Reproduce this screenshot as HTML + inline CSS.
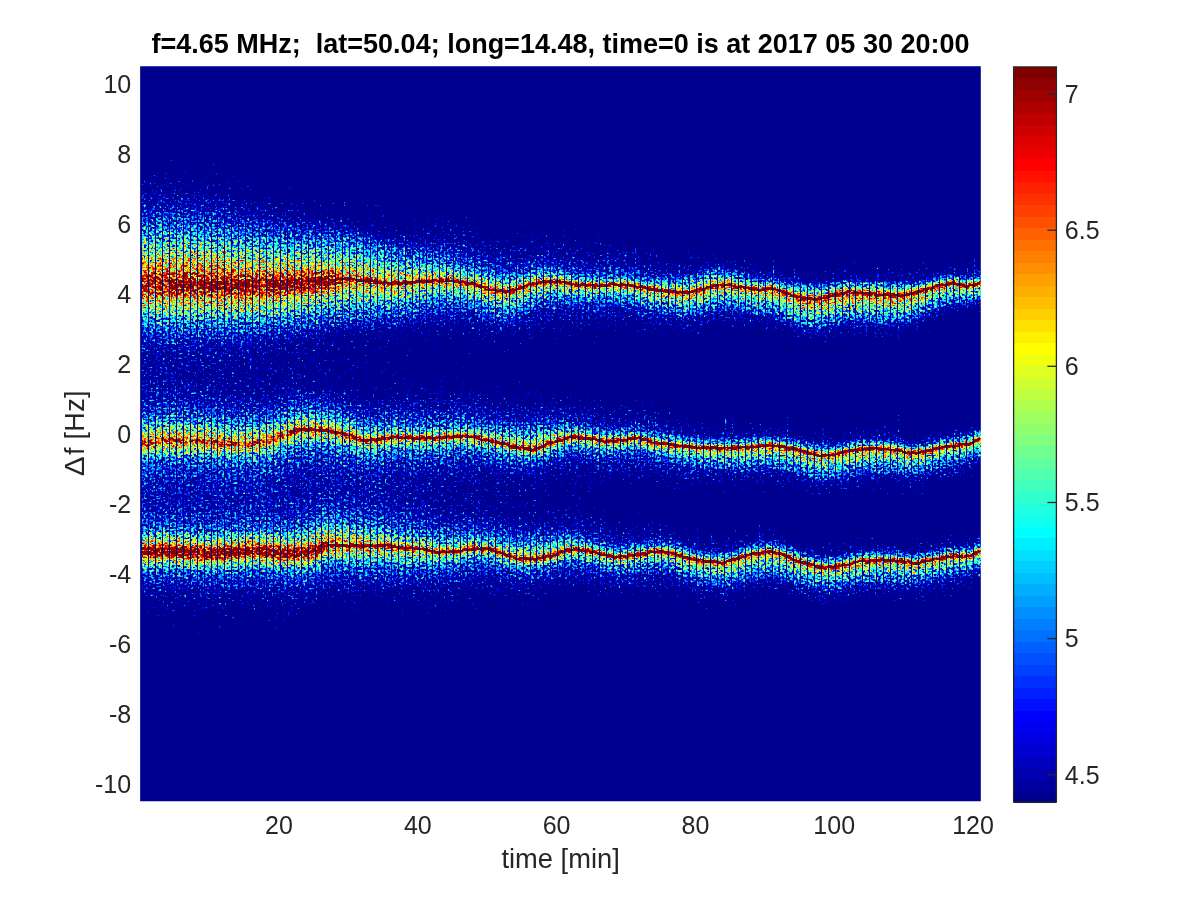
<!DOCTYPE html><html><head><meta charset="utf-8"><title>Doppler spectrogram</title><style>html,body{margin:0;padding:0;background:#fff}svg{display:block}text{font-family:"Liberation Sans",Arial,Helvetica,sans-serif;fill:#262626}</style></head><body>
<svg width="1200" height="900" viewBox="0 0 1200 900">
<defs>
<filter id="spec" filterUnits="userSpaceOnUse" x="139" y="65" width="843" height="738" color-interpolation-filters="sRGB">
<feTurbulence type="fractalNoise" baseFrequency="0.32 0.40" numOctaves="1" seed="7" result="n1"/>
<feTurbulence type="fractalNoise" baseFrequency="0.52 0.58" numOctaves="1" seed="23" result="n2"/>
<feComposite in="n1" in2="n2" operator="arithmetic" k1="0" k2="0.55" k3="0.45" k4="0" result="n"/>
<feColorMatrix in="n" type="matrix" values="1 0 0 0 0  1 0 0 0 0  1 0 0 0 0  0 0 0 0 1" result="ng0"/>
<feComponentTransfer in="ng0" result="ng"><feFuncR type="table" tableValues="0.084 0.084 0.084 0.084 0.084 0.084 0.084 0.084 0.084 0.084 0.084 0.084 0.084 0.084 0.084 0.084 0.084 0.084 0.084 0.084 0.084 0.084 0.084 0.084 0.119 0.153 0.185 0.216 0.246 0.274 0.301 0.327 0.353 0.378 0.403 0.428 0.452 0.476 0.500 0.524 0.547 0.572 0.596 0.619 0.636 0.652 0.668 0.684 0.700 0.717 0.734 0.750 0.768 0.785 0.802 0.820 0.839 0.857 0.877 0.897 0.919 0.942 0.964 0.970 0.970 0.970 0.970 0.970 0.970 0.970 0.970 0.970 0.970 0.970 0.970 0.970 0.970 0.970 0.970 0.970 0.970 0.970 0.970 0.970 0.970 0.970"/><feFuncG type="table" tableValues="0.084 0.084 0.084 0.084 0.084 0.084 0.084 0.084 0.084 0.084 0.084 0.084 0.084 0.084 0.084 0.084 0.084 0.084 0.084 0.084 0.084 0.084 0.084 0.084 0.119 0.153 0.185 0.216 0.246 0.274 0.301 0.327 0.353 0.378 0.403 0.428 0.452 0.476 0.500 0.524 0.547 0.572 0.596 0.619 0.636 0.652 0.668 0.684 0.700 0.717 0.734 0.750 0.768 0.785 0.802 0.820 0.839 0.857 0.877 0.897 0.919 0.942 0.964 0.970 0.970 0.970 0.970 0.970 0.970 0.970 0.970 0.970 0.970 0.970 0.970 0.970 0.970 0.970 0.970 0.970 0.970 0.970 0.970 0.970 0.970 0.970"/><feFuncB type="table" tableValues="0.084 0.084 0.084 0.084 0.084 0.084 0.084 0.084 0.084 0.084 0.084 0.084 0.084 0.084 0.084 0.084 0.084 0.084 0.084 0.084 0.084 0.084 0.084 0.084 0.119 0.153 0.185 0.216 0.246 0.274 0.301 0.327 0.353 0.378 0.403 0.428 0.452 0.476 0.500 0.524 0.547 0.572 0.596 0.619 0.636 0.652 0.668 0.684 0.700 0.717 0.734 0.750 0.768 0.785 0.802 0.820 0.839 0.857 0.877 0.897 0.919 0.942 0.964 0.970 0.970 0.970 0.970 0.970 0.970 0.970 0.970 0.970 0.970 0.970 0.970 0.970 0.970 0.970 0.970 0.970 0.970 0.970 0.970 0.970 0.970 0.970"/></feComponentTransfer>
<feComposite in="SourceGraphic" in2="ng" operator="arithmetic" k1="0" k2="2.4" k3="1.300" k4="-1.800" result="c"/>
<feComponentTransfer in="c"><feFuncR type="discrete" tableValues="0.0000 0.0000 0.0000 0.0000 0.0000 0.0000 0.0000 0.0000 0.0000 0.0000 0.0000 0.0000 0.0000 0.0000 0.0000 0.0000 0.0000 0.0000 0.0000 0.0000 0.0000 0.0000 0.0000 0.0000 0.0625 0.1250 0.1875 0.2500 0.3125 0.3750 0.4375 0.5000 0.5625 0.6250 0.6875 0.7500 0.8125 0.8750 0.9375 1.0000 1.0000 1.0000 1.0000 1.0000 1.0000 1.0000 1.0000 1.0000 1.0000 1.0000 1.0000 1.0000 1.0000 1.0000 1.0000 1.0000 0.9375 0.8750 0.8125 0.7500 0.6875 0.6250 0.5625 0.5000"/><feFuncG type="discrete" tableValues="0.0000 0.0000 0.0000 0.0000 0.0000 0.0000 0.0000 0.0000 0.0625 0.1250 0.1875 0.2500 0.3125 0.3750 0.4375 0.5000 0.5625 0.6250 0.6875 0.7500 0.8125 0.8750 0.9375 1.0000 1.0000 1.0000 1.0000 1.0000 1.0000 1.0000 1.0000 1.0000 1.0000 1.0000 1.0000 1.0000 1.0000 1.0000 1.0000 1.0000 0.9375 0.8750 0.8125 0.7500 0.6875 0.6250 0.5625 0.5000 0.4375 0.3750 0.3125 0.2500 0.1875 0.1250 0.0625 0.0000 0.0000 0.0000 0.0000 0.0000 0.0000 0.0000 0.0000 0.0000"/><feFuncB type="discrete" tableValues="0.5625 0.6250 0.6875 0.7500 0.8125 0.8750 0.9375 1.0000 1.0000 1.0000 1.0000 1.0000 1.0000 1.0000 1.0000 1.0000 1.0000 1.0000 1.0000 1.0000 1.0000 1.0000 1.0000 1.0000 0.9375 0.8750 0.8125 0.7500 0.6875 0.6250 0.5625 0.5000 0.4375 0.3750 0.3125 0.2500 0.1875 0.1250 0.0625 0.0000 0.0000 0.0000 0.0000 0.0000 0.0000 0.0000 0.0000 0.0000 0.0000 0.0000 0.0000 0.0000 0.0000 0.0000 0.0000 0.0000 0.0000 0.0000 0.0000 0.0000 0.0000 0.0000 0.0000 0.0000"/><feFuncA type="linear" slope="0" intercept="1"/></feComponentTransfer>
</filter>
<linearGradient id="c0" x1="0" y1="0" x2="0" y2="1"><stop offset="0.0000" stop-color="#181818"/><stop offset="0.0776" stop-color="#191919"/><stop offset="0.0939" stop-color="#262626"/><stop offset="0.1197" stop-color="#484848"/><stop offset="0.1946" stop-color="#707070"/><stop offset="0.2381" stop-color="#929292"/><stop offset="0.2952" stop-color="#cbcbcb"/><stop offset="0.3034" stop-color="#c2c2c2"/><stop offset="0.3442" stop-color="#8c8c8c"/><stop offset="0.3714" stop-color="#727272"/><stop offset="0.3918" stop-color="#676767"/><stop offset="0.4190" stop-color="#646464"/><stop offset="0.4476" stop-color="#6b6b6b"/><stop offset="0.4735" stop-color="#7c7c7c"/><stop offset="0.4844" stop-color="#888888"/><stop offset="0.5048" stop-color="#afafaf"/><stop offset="0.5129" stop-color="#bfbfbf"/><stop offset="0.5361" stop-color="#888888"/><stop offset="0.5429" stop-color="#7f7f7f"/><stop offset="0.5660" stop-color="#727272"/><stop offset="0.5864" stop-color="#6e6e6e"/><stop offset="0.6041" stop-color="#727272"/><stop offset="0.6259" stop-color="#7e7e7e"/><stop offset="0.6299" stop-color="#838383"/><stop offset="0.6422" stop-color="#9e9e9e"/><stop offset="0.6599" stop-color="#cbcbcb"/><stop offset="0.6694" stop-color="#b1b1b1"/><stop offset="0.6844" stop-color="#898989"/><stop offset="0.6898" stop-color="#7e7e7e"/><stop offset="0.7156" stop-color="#666666"/><stop offset="0.7442" stop-color="#555555"/><stop offset="0.7728" stop-color="#464646"/><stop offset="0.7946" stop-color="#282828"/><stop offset="0.8109" stop-color="#1a1a1a"/><stop offset="0.8231" stop-color="#181818"/><stop offset="1.0000" stop-color="#181818"/></linearGradient>
<linearGradient id="c1" x1="0" y1="0" x2="0" y2="1"><stop offset="0.0000" stop-color="#181818"/><stop offset="0.0762" stop-color="#191919"/><stop offset="0.0925" stop-color="#262626"/><stop offset="0.1184" stop-color="#484848"/><stop offset="0.1932" stop-color="#6f6f6f"/><stop offset="0.2367" stop-color="#919191"/><stop offset="0.2952" stop-color="#cccccc"/><stop offset="0.3170" stop-color="#afafaf"/><stop offset="0.3483" stop-color="#878787"/><stop offset="0.3728" stop-color="#717171"/><stop offset="0.3932" stop-color="#676767"/><stop offset="0.4218" stop-color="#646464"/><stop offset="0.4503" stop-color="#6e6e6e"/><stop offset="0.4762" stop-color="#808080"/><stop offset="0.4857" stop-color="#8d8d8d"/><stop offset="0.5116" stop-color="#bfbfbf"/><stop offset="0.5333" stop-color="#8a8a8a"/><stop offset="0.5415" stop-color="#7f7f7f"/><stop offset="0.5646" stop-color="#727272"/><stop offset="0.5850" stop-color="#6e6e6e"/><stop offset="0.6041" stop-color="#727272"/><stop offset="0.6272" stop-color="#808080"/><stop offset="0.6367" stop-color="#919191"/><stop offset="0.6585" stop-color="#c9c9c9"/><stop offset="0.6599" stop-color="#cbcbcb"/><stop offset="0.6830" stop-color="#8b8b8b"/><stop offset="0.6884" stop-color="#7f7f7f"/><stop offset="0.7143" stop-color="#676767"/><stop offset="0.7415" stop-color="#565656"/><stop offset="0.7714" stop-color="#474747"/><stop offset="0.7946" stop-color="#272727"/><stop offset="0.8109" stop-color="#191919"/><stop offset="0.8245" stop-color="#181818"/><stop offset="1.0000" stop-color="#181818"/></linearGradient>
<linearGradient id="c2" x1="0" y1="0" x2="0" y2="1"><stop offset="0.0000" stop-color="#181818"/><stop offset="0.0748" stop-color="#191919"/><stop offset="0.0912" stop-color="#252525"/><stop offset="0.1184" stop-color="#484848"/><stop offset="0.1932" stop-color="#707070"/><stop offset="0.2381" stop-color="#939393"/><stop offset="0.2966" stop-color="#cccccc"/><stop offset="0.3456" stop-color="#8b8b8b"/><stop offset="0.3728" stop-color="#727272"/><stop offset="0.3932" stop-color="#676767"/><stop offset="0.4204" stop-color="#656565"/><stop offset="0.4503" stop-color="#6f6f6f"/><stop offset="0.4748" stop-color="#808080"/><stop offset="0.4844" stop-color="#8d8d8d"/><stop offset="0.5102" stop-color="#bfbfbf"/><stop offset="0.5320" stop-color="#898989"/><stop offset="0.5401" stop-color="#7f7f7f"/><stop offset="0.5633" stop-color="#727272"/><stop offset="0.5837" stop-color="#6e6e6e"/><stop offset="0.6027" stop-color="#717171"/><stop offset="0.6245" stop-color="#7e7e7e"/><stop offset="0.6299" stop-color="#858585"/><stop offset="0.6408" stop-color="#9d9d9d"/><stop offset="0.6585" stop-color="#cbcbcb"/><stop offset="0.6599" stop-color="#cacaca"/><stop offset="0.6816" stop-color="#8d8d8d"/><stop offset="0.6884" stop-color="#7e7e7e"/><stop offset="0.7143" stop-color="#666666"/><stop offset="0.7429" stop-color="#555555"/><stop offset="0.7714" stop-color="#474747"/><stop offset="0.7946" stop-color="#272727"/><stop offset="0.8109" stop-color="#191919"/><stop offset="0.8367" stop-color="#181818"/><stop offset="1.0000" stop-color="#181818"/></linearGradient>
<linearGradient id="c3" x1="0" y1="0" x2="0" y2="1"><stop offset="0.0000" stop-color="#181818"/><stop offset="0.0748" stop-color="#191919"/><stop offset="0.0912" stop-color="#262626"/><stop offset="0.1170" stop-color="#484848"/><stop offset="0.1932" stop-color="#707070"/><stop offset="0.2395" stop-color="#949494"/><stop offset="0.2966" stop-color="#cccccc"/><stop offset="0.3483" stop-color="#898989"/><stop offset="0.3741" stop-color="#717171"/><stop offset="0.3946" stop-color="#676767"/><stop offset="0.4218" stop-color="#656565"/><stop offset="0.4503" stop-color="#6f6f6f"/><stop offset="0.4735" stop-color="#7f7f7f"/><stop offset="0.4844" stop-color="#8e8e8e"/><stop offset="0.5088" stop-color="#bfbfbf"/><stop offset="0.5320" stop-color="#888888"/><stop offset="0.5401" stop-color="#7e7e7e"/><stop offset="0.5633" stop-color="#717171"/><stop offset="0.5837" stop-color="#6e6e6e"/><stop offset="0.6027" stop-color="#717171"/><stop offset="0.6245" stop-color="#7e7e7e"/><stop offset="0.6299" stop-color="#858585"/><stop offset="0.6408" stop-color="#9d9d9d"/><stop offset="0.6585" stop-color="#cbcbcb"/><stop offset="0.6599" stop-color="#cacaca"/><stop offset="0.6816" stop-color="#8d8d8d"/><stop offset="0.6884" stop-color="#7e7e7e"/><stop offset="0.7143" stop-color="#666666"/><stop offset="0.7429" stop-color="#555555"/><stop offset="0.7714" stop-color="#474747"/><stop offset="0.7946" stop-color="#262626"/><stop offset="0.8109" stop-color="#191919"/><stop offset="0.8395" stop-color="#181818"/><stop offset="1.0000" stop-color="#181818"/></linearGradient>
<linearGradient id="c4" x1="0" y1="0" x2="0" y2="1"><stop offset="0.0000" stop-color="#181818"/><stop offset="0.0735" stop-color="#181818"/><stop offset="0.0898" stop-color="#252525"/><stop offset="0.1170" stop-color="#484848"/><stop offset="0.1918" stop-color="#6f6f6f"/><stop offset="0.2381" stop-color="#939393"/><stop offset="0.2966" stop-color="#cbcbcb"/><stop offset="0.3088" stop-color="#bdbdbd"/><stop offset="0.3456" stop-color="#8c8c8c"/><stop offset="0.3728" stop-color="#737373"/><stop offset="0.3918" stop-color="#686868"/><stop offset="0.4177" stop-color="#656565"/><stop offset="0.4449" stop-color="#6c6c6c"/><stop offset="0.4667" stop-color="#7a7a7a"/><stop offset="0.4789" stop-color="#858585"/><stop offset="0.4871" stop-color="#939393"/><stop offset="0.5088" stop-color="#bebebe"/><stop offset="0.5320" stop-color="#888888"/><stop offset="0.5401" stop-color="#7e7e7e"/><stop offset="0.5646" stop-color="#717171"/><stop offset="0.5864" stop-color="#6d6d6d"/><stop offset="0.6054" stop-color="#727272"/><stop offset="0.6272" stop-color="#808080"/><stop offset="0.6354" stop-color="#8e8e8e"/><stop offset="0.6599" stop-color="#cbcbcb"/><stop offset="0.6830" stop-color="#8b8b8b"/><stop offset="0.6884" stop-color="#7f7f7f"/><stop offset="0.7143" stop-color="#676767"/><stop offset="0.7415" stop-color="#565656"/><stop offset="0.7714" stop-color="#484848"/><stop offset="0.7946" stop-color="#272727"/><stop offset="0.8109" stop-color="#1a1a1a"/><stop offset="0.8231" stop-color="#181818"/><stop offset="1.0000" stop-color="#181818"/></linearGradient>
<linearGradient id="c5" x1="0" y1="0" x2="0" y2="1"><stop offset="0.0000" stop-color="#181818"/><stop offset="0.0748" stop-color="#191919"/><stop offset="0.0912" stop-color="#252525"/><stop offset="0.1170" stop-color="#484848"/><stop offset="0.1932" stop-color="#707070"/><stop offset="0.2408" stop-color="#959595"/><stop offset="0.2980" stop-color="#cbcbcb"/><stop offset="0.3469" stop-color="#8b8b8b"/><stop offset="0.3741" stop-color="#727272"/><stop offset="0.3946" stop-color="#686868"/><stop offset="0.4218" stop-color="#656565"/><stop offset="0.4503" stop-color="#6f6f6f"/><stop offset="0.4735" stop-color="#7f7f7f"/><stop offset="0.4844" stop-color="#8d8d8d"/><stop offset="0.5088" stop-color="#bebebe"/><stop offset="0.5320" stop-color="#888888"/><stop offset="0.5401" stop-color="#7e7e7e"/><stop offset="0.5646" stop-color="#717171"/><stop offset="0.5864" stop-color="#6d6d6d"/><stop offset="0.6054" stop-color="#727272"/><stop offset="0.6286" stop-color="#808080"/><stop offset="0.6395" stop-color="#969696"/><stop offset="0.6599" stop-color="#cbcbcb"/><stop offset="0.6626" stop-color="#c6c6c6"/><stop offset="0.6830" stop-color="#8c8c8c"/><stop offset="0.6898" stop-color="#7e7e7e"/><stop offset="0.7156" stop-color="#666666"/><stop offset="0.7442" stop-color="#555555"/><stop offset="0.7728" stop-color="#474747"/><stop offset="0.7959" stop-color="#262626"/><stop offset="0.8122" stop-color="#191919"/><stop offset="0.8449" stop-color="#181818"/><stop offset="1.0000" stop-color="#181818"/></linearGradient>
<linearGradient id="c6" x1="0" y1="0" x2="0" y2="1"><stop offset="0.0000" stop-color="#181818"/><stop offset="0.0762" stop-color="#191919"/><stop offset="0.0925" stop-color="#252525"/><stop offset="0.1184" stop-color="#484848"/><stop offset="0.1932" stop-color="#6f6f6f"/><stop offset="0.2408" stop-color="#959595"/><stop offset="0.2966" stop-color="#cccccc"/><stop offset="0.3184" stop-color="#afafaf"/><stop offset="0.3497" stop-color="#878787"/><stop offset="0.3741" stop-color="#727272"/><stop offset="0.3946" stop-color="#676767"/><stop offset="0.4218" stop-color="#646464"/><stop offset="0.4503" stop-color="#6e6e6e"/><stop offset="0.4735" stop-color="#7f7f7f"/><stop offset="0.4844" stop-color="#8d8d8d"/><stop offset="0.5088" stop-color="#bebebe"/><stop offset="0.5320" stop-color="#888888"/><stop offset="0.5401" stop-color="#7e7e7e"/><stop offset="0.5646" stop-color="#717171"/><stop offset="0.5864" stop-color="#6d6d6d"/><stop offset="0.6068" stop-color="#727272"/><stop offset="0.6286" stop-color="#808080"/><stop offset="0.6381" stop-color="#919191"/><stop offset="0.6599" stop-color="#c9c9c9"/><stop offset="0.6612" stop-color="#cbcbcb"/><stop offset="0.6830" stop-color="#8e8e8e"/><stop offset="0.6898" stop-color="#7f7f7f"/><stop offset="0.7156" stop-color="#676767"/><stop offset="0.7442" stop-color="#565656"/><stop offset="0.7728" stop-color="#484848"/><stop offset="0.7959" stop-color="#272727"/><stop offset="0.8122" stop-color="#191919"/><stop offset="0.8259" stop-color="#181818"/><stop offset="1.0000" stop-color="#181818"/></linearGradient>
<linearGradient id="c7" x1="0" y1="0" x2="0" y2="1"><stop offset="0.0000" stop-color="#181818"/><stop offset="0.0776" stop-color="#191919"/><stop offset="0.0939" stop-color="#252525"/><stop offset="0.1197" stop-color="#484848"/><stop offset="0.1932" stop-color="#6f6f6f"/><stop offset="0.2408" stop-color="#959595"/><stop offset="0.2966" stop-color="#cccccc"/><stop offset="0.3456" stop-color="#8b8b8b"/><stop offset="0.3728" stop-color="#727272"/><stop offset="0.3932" stop-color="#676767"/><stop offset="0.4204" stop-color="#646464"/><stop offset="0.4476" stop-color="#6c6c6c"/><stop offset="0.4707" stop-color="#7c7c7c"/><stop offset="0.4830" stop-color="#898989"/><stop offset="0.5088" stop-color="#bdbdbd"/><stop offset="0.5102" stop-color="#bdbdbd"/><stop offset="0.5320" stop-color="#898989"/><stop offset="0.5401" stop-color="#7f7f7f"/><stop offset="0.5646" stop-color="#717171"/><stop offset="0.5864" stop-color="#6d6d6d"/><stop offset="0.6068" stop-color="#727272"/><stop offset="0.6299" stop-color="#808080"/><stop offset="0.6408" stop-color="#979797"/><stop offset="0.6612" stop-color="#cbcbcb"/><stop offset="0.6667" stop-color="#bebebe"/><stop offset="0.6830" stop-color="#8f8f8f"/><stop offset="0.6898" stop-color="#7f7f7f"/><stop offset="0.7156" stop-color="#676767"/><stop offset="0.7442" stop-color="#565656"/><stop offset="0.7741" stop-color="#464646"/><stop offset="0.7973" stop-color="#262626"/><stop offset="0.8136" stop-color="#191919"/><stop offset="0.8694" stop-color="#181818"/><stop offset="1.0000" stop-color="#181818"/></linearGradient>
<linearGradient id="c8" x1="0" y1="0" x2="0" y2="1"><stop offset="0.0000" stop-color="#181818"/><stop offset="0.0789" stop-color="#191919"/><stop offset="0.0952" stop-color="#262626"/><stop offset="0.1211" stop-color="#484848"/><stop offset="0.1932" stop-color="#6e6e6e"/><stop offset="0.2408" stop-color="#959595"/><stop offset="0.2966" stop-color="#cccccc"/><stop offset="0.3456" stop-color="#8b8b8b"/><stop offset="0.3714" stop-color="#737373"/><stop offset="0.3918" stop-color="#686868"/><stop offset="0.4177" stop-color="#646464"/><stop offset="0.4395" stop-color="#686868"/><stop offset="0.4626" stop-color="#747474"/><stop offset="0.4789" stop-color="#838383"/><stop offset="0.4871" stop-color="#909090"/><stop offset="0.5102" stop-color="#bebebe"/><stop offset="0.5320" stop-color="#898989"/><stop offset="0.5401" stop-color="#7f7f7f"/><stop offset="0.5633" stop-color="#727272"/><stop offset="0.5837" stop-color="#6d6d6d"/><stop offset="0.6041" stop-color="#707070"/><stop offset="0.6272" stop-color="#7e7e7e"/><stop offset="0.6327" stop-color="#848484"/><stop offset="0.6435" stop-color="#9c9c9c"/><stop offset="0.6612" stop-color="#cacaca"/><stop offset="0.6626" stop-color="#cbcbcb"/><stop offset="0.6844" stop-color="#8d8d8d"/><stop offset="0.6912" stop-color="#7e7e7e"/><stop offset="0.7170" stop-color="#676767"/><stop offset="0.7456" stop-color="#565656"/><stop offset="0.7741" stop-color="#474747"/><stop offset="0.7973" stop-color="#272727"/><stop offset="0.8136" stop-color="#191919"/><stop offset="0.8299" stop-color="#181818"/><stop offset="1.0000" stop-color="#181818"/></linearGradient>
<linearGradient id="c9" x1="0" y1="0" x2="0" y2="1"><stop offset="0.0000" stop-color="#181818"/><stop offset="0.0803" stop-color="#181818"/><stop offset="0.0966" stop-color="#252525"/><stop offset="0.1238" stop-color="#484848"/><stop offset="0.1946" stop-color="#6e6e6e"/><stop offset="0.2422" stop-color="#959595"/><stop offset="0.2966" stop-color="#cccccc"/><stop offset="0.3456" stop-color="#8b8b8b"/><stop offset="0.3728" stop-color="#727272"/><stop offset="0.3932" stop-color="#676767"/><stop offset="0.4204" stop-color="#636363"/><stop offset="0.4463" stop-color="#6a6a6a"/><stop offset="0.4694" stop-color="#797979"/><stop offset="0.4830" stop-color="#878787"/><stop offset="0.5102" stop-color="#bdbdbd"/><stop offset="0.5156" stop-color="#b2b2b2"/><stop offset="0.5333" stop-color="#888888"/><stop offset="0.5415" stop-color="#7e7e7e"/><stop offset="0.5660" stop-color="#717171"/><stop offset="0.5878" stop-color="#6d6d6d"/><stop offset="0.6082" stop-color="#727272"/><stop offset="0.6313" stop-color="#808080"/><stop offset="0.6422" stop-color="#979797"/><stop offset="0.6626" stop-color="#cccccc"/><stop offset="0.6857" stop-color="#8b8b8b"/><stop offset="0.6912" stop-color="#7f7f7f"/><stop offset="0.7170" stop-color="#676767"/><stop offset="0.7456" stop-color="#565656"/><stop offset="0.7741" stop-color="#484848"/><stop offset="0.7973" stop-color="#282828"/><stop offset="0.8136" stop-color="#1a1a1a"/><stop offset="0.8245" stop-color="#181818"/><stop offset="1.0000" stop-color="#181818"/></linearGradient>
<linearGradient id="c10" x1="0" y1="0" x2="0" y2="1"><stop offset="0.0000" stop-color="#181818"/><stop offset="0.0830" stop-color="#191919"/><stop offset="0.0993" stop-color="#262626"/><stop offset="0.1252" stop-color="#484848"/><stop offset="0.1946" stop-color="#6d6d6d"/><stop offset="0.2408" stop-color="#939393"/><stop offset="0.2966" stop-color="#cccccc"/><stop offset="0.3483" stop-color="#898989"/><stop offset="0.3741" stop-color="#717171"/><stop offset="0.3946" stop-color="#676767"/><stop offset="0.4218" stop-color="#636363"/><stop offset="0.4476" stop-color="#6a6a6a"/><stop offset="0.4707" stop-color="#7a7a7a"/><stop offset="0.4830" stop-color="#868686"/><stop offset="0.4925" stop-color="#979797"/><stop offset="0.5116" stop-color="#bdbdbd"/><stop offset="0.5333" stop-color="#898989"/><stop offset="0.5429" stop-color="#7e7e7e"/><stop offset="0.5660" stop-color="#717171"/><stop offset="0.5878" stop-color="#6d6d6d"/><stop offset="0.6082" stop-color="#727272"/><stop offset="0.6313" stop-color="#818181"/><stop offset="0.6422" stop-color="#989898"/><stop offset="0.6626" stop-color="#cccccc"/><stop offset="0.6844" stop-color="#8e8e8e"/><stop offset="0.6912" stop-color="#7f7f7f"/><stop offset="0.7170" stop-color="#676767"/><stop offset="0.7456" stop-color="#565656"/><stop offset="0.7741" stop-color="#484848"/><stop offset="0.7973" stop-color="#272727"/><stop offset="0.8136" stop-color="#1a1a1a"/><stop offset="0.8259" stop-color="#181818"/><stop offset="1.0000" stop-color="#181818"/></linearGradient>
<linearGradient id="c11" x1="0" y1="0" x2="0" y2="1"><stop offset="0.0000" stop-color="#181818"/><stop offset="0.0871" stop-color="#191919"/><stop offset="0.1020" stop-color="#252525"/><stop offset="0.1293" stop-color="#484848"/><stop offset="0.1959" stop-color="#6d6d6d"/><stop offset="0.2422" stop-color="#939393"/><stop offset="0.2966" stop-color="#cbcbcb"/><stop offset="0.3007" stop-color="#c7c7c7"/><stop offset="0.3456" stop-color="#8c8c8c"/><stop offset="0.3701" stop-color="#747474"/><stop offset="0.3905" stop-color="#686868"/><stop offset="0.4150" stop-color="#636363"/><stop offset="0.4354" stop-color="#656565"/><stop offset="0.4558" stop-color="#6e6e6e"/><stop offset="0.4789" stop-color="#808080"/><stop offset="0.4884" stop-color="#8d8d8d"/><stop offset="0.5116" stop-color="#bcbcbc"/><stop offset="0.5129" stop-color="#bcbcbc"/><stop offset="0.5347" stop-color="#888888"/><stop offset="0.5442" stop-color="#7e7e7e"/><stop offset="0.5673" stop-color="#717171"/><stop offset="0.5891" stop-color="#6e6e6e"/><stop offset="0.6082" stop-color="#727272"/><stop offset="0.6299" stop-color="#808080"/><stop offset="0.6408" stop-color="#969696"/><stop offset="0.6612" stop-color="#cacaca"/><stop offset="0.6626" stop-color="#cacaca"/><stop offset="0.6844" stop-color="#8c8c8c"/><stop offset="0.6898" stop-color="#808080"/><stop offset="0.7156" stop-color="#676767"/><stop offset="0.7456" stop-color="#555555"/><stop offset="0.7741" stop-color="#474747"/><stop offset="0.7973" stop-color="#272727"/><stop offset="0.8136" stop-color="#191919"/><stop offset="0.8340" stop-color="#181818"/><stop offset="1.0000" stop-color="#181818"/></linearGradient>
<linearGradient id="c12" x1="0" y1="0" x2="0" y2="1"><stop offset="0.0000" stop-color="#181818"/><stop offset="0.0898" stop-color="#181818"/><stop offset="0.1048" stop-color="#242424"/><stop offset="0.1293" stop-color="#444444"/><stop offset="0.1374" stop-color="#4b4b4b"/><stop offset="0.1959" stop-color="#6b6b6b"/><stop offset="0.2422" stop-color="#929292"/><stop offset="0.2980" stop-color="#cbcbcb"/><stop offset="0.3456" stop-color="#8c8c8c"/><stop offset="0.3701" stop-color="#747474"/><stop offset="0.3905" stop-color="#676767"/><stop offset="0.4150" stop-color="#626262"/><stop offset="0.4367" stop-color="#646464"/><stop offset="0.4585" stop-color="#6e6e6e"/><stop offset="0.4816" stop-color="#828282"/><stop offset="0.4898" stop-color="#8d8d8d"/><stop offset="0.5129" stop-color="#bdbdbd"/><stop offset="0.5211" stop-color="#aaaaaa"/><stop offset="0.5361" stop-color="#888888"/><stop offset="0.5442" stop-color="#7e7e7e"/><stop offset="0.5673" stop-color="#727272"/><stop offset="0.5878" stop-color="#6e6e6e"/><stop offset="0.6068" stop-color="#727272"/><stop offset="0.6286" stop-color="#7f7f7f"/><stop offset="0.6354" stop-color="#8b8b8b"/><stop offset="0.6517" stop-color="#b3b3b3"/><stop offset="0.6612" stop-color="#cccccc"/><stop offset="0.6844" stop-color="#8b8b8b"/><stop offset="0.6898" stop-color="#7f7f7f"/><stop offset="0.7156" stop-color="#676767"/><stop offset="0.7442" stop-color="#565656"/><stop offset="0.7741" stop-color="#464646"/><stop offset="0.7959" stop-color="#282828"/><stop offset="0.8122" stop-color="#1a1a1a"/><stop offset="0.8231" stop-color="#181818"/><stop offset="1.0000" stop-color="#181818"/></linearGradient>
<linearGradient id="c13" x1="0" y1="0" x2="0" y2="1"><stop offset="0.0000" stop-color="#181818"/><stop offset="0.0939" stop-color="#191919"/><stop offset="0.1088" stop-color="#242424"/><stop offset="0.1361" stop-color="#484848"/><stop offset="0.1973" stop-color="#6a6a6a"/><stop offset="0.2435" stop-color="#929292"/><stop offset="0.2980" stop-color="#cbcbcb"/><stop offset="0.3456" stop-color="#8b8b8b"/><stop offset="0.3701" stop-color="#737373"/><stop offset="0.3905" stop-color="#676767"/><stop offset="0.4150" stop-color="#616161"/><stop offset="0.4381" stop-color="#646464"/><stop offset="0.4585" stop-color="#6d6d6d"/><stop offset="0.4830" stop-color="#828282"/><stop offset="0.4898" stop-color="#8c8c8c"/><stop offset="0.5129" stop-color="#bbbbbb"/><stop offset="0.5143" stop-color="#bcbcbc"/><stop offset="0.5361" stop-color="#888888"/><stop offset="0.5456" stop-color="#7e7e7e"/><stop offset="0.5687" stop-color="#717171"/><stop offset="0.5891" stop-color="#6e6e6e"/><stop offset="0.6068" stop-color="#737373"/><stop offset="0.6286" stop-color="#808080"/><stop offset="0.6395" stop-color="#959595"/><stop offset="0.6599" stop-color="#cacaca"/><stop offset="0.6612" stop-color="#cbcbcb"/><stop offset="0.6830" stop-color="#8c8c8c"/><stop offset="0.6898" stop-color="#7e7e7e"/><stop offset="0.7156" stop-color="#676767"/><stop offset="0.7456" stop-color="#555555"/><stop offset="0.7728" stop-color="#474747"/><stop offset="0.7959" stop-color="#272727"/><stop offset="0.8122" stop-color="#191919"/><stop offset="0.8286" stop-color="#181818"/><stop offset="1.0000" stop-color="#181818"/></linearGradient>
<linearGradient id="c14" x1="0" y1="0" x2="0" y2="1"><stop offset="0.0000" stop-color="#181818"/><stop offset="0.0980" stop-color="#191919"/><stop offset="0.1129" stop-color="#252525"/><stop offset="0.1388" stop-color="#484848"/><stop offset="0.1973" stop-color="#696969"/><stop offset="0.2463" stop-color="#939393"/><stop offset="0.2980" stop-color="#cbcbcb"/><stop offset="0.3456" stop-color="#8b8b8b"/><stop offset="0.3701" stop-color="#737373"/><stop offset="0.3905" stop-color="#666666"/><stop offset="0.4150" stop-color="#616161"/><stop offset="0.4408" stop-color="#646464"/><stop offset="0.4612" stop-color="#6f6f6f"/><stop offset="0.4844" stop-color="#848484"/><stop offset="0.4912" stop-color="#8f8f8f"/><stop offset="0.5129" stop-color="#bcbcbc"/><stop offset="0.5211" stop-color="#aaaaaa"/><stop offset="0.5347" stop-color="#898989"/><stop offset="0.5442" stop-color="#7e7e7e"/><stop offset="0.5673" stop-color="#727272"/><stop offset="0.5878" stop-color="#6e6e6e"/><stop offset="0.6068" stop-color="#737373"/><stop offset="0.6286" stop-color="#818181"/><stop offset="0.6395" stop-color="#979797"/><stop offset="0.6599" stop-color="#cbcbcb"/><stop offset="0.6680" stop-color="#b5b5b5"/><stop offset="0.6844" stop-color="#888888"/><stop offset="0.6898" stop-color="#7d7d7d"/><stop offset="0.7156" stop-color="#666666"/><stop offset="0.7469" stop-color="#545454"/><stop offset="0.7728" stop-color="#464646"/><stop offset="0.7946" stop-color="#282828"/><stop offset="0.8095" stop-color="#1a1a1a"/><stop offset="0.8190" stop-color="#181818"/><stop offset="1.0000" stop-color="#181818"/></linearGradient>
<linearGradient id="c15" x1="0" y1="0" x2="0" y2="1"><stop offset="0.0000" stop-color="#181818"/><stop offset="0.1020" stop-color="#191919"/><stop offset="0.1170" stop-color="#252525"/><stop offset="0.1415" stop-color="#484848"/><stop offset="0.1986" stop-color="#686868"/><stop offset="0.2463" stop-color="#929292"/><stop offset="0.2980" stop-color="#cacaca"/><stop offset="0.3469" stop-color="#898989"/><stop offset="0.3701" stop-color="#727272"/><stop offset="0.3918" stop-color="#656565"/><stop offset="0.4177" stop-color="#606060"/><stop offset="0.4435" stop-color="#646464"/><stop offset="0.4626" stop-color="#707070"/><stop offset="0.4844" stop-color="#848484"/><stop offset="0.4912" stop-color="#8f8f8f"/><stop offset="0.5129" stop-color="#bcbcbc"/><stop offset="0.5347" stop-color="#888888"/><stop offset="0.5442" stop-color="#7e7e7e"/><stop offset="0.5673" stop-color="#717171"/><stop offset="0.5878" stop-color="#6e6e6e"/><stop offset="0.6054" stop-color="#737373"/><stop offset="0.6272" stop-color="#808080"/><stop offset="0.6381" stop-color="#969696"/><stop offset="0.6585" stop-color="#c9c9c9"/><stop offset="0.6599" stop-color="#cbcbcb"/><stop offset="0.6816" stop-color="#8c8c8c"/><stop offset="0.6884" stop-color="#7e7e7e"/><stop offset="0.7143" stop-color="#676767"/><stop offset="0.7469" stop-color="#545454"/><stop offset="0.7714" stop-color="#474747"/><stop offset="0.7946" stop-color="#272727"/><stop offset="0.8095" stop-color="#1a1a1a"/><stop offset="0.8204" stop-color="#181818"/><stop offset="1.0000" stop-color="#181818"/></linearGradient>
<linearGradient id="c16" x1="0" y1="0" x2="0" y2="1"><stop offset="0.0000" stop-color="#181818"/><stop offset="0.1048" stop-color="#191919"/><stop offset="0.1197" stop-color="#252525"/><stop offset="0.1456" stop-color="#484848"/><stop offset="0.1986" stop-color="#676767"/><stop offset="0.2259" stop-color="#7f7f7f"/><stop offset="0.2531" stop-color="#999999"/><stop offset="0.2980" stop-color="#cacaca"/><stop offset="0.3442" stop-color="#8b8b8b"/><stop offset="0.3701" stop-color="#717171"/><stop offset="0.3905" stop-color="#646464"/><stop offset="0.4163" stop-color="#5f5f5f"/><stop offset="0.4422" stop-color="#636363"/><stop offset="0.4599" stop-color="#6d6d6d"/><stop offset="0.4830" stop-color="#838383"/><stop offset="0.4898" stop-color="#8d8d8d"/><stop offset="0.5116" stop-color="#bbbbbb"/><stop offset="0.5129" stop-color="#bbbbbb"/><stop offset="0.5333" stop-color="#8a8a8a"/><stop offset="0.5429" stop-color="#7e7e7e"/><stop offset="0.5660" stop-color="#727272"/><stop offset="0.5864" stop-color="#6f6f6f"/><stop offset="0.6041" stop-color="#737373"/><stop offset="0.6259" stop-color="#808080"/><stop offset="0.6354" stop-color="#929292"/><stop offset="0.6585" stop-color="#cbcbcb"/><stop offset="0.6626" stop-color="#c1c1c1"/><stop offset="0.6803" stop-color="#8e8e8e"/><stop offset="0.6871" stop-color="#7f7f7f"/><stop offset="0.7143" stop-color="#676767"/><stop offset="0.7483" stop-color="#535353"/><stop offset="0.7714" stop-color="#464646"/><stop offset="0.7932" stop-color="#272727"/><stop offset="0.8082" stop-color="#1a1a1a"/><stop offset="0.8190" stop-color="#181818"/><stop offset="1.0000" stop-color="#181818"/></linearGradient>
<linearGradient id="c17" x1="0" y1="0" x2="0" y2="1"><stop offset="0.0000" stop-color="#181818"/><stop offset="0.1075" stop-color="#191919"/><stop offset="0.1224" stop-color="#252525"/><stop offset="0.1483" stop-color="#484848"/><stop offset="0.1986" stop-color="#656565"/><stop offset="0.2245" stop-color="#7c7c7c"/><stop offset="0.2531" stop-color="#989898"/><stop offset="0.2980" stop-color="#c9c9c9"/><stop offset="0.3442" stop-color="#8b8b8b"/><stop offset="0.3701" stop-color="#707070"/><stop offset="0.3891" stop-color="#646464"/><stop offset="0.4150" stop-color="#5f5f5f"/><stop offset="0.4408" stop-color="#626262"/><stop offset="0.4585" stop-color="#6d6d6d"/><stop offset="0.4816" stop-color="#838383"/><stop offset="0.4871" stop-color="#8b8b8b"/><stop offset="0.5102" stop-color="#bcbcbc"/><stop offset="0.5320" stop-color="#888888"/><stop offset="0.5415" stop-color="#7e7e7e"/><stop offset="0.5646" stop-color="#717171"/><stop offset="0.5864" stop-color="#6e6e6e"/><stop offset="0.6054" stop-color="#737373"/><stop offset="0.6272" stop-color="#818181"/><stop offset="0.6367" stop-color="#939393"/><stop offset="0.6599" stop-color="#cbcbcb"/><stop offset="0.6830" stop-color="#8a8a8a"/><stop offset="0.6884" stop-color="#7f7f7f"/><stop offset="0.7143" stop-color="#676767"/><stop offset="0.7497" stop-color="#535353"/><stop offset="0.7714" stop-color="#484848"/><stop offset="0.7932" stop-color="#282828"/><stop offset="0.8082" stop-color="#1b1b1b"/><stop offset="0.8177" stop-color="#181818"/><stop offset="1.0000" stop-color="#181818"/></linearGradient>
<linearGradient id="c18" x1="0" y1="0" x2="0" y2="1"><stop offset="0.0000" stop-color="#181818"/><stop offset="0.1102" stop-color="#191919"/><stop offset="0.1252" stop-color="#252525"/><stop offset="0.1497" stop-color="#484848"/><stop offset="0.1986" stop-color="#646464"/><stop offset="0.2245" stop-color="#7b7b7b"/><stop offset="0.2544" stop-color="#989898"/><stop offset="0.2966" stop-color="#c8c8c8"/><stop offset="0.3007" stop-color="#c4c4c4"/><stop offset="0.3429" stop-color="#8b8b8b"/><stop offset="0.3701" stop-color="#6f6f6f"/><stop offset="0.3878" stop-color="#646464"/><stop offset="0.4122" stop-color="#5e5e5e"/><stop offset="0.4395" stop-color="#626262"/><stop offset="0.4571" stop-color="#6d6d6d"/><stop offset="0.4789" stop-color="#828282"/><stop offset="0.4857" stop-color="#8c8c8c"/><stop offset="0.5075" stop-color="#bbbbbb"/><stop offset="0.5306" stop-color="#868686"/><stop offset="0.5401" stop-color="#7d7d7d"/><stop offset="0.5633" stop-color="#707070"/><stop offset="0.5864" stop-color="#6d6d6d"/><stop offset="0.6068" stop-color="#737373"/><stop offset="0.6272" stop-color="#808080"/><stop offset="0.6367" stop-color="#919191"/><stop offset="0.6612" stop-color="#cacaca"/><stop offset="0.6830" stop-color="#8d8d8d"/><stop offset="0.6898" stop-color="#7f7f7f"/><stop offset="0.7170" stop-color="#676767"/><stop offset="0.7551" stop-color="#515151"/><stop offset="0.7728" stop-color="#484848"/><stop offset="0.7946" stop-color="#282828"/><stop offset="0.8095" stop-color="#1a1a1a"/><stop offset="0.8190" stop-color="#181818"/><stop offset="1.0000" stop-color="#181818"/></linearGradient>
<linearGradient id="c19" x1="0" y1="0" x2="0" y2="1"><stop offset="0.0000" stop-color="#181818"/><stop offset="0.1129" stop-color="#191919"/><stop offset="0.1279" stop-color="#252525"/><stop offset="0.1524" stop-color="#484848"/><stop offset="0.1986" stop-color="#626262"/><stop offset="0.2218" stop-color="#777777"/><stop offset="0.2408" stop-color="#8a8a8a"/><stop offset="0.2816" stop-color="#b7b7b7"/><stop offset="0.2966" stop-color="#c8c8c8"/><stop offset="0.3442" stop-color="#898989"/><stop offset="0.3714" stop-color="#6c6c6c"/><stop offset="0.3905" stop-color="#616161"/><stop offset="0.4163" stop-color="#5e5e5e"/><stop offset="0.4395" stop-color="#626262"/><stop offset="0.4558" stop-color="#6d6d6d"/><stop offset="0.4776" stop-color="#838383"/><stop offset="0.4830" stop-color="#8b8b8b"/><stop offset="0.5048" stop-color="#bababa"/><stop offset="0.5061" stop-color="#bababa"/><stop offset="0.5279" stop-color="#878787"/><stop offset="0.5361" stop-color="#7e7e7e"/><stop offset="0.5592" stop-color="#717171"/><stop offset="0.5810" stop-color="#6c6c6c"/><stop offset="0.6027" stop-color="#707070"/><stop offset="0.6259" stop-color="#7e7e7e"/><stop offset="0.6299" stop-color="#838383"/><stop offset="0.6395" stop-color="#959595"/><stop offset="0.6612" stop-color="#c8c8c8"/><stop offset="0.6626" stop-color="#cacaca"/><stop offset="0.6844" stop-color="#8c8c8c"/><stop offset="0.6912" stop-color="#7e7e7e"/><stop offset="0.7184" stop-color="#676767"/><stop offset="0.7633" stop-color="#4d4d4d"/><stop offset="0.7741" stop-color="#484848"/><stop offset="0.7959" stop-color="#272727"/><stop offset="0.8109" stop-color="#1a1a1a"/><stop offset="0.8218" stop-color="#181818"/><stop offset="1.0000" stop-color="#181818"/></linearGradient>
<linearGradient id="c20" x1="0" y1="0" x2="0" y2="1"><stop offset="0.0000" stop-color="#181818"/><stop offset="0.1156" stop-color="#191919"/><stop offset="0.1306" stop-color="#262626"/><stop offset="0.1551" stop-color="#484848"/><stop offset="0.2000" stop-color="#626262"/><stop offset="0.2218" stop-color="#767676"/><stop offset="0.2367" stop-color="#858585"/><stop offset="0.2571" stop-color="#9a9a9a"/><stop offset="0.2966" stop-color="#c7c7c7"/><stop offset="0.3415" stop-color="#8a8a8a"/><stop offset="0.3728" stop-color="#696969"/><stop offset="0.3905" stop-color="#606060"/><stop offset="0.4163" stop-color="#5e5e5e"/><stop offset="0.4381" stop-color="#626262"/><stop offset="0.4544" stop-color="#6e6e6e"/><stop offset="0.4762" stop-color="#858585"/><stop offset="0.4816" stop-color="#8e8e8e"/><stop offset="0.5020" stop-color="#bbbbbb"/><stop offset="0.5238" stop-color="#888888"/><stop offset="0.5320" stop-color="#7e7e7e"/><stop offset="0.5565" stop-color="#707070"/><stop offset="0.5782" stop-color="#6b6b6b"/><stop offset="0.6014" stop-color="#6f6f6f"/><stop offset="0.6245" stop-color="#7d7d7d"/><stop offset="0.6299" stop-color="#828282"/><stop offset="0.6395" stop-color="#949494"/><stop offset="0.6626" stop-color="#cacaca"/><stop offset="0.6707" stop-color="#b4b4b4"/><stop offset="0.6857" stop-color="#8a8a8a"/><stop offset="0.6912" stop-color="#7f7f7f"/><stop offset="0.7184" stop-color="#676767"/><stop offset="0.7660" stop-color="#4c4c4c"/><stop offset="0.7755" stop-color="#464646"/><stop offset="0.7973" stop-color="#262626"/><stop offset="0.8122" stop-color="#191919"/><stop offset="0.8299" stop-color="#181818"/><stop offset="1.0000" stop-color="#181818"/></linearGradient>
<linearGradient id="c21" x1="0" y1="0" x2="0" y2="1"><stop offset="0.0000" stop-color="#181818"/><stop offset="0.1170" stop-color="#191919"/><stop offset="0.1320" stop-color="#252525"/><stop offset="0.1578" stop-color="#484848"/><stop offset="0.2014" stop-color="#616161"/><stop offset="0.2231" stop-color="#767676"/><stop offset="0.2354" stop-color="#848484"/><stop offset="0.2544" stop-color="#979797"/><stop offset="0.2952" stop-color="#c6c6c6"/><stop offset="0.3116" stop-color="#b1b1b1"/><stop offset="0.3415" stop-color="#898989"/><stop offset="0.3714" stop-color="#696969"/><stop offset="0.3864" stop-color="#616161"/><stop offset="0.4122" stop-color="#5d5d5d"/><stop offset="0.4354" stop-color="#626262"/><stop offset="0.4517" stop-color="#6e6e6e"/><stop offset="0.4748" stop-color="#878787"/><stop offset="0.4980" stop-color="#bababa"/><stop offset="0.5007" stop-color="#b6b6b6"/><stop offset="0.5197" stop-color="#888888"/><stop offset="0.5279" stop-color="#7e7e7e"/><stop offset="0.5565" stop-color="#6e6e6e"/><stop offset="0.5810" stop-color="#6b6b6b"/><stop offset="0.6027" stop-color="#707070"/><stop offset="0.6272" stop-color="#7f7f7f"/><stop offset="0.6381" stop-color="#929292"/><stop offset="0.6626" stop-color="#c9c9c9"/><stop offset="0.6707" stop-color="#b3b3b3"/><stop offset="0.6857" stop-color="#8a8a8a"/><stop offset="0.6912" stop-color="#7f7f7f"/><stop offset="0.7184" stop-color="#676767"/><stop offset="0.7755" stop-color="#464646"/><stop offset="0.7959" stop-color="#282828"/><stop offset="0.8109" stop-color="#1a1a1a"/><stop offset="0.8204" stop-color="#181818"/><stop offset="1.0000" stop-color="#181818"/></linearGradient>
<linearGradient id="c22" x1="0" y1="0" x2="0" y2="1"><stop offset="0.0000" stop-color="#181818"/><stop offset="0.1197" stop-color="#191919"/><stop offset="0.1347" stop-color="#252525"/><stop offset="0.1592" stop-color="#484848"/><stop offset="0.2027" stop-color="#616161"/><stop offset="0.2231" stop-color="#757575"/><stop offset="0.2354" stop-color="#838383"/><stop offset="0.2544" stop-color="#969696"/><stop offset="0.2952" stop-color="#c6c6c6"/><stop offset="0.3388" stop-color="#8a8a8a"/><stop offset="0.3565" stop-color="#777777"/><stop offset="0.3728" stop-color="#666666"/><stop offset="0.3850" stop-color="#606060"/><stop offset="0.4122" stop-color="#5d5d5d"/><stop offset="0.4327" stop-color="#626262"/><stop offset="0.4490" stop-color="#6e6e6e"/><stop offset="0.4721" stop-color="#888888"/><stop offset="0.4939" stop-color="#b9b9b9"/><stop offset="0.4952" stop-color="#bababa"/><stop offset="0.5170" stop-color="#878787"/><stop offset="0.5252" stop-color="#7d7d7d"/><stop offset="0.5551" stop-color="#6d6d6d"/><stop offset="0.5810" stop-color="#6a6a6a"/><stop offset="0.6014" stop-color="#707070"/><stop offset="0.6259" stop-color="#7f7f7f"/><stop offset="0.6381" stop-color="#949494"/><stop offset="0.6626" stop-color="#c8c8c8"/><stop offset="0.6721" stop-color="#afafaf"/><stop offset="0.6857" stop-color="#8a8a8a"/><stop offset="0.6925" stop-color="#7e7e7e"/><stop offset="0.7197" stop-color="#666666"/><stop offset="0.7755" stop-color="#464646"/><stop offset="0.7959" stop-color="#282828"/><stop offset="0.8109" stop-color="#1a1a1a"/><stop offset="0.8204" stop-color="#181818"/><stop offset="1.0000" stop-color="#181818"/></linearGradient>
<linearGradient id="c23" x1="0" y1="0" x2="0" y2="1"><stop offset="0.0000" stop-color="#181818"/><stop offset="0.1197" stop-color="#191919"/><stop offset="0.1347" stop-color="#252525"/><stop offset="0.1605" stop-color="#484848"/><stop offset="0.2041" stop-color="#616161"/><stop offset="0.2231" stop-color="#757575"/><stop offset="0.2340" stop-color="#828282"/><stop offset="0.2517" stop-color="#939393"/><stop offset="0.2939" stop-color="#c4c4c4"/><stop offset="0.3143" stop-color="#a9a9a9"/><stop offset="0.3401" stop-color="#888888"/><stop offset="0.3551" stop-color="#777777"/><stop offset="0.3714" stop-color="#666666"/><stop offset="0.3837" stop-color="#5f5f5f"/><stop offset="0.4122" stop-color="#5d5d5d"/><stop offset="0.4327" stop-color="#616161"/><stop offset="0.4490" stop-color="#6e6e6e"/><stop offset="0.4721" stop-color="#888888"/><stop offset="0.4939" stop-color="#bababa"/><stop offset="0.4980" stop-color="#b2b2b2"/><stop offset="0.5156" stop-color="#888888"/><stop offset="0.5252" stop-color="#7d7d7d"/><stop offset="0.5537" stop-color="#6d6d6d"/><stop offset="0.5796" stop-color="#6a6a6a"/><stop offset="0.6000" stop-color="#707070"/><stop offset="0.6245" stop-color="#7f7f7f"/><stop offset="0.6367" stop-color="#949494"/><stop offset="0.6626" stop-color="#c7c7c7"/><stop offset="0.6844" stop-color="#8c8c8c"/><stop offset="0.6912" stop-color="#7f7f7f"/><stop offset="0.7184" stop-color="#676767"/><stop offset="0.7714" stop-color="#494949"/><stop offset="0.7755" stop-color="#464646"/><stop offset="0.7959" stop-color="#272727"/><stop offset="0.8109" stop-color="#1a1a1a"/><stop offset="0.8218" stop-color="#181818"/><stop offset="1.0000" stop-color="#181818"/></linearGradient>
<linearGradient id="c24" x1="0" y1="0" x2="0" y2="1"><stop offset="0.0000" stop-color="#181818"/><stop offset="0.1184" stop-color="#181818"/><stop offset="0.1333" stop-color="#242424"/><stop offset="0.1578" stop-color="#444444"/><stop offset="0.1660" stop-color="#4b4b4b"/><stop offset="0.2054" stop-color="#616161"/><stop offset="0.2245" stop-color="#767676"/><stop offset="0.2340" stop-color="#828282"/><stop offset="0.2517" stop-color="#929292"/><stop offset="0.2939" stop-color="#c3c3c3"/><stop offset="0.3374" stop-color="#898989"/><stop offset="0.3510" stop-color="#7b7b7b"/><stop offset="0.3687" stop-color="#666666"/><stop offset="0.3810" stop-color="#5e5e5e"/><stop offset="0.4122" stop-color="#5c5c5c"/><stop offset="0.4327" stop-color="#616161"/><stop offset="0.4490" stop-color="#6d6d6d"/><stop offset="0.4721" stop-color="#878787"/><stop offset="0.4939" stop-color="#b9b9b9"/><stop offset="0.4952" stop-color="#b8b8b8"/><stop offset="0.5156" stop-color="#878787"/><stop offset="0.5238" stop-color="#7e7e7e"/><stop offset="0.5483" stop-color="#6f6f6f"/><stop offset="0.5714" stop-color="#6a6a6a"/><stop offset="0.5946" stop-color="#6f6f6f"/><stop offset="0.6190" stop-color="#7e7e7e"/><stop offset="0.6299" stop-color="#8c8c8c"/><stop offset="0.6599" stop-color="#c6c6c6"/><stop offset="0.6612" stop-color="#c5c5c5"/><stop offset="0.6830" stop-color="#8b8b8b"/><stop offset="0.6898" stop-color="#7e7e7e"/><stop offset="0.7170" stop-color="#676767"/><stop offset="0.7728" stop-color="#474747"/><stop offset="0.7946" stop-color="#262626"/><stop offset="0.8095" stop-color="#191919"/><stop offset="0.8272" stop-color="#181818"/><stop offset="1.0000" stop-color="#181818"/></linearGradient>
<linearGradient id="c25" x1="0" y1="0" x2="0" y2="1"><stop offset="0.0000" stop-color="#181818"/><stop offset="0.1184" stop-color="#191919"/><stop offset="0.1347" stop-color="#252525"/><stop offset="0.1605" stop-color="#484848"/><stop offset="0.2054" stop-color="#5f5f5f"/><stop offset="0.2231" stop-color="#737373"/><stop offset="0.2327" stop-color="#808080"/><stop offset="0.2503" stop-color="#909090"/><stop offset="0.2925" stop-color="#c1c1c1"/><stop offset="0.3374" stop-color="#888888"/><stop offset="0.3497" stop-color="#7b7b7b"/><stop offset="0.3673" stop-color="#666666"/><stop offset="0.3782" stop-color="#5e5e5e"/><stop offset="0.4109" stop-color="#5c5c5c"/><stop offset="0.4327" stop-color="#606060"/><stop offset="0.4503" stop-color="#6e6e6e"/><stop offset="0.4735" stop-color="#898989"/><stop offset="0.4939" stop-color="#b8b8b8"/><stop offset="0.4952" stop-color="#b8b8b8"/><stop offset="0.5156" stop-color="#878787"/><stop offset="0.5279" stop-color="#7b7b7b"/><stop offset="0.5524" stop-color="#6d6d6d"/><stop offset="0.5769" stop-color="#6c6c6c"/><stop offset="0.5973" stop-color="#737373"/><stop offset="0.6177" stop-color="#818181"/><stop offset="0.6286" stop-color="#909090"/><stop offset="0.6571" stop-color="#c5c5c5"/><stop offset="0.6585" stop-color="#c4c4c4"/><stop offset="0.6803" stop-color="#8b8b8b"/><stop offset="0.6871" stop-color="#7f7f7f"/><stop offset="0.7143" stop-color="#676767"/><stop offset="0.7660" stop-color="#4a4a4a"/><stop offset="0.7714" stop-color="#444444"/><stop offset="0.7918" stop-color="#262626"/><stop offset="0.8068" stop-color="#191919"/><stop offset="0.8245" stop-color="#181818"/><stop offset="1.0000" stop-color="#181818"/></linearGradient>
<linearGradient id="c26" x1="0" y1="0" x2="0" y2="1"><stop offset="0.0000" stop-color="#181818"/><stop offset="0.1170" stop-color="#181818"/><stop offset="0.1333" stop-color="#242424"/><stop offset="0.1619" stop-color="#484848"/><stop offset="0.2068" stop-color="#5f5f5f"/><stop offset="0.2245" stop-color="#747474"/><stop offset="0.2327" stop-color="#808080"/><stop offset="0.2503" stop-color="#909090"/><stop offset="0.2925" stop-color="#c0c0c0"/><stop offset="0.3347" stop-color="#888888"/><stop offset="0.3469" stop-color="#7d7d7d"/><stop offset="0.3646" stop-color="#666666"/><stop offset="0.3769" stop-color="#5e5e5e"/><stop offset="0.4109" stop-color="#5b5b5b"/><stop offset="0.4340" stop-color="#606060"/><stop offset="0.4517" stop-color="#6e6e6e"/><stop offset="0.4735" stop-color="#888888"/><stop offset="0.4939" stop-color="#b7b7b7"/><stop offset="0.4952" stop-color="#b8b8b8"/><stop offset="0.5156" stop-color="#878787"/><stop offset="0.5306" stop-color="#797979"/><stop offset="0.5537" stop-color="#6e6e6e"/><stop offset="0.5769" stop-color="#6d6d6d"/><stop offset="0.6000" stop-color="#777777"/><stop offset="0.6150" stop-color="#848484"/><stop offset="0.6245" stop-color="#929292"/><stop offset="0.6517" stop-color="#c4c4c4"/><stop offset="0.6748" stop-color="#8a8a8a"/><stop offset="0.6830" stop-color="#7d7d7d"/><stop offset="0.7102" stop-color="#666666"/><stop offset="0.7510" stop-color="#4f4f4f"/><stop offset="0.7646" stop-color="#474747"/><stop offset="0.7864" stop-color="#282828"/><stop offset="0.8014" stop-color="#1a1a1a"/><stop offset="0.8122" stop-color="#181818"/><stop offset="1.0000" stop-color="#181818"/></linearGradient>
<linearGradient id="c27" x1="0" y1="0" x2="0" y2="1"><stop offset="0.0000" stop-color="#181818"/><stop offset="0.1170" stop-color="#191919"/><stop offset="0.1333" stop-color="#252525"/><stop offset="0.1619" stop-color="#484848"/><stop offset="0.2082" stop-color="#5f5f5f"/><stop offset="0.2245" stop-color="#747474"/><stop offset="0.2327" stop-color="#808080"/><stop offset="0.2490" stop-color="#8e8e8e"/><stop offset="0.2912" stop-color="#bfbfbf"/><stop offset="0.3333" stop-color="#888888"/><stop offset="0.3456" stop-color="#7d7d7d"/><stop offset="0.3633" stop-color="#656565"/><stop offset="0.3741" stop-color="#5d5d5d"/><stop offset="0.4068" stop-color="#5a5a5a"/><stop offset="0.4340" stop-color="#5e5e5e"/><stop offset="0.4531" stop-color="#6d6d6d"/><stop offset="0.4762" stop-color="#888888"/><stop offset="0.4966" stop-color="#b8b8b8"/><stop offset="0.5170" stop-color="#888888"/><stop offset="0.5306" stop-color="#7a7a7a"/><stop offset="0.5537" stop-color="#6e6e6e"/><stop offset="0.5755" stop-color="#6d6d6d"/><stop offset="0.5973" stop-color="#757575"/><stop offset="0.6150" stop-color="#838383"/><stop offset="0.6245" stop-color="#909090"/><stop offset="0.6503" stop-color="#c1c1c1"/><stop offset="0.6517" stop-color="#c1c1c1"/><stop offset="0.6748" stop-color="#898989"/><stop offset="0.6830" stop-color="#7d7d7d"/><stop offset="0.7102" stop-color="#656565"/><stop offset="0.7415" stop-color="#535353"/><stop offset="0.7646" stop-color="#484848"/><stop offset="0.7878" stop-color="#272727"/><stop offset="0.8027" stop-color="#1a1a1a"/><stop offset="0.8136" stop-color="#181818"/><stop offset="1.0000" stop-color="#181818"/></linearGradient>
<linearGradient id="c28" x1="0" y1="0" x2="0" y2="1"><stop offset="0.0000" stop-color="#181818"/><stop offset="0.1156" stop-color="#181818"/><stop offset="0.1333" stop-color="#252525"/><stop offset="0.1619" stop-color="#484848"/><stop offset="0.2095" stop-color="#5f5f5f"/><stop offset="0.2245" stop-color="#737373"/><stop offset="0.2327" stop-color="#808080"/><stop offset="0.2490" stop-color="#8d8d8d"/><stop offset="0.2898" stop-color="#bcbcbc"/><stop offset="0.2939" stop-color="#b9b9b9"/><stop offset="0.3320" stop-color="#888888"/><stop offset="0.3442" stop-color="#7d7d7d"/><stop offset="0.3605" stop-color="#666666"/><stop offset="0.3714" stop-color="#5d5d5d"/><stop offset="0.3905" stop-color="#5a5a5a"/><stop offset="0.4272" stop-color="#5b5b5b"/><stop offset="0.4435" stop-color="#626262"/><stop offset="0.4653" stop-color="#777777"/><stop offset="0.4789" stop-color="#888888"/><stop offset="0.4993" stop-color="#b7b7b7"/><stop offset="0.5197" stop-color="#878787"/><stop offset="0.5374" stop-color="#777777"/><stop offset="0.5592" stop-color="#6d6d6d"/><stop offset="0.5796" stop-color="#6d6d6d"/><stop offset="0.6027" stop-color="#777777"/><stop offset="0.6177" stop-color="#848484"/><stop offset="0.6259" stop-color="#8f8f8f"/><stop offset="0.6517" stop-color="#c0c0c0"/><stop offset="0.6748" stop-color="#8a8a8a"/><stop offset="0.6857" stop-color="#7b7b7b"/><stop offset="0.7116" stop-color="#646464"/><stop offset="0.7415" stop-color="#535353"/><stop offset="0.7660" stop-color="#484848"/><stop offset="0.7891" stop-color="#282828"/><stop offset="0.8054" stop-color="#1a1a1a"/><stop offset="0.8163" stop-color="#181818"/><stop offset="1.0000" stop-color="#181818"/></linearGradient>
<linearGradient id="c29" x1="0" y1="0" x2="0" y2="1"><stop offset="0.0000" stop-color="#181818"/><stop offset="0.1156" stop-color="#191919"/><stop offset="0.1333" stop-color="#252525"/><stop offset="0.1633" stop-color="#484848"/><stop offset="0.2109" stop-color="#5e5e5e"/><stop offset="0.2259" stop-color="#737373"/><stop offset="0.2327" stop-color="#808080"/><stop offset="0.2490" stop-color="#8c8c8c"/><stop offset="0.2898" stop-color="#bbbbbb"/><stop offset="0.3320" stop-color="#878787"/><stop offset="0.3429" stop-color="#7e7e7e"/><stop offset="0.3592" stop-color="#666666"/><stop offset="0.3687" stop-color="#5d5d5d"/><stop offset="0.3891" stop-color="#595959"/><stop offset="0.4299" stop-color="#5a5a5a"/><stop offset="0.4463" stop-color="#626262"/><stop offset="0.4680" stop-color="#777777"/><stop offset="0.4816" stop-color="#888888"/><stop offset="0.5007" stop-color="#b5b5b5"/><stop offset="0.5020" stop-color="#b6b6b6"/><stop offset="0.5211" stop-color="#888888"/><stop offset="0.5361" stop-color="#797979"/><stop offset="0.5578" stop-color="#6d6d6d"/><stop offset="0.5782" stop-color="#6c6c6c"/><stop offset="0.5986" stop-color="#737373"/><stop offset="0.6190" stop-color="#838383"/><stop offset="0.6272" stop-color="#8e8e8e"/><stop offset="0.6517" stop-color="#bebebe"/><stop offset="0.6558" stop-color="#b6b6b6"/><stop offset="0.6762" stop-color="#888888"/><stop offset="0.6912" stop-color="#767676"/><stop offset="0.7170" stop-color="#606060"/><stop offset="0.7673" stop-color="#484848"/><stop offset="0.7918" stop-color="#272727"/><stop offset="0.8082" stop-color="#1a1a1a"/><stop offset="0.8190" stop-color="#181818"/><stop offset="1.0000" stop-color="#181818"/></linearGradient>
<linearGradient id="c30" x1="0" y1="0" x2="0" y2="1"><stop offset="0.0000" stop-color="#181818"/><stop offset="0.1170" stop-color="#191919"/><stop offset="0.1347" stop-color="#242424"/><stop offset="0.1619" stop-color="#454545"/><stop offset="0.1728" stop-color="#4b4b4b"/><stop offset="0.2136" stop-color="#5f5f5f"/><stop offset="0.2286" stop-color="#757575"/><stop offset="0.2354" stop-color="#808080"/><stop offset="0.2503" stop-color="#8c8c8c"/><stop offset="0.2898" stop-color="#bababa"/><stop offset="0.2993" stop-color="#afafaf"/><stop offset="0.3306" stop-color="#878787"/><stop offset="0.3429" stop-color="#7d7d7d"/><stop offset="0.3592" stop-color="#656565"/><stop offset="0.3673" stop-color="#5d5d5d"/><stop offset="0.3905" stop-color="#575757"/><stop offset="0.4299" stop-color="#595959"/><stop offset="0.4476" stop-color="#606060"/><stop offset="0.4694" stop-color="#747474"/><stop offset="0.4844" stop-color="#878787"/><stop offset="0.5034" stop-color="#b5b5b5"/><stop offset="0.5048" stop-color="#b5b5b5"/><stop offset="0.5238" stop-color="#888888"/><stop offset="0.5401" stop-color="#787878"/><stop offset="0.5605" stop-color="#6d6d6d"/><stop offset="0.5796" stop-color="#6c6c6c"/><stop offset="0.6000" stop-color="#737373"/><stop offset="0.6204" stop-color="#828282"/><stop offset="0.6286" stop-color="#8d8d8d"/><stop offset="0.6517" stop-color="#bbbbbb"/><stop offset="0.6531" stop-color="#bbbbbb"/><stop offset="0.6762" stop-color="#888888"/><stop offset="0.6966" stop-color="#717171"/><stop offset="0.7211" stop-color="#5d5d5d"/><stop offset="0.7687" stop-color="#484848"/><stop offset="0.7932" stop-color="#282828"/><stop offset="0.8109" stop-color="#1a1a1a"/><stop offset="0.8231" stop-color="#181818"/><stop offset="1.0000" stop-color="#181818"/></linearGradient>
<linearGradient id="c31" x1="0" y1="0" x2="0" y2="1"><stop offset="0.0000" stop-color="#181818"/><stop offset="0.1211" stop-color="#191919"/><stop offset="0.1388" stop-color="#252525"/><stop offset="0.1673" stop-color="#484848"/><stop offset="0.2150" stop-color="#5e5e5e"/><stop offset="0.2299" stop-color="#737373"/><stop offset="0.2367" stop-color="#7f7f7f"/><stop offset="0.2517" stop-color="#8a8a8a"/><stop offset="0.2912" stop-color="#bababa"/><stop offset="0.3306" stop-color="#878787"/><stop offset="0.3415" stop-color="#7e7e7e"/><stop offset="0.3578" stop-color="#666666"/><stop offset="0.3687" stop-color="#5c5c5c"/><stop offset="0.3932" stop-color="#555555"/><stop offset="0.4299" stop-color="#575757"/><stop offset="0.4503" stop-color="#606060"/><stop offset="0.4735" stop-color="#757575"/><stop offset="0.4884" stop-color="#878787"/><stop offset="0.5075" stop-color="#b6b6b6"/><stop offset="0.5265" stop-color="#888888"/><stop offset="0.5429" stop-color="#787878"/><stop offset="0.5633" stop-color="#6d6d6d"/><stop offset="0.5823" stop-color="#6c6c6c"/><stop offset="0.6027" stop-color="#747474"/><stop offset="0.6231" stop-color="#838383"/><stop offset="0.6286" stop-color="#8a8a8a"/><stop offset="0.6517" stop-color="#bababa"/><stop offset="0.6531" stop-color="#bababa"/><stop offset="0.6762" stop-color="#888888"/><stop offset="0.7007" stop-color="#6d6d6d"/><stop offset="0.7238" stop-color="#5c5c5c"/><stop offset="0.7701" stop-color="#474747"/><stop offset="0.7959" stop-color="#272727"/><stop offset="0.8136" stop-color="#1a1a1a"/><stop offset="0.8286" stop-color="#181818"/><stop offset="1.0000" stop-color="#181818"/></linearGradient>
<linearGradient id="c32" x1="0" y1="0" x2="0" y2="1"><stop offset="0.0000" stop-color="#181818"/><stop offset="0.1252" stop-color="#191919"/><stop offset="0.1429" stop-color="#262626"/><stop offset="0.1714" stop-color="#484848"/><stop offset="0.2177" stop-color="#5f5f5f"/><stop offset="0.2327" stop-color="#737373"/><stop offset="0.2395" stop-color="#808080"/><stop offset="0.2544" stop-color="#8b8b8b"/><stop offset="0.2912" stop-color="#b8b8b8"/><stop offset="0.2952" stop-color="#b4b4b4"/><stop offset="0.3306" stop-color="#868686"/><stop offset="0.3415" stop-color="#7d7d7d"/><stop offset="0.3578" stop-color="#666666"/><stop offset="0.3673" stop-color="#5d5d5d"/><stop offset="0.3932" stop-color="#545454"/><stop offset="0.4177" stop-color="#545454"/><stop offset="0.4381" stop-color="#595959"/><stop offset="0.4531" stop-color="#616161"/><stop offset="0.4762" stop-color="#757575"/><stop offset="0.4912" stop-color="#888888"/><stop offset="0.5088" stop-color="#b5b5b5"/><stop offset="0.5279" stop-color="#878787"/><stop offset="0.5456" stop-color="#767676"/><stop offset="0.5660" stop-color="#6c6c6c"/><stop offset="0.5850" stop-color="#6c6c6c"/><stop offset="0.6068" stop-color="#757575"/><stop offset="0.6272" stop-color="#868686"/><stop offset="0.6449" stop-color="#aaaaaa"/><stop offset="0.6517" stop-color="#b8b8b8"/><stop offset="0.6531" stop-color="#b8b8b8"/><stop offset="0.6776" stop-color="#868686"/><stop offset="0.7034" stop-color="#6a6a6a"/><stop offset="0.7252" stop-color="#5b5b5b"/><stop offset="0.7687" stop-color="#464646"/><stop offset="0.7932" stop-color="#272727"/><stop offset="0.8109" stop-color="#1a1a1a"/><stop offset="0.8259" stop-color="#181818"/><stop offset="1.0000" stop-color="#181818"/></linearGradient>
<linearGradient id="c33" x1="0" y1="0" x2="0" y2="1"><stop offset="0.0000" stop-color="#181818"/><stop offset="0.1293" stop-color="#191919"/><stop offset="0.1456" stop-color="#252525"/><stop offset="0.1741" stop-color="#484848"/><stop offset="0.2204" stop-color="#5f5f5f"/><stop offset="0.2354" stop-color="#737373"/><stop offset="0.2422" stop-color="#808080"/><stop offset="0.2558" stop-color="#8a8a8a"/><stop offset="0.2925" stop-color="#b8b8b8"/><stop offset="0.3293" stop-color="#868686"/><stop offset="0.3401" stop-color="#7e7e7e"/><stop offset="0.3565" stop-color="#676767"/><stop offset="0.3673" stop-color="#5c5c5c"/><stop offset="0.3932" stop-color="#545454"/><stop offset="0.4150" stop-color="#545454"/><stop offset="0.4327" stop-color="#575757"/><stop offset="0.4531" stop-color="#616161"/><stop offset="0.4762" stop-color="#757575"/><stop offset="0.4912" stop-color="#888888"/><stop offset="0.5075" stop-color="#b3b3b3"/><stop offset="0.5088" stop-color="#b3b3b3"/><stop offset="0.5279" stop-color="#868686"/><stop offset="0.5497" stop-color="#737373"/><stop offset="0.5673" stop-color="#6b6b6b"/><stop offset="0.5864" stop-color="#6c6c6c"/><stop offset="0.6082" stop-color="#757575"/><stop offset="0.6286" stop-color="#868686"/><stop offset="0.6517" stop-color="#b7b7b7"/><stop offset="0.6531" stop-color="#b7b7b7"/><stop offset="0.6776" stop-color="#868686"/><stop offset="0.7061" stop-color="#686868"/><stop offset="0.7265" stop-color="#5a5a5a"/><stop offset="0.7660" stop-color="#484848"/><stop offset="0.7905" stop-color="#272727"/><stop offset="0.8068" stop-color="#1a1a1a"/><stop offset="0.8177" stop-color="#181818"/><stop offset="1.0000" stop-color="#181818"/></linearGradient>
<linearGradient id="c34" x1="0" y1="0" x2="0" y2="1"><stop offset="0.0000" stop-color="#181818"/><stop offset="0.1333" stop-color="#191919"/><stop offset="0.1497" stop-color="#252525"/><stop offset="0.1769" stop-color="#484848"/><stop offset="0.2231" stop-color="#5f5f5f"/><stop offset="0.2381" stop-color="#737373"/><stop offset="0.2463" stop-color="#808080"/><stop offset="0.2585" stop-color="#8a8a8a"/><stop offset="0.2939" stop-color="#b7b7b7"/><stop offset="0.3293" stop-color="#868686"/><stop offset="0.3401" stop-color="#7d7d7d"/><stop offset="0.3565" stop-color="#666666"/><stop offset="0.3673" stop-color="#5c5c5c"/><stop offset="0.3946" stop-color="#535353"/><stop offset="0.4122" stop-color="#545454"/><stop offset="0.4286" stop-color="#555555"/><stop offset="0.4517" stop-color="#606060"/><stop offset="0.4762" stop-color="#757575"/><stop offset="0.4912" stop-color="#878787"/><stop offset="0.5075" stop-color="#b4b4b4"/><stop offset="0.5265" stop-color="#858585"/><stop offset="0.5497" stop-color="#727272"/><stop offset="0.5673" stop-color="#6b6b6b"/><stop offset="0.5864" stop-color="#6b6b6b"/><stop offset="0.6068" stop-color="#747474"/><stop offset="0.6272" stop-color="#848484"/><stop offset="0.6313" stop-color="#8a8a8a"/><stop offset="0.6517" stop-color="#b8b8b8"/><stop offset="0.6762" stop-color="#878787"/><stop offset="0.7061" stop-color="#676767"/><stop offset="0.7252" stop-color="#5a5a5a"/><stop offset="0.7646" stop-color="#464646"/><stop offset="0.7878" stop-color="#272727"/><stop offset="0.8041" stop-color="#1a1a1a"/><stop offset="0.8163" stop-color="#181818"/><stop offset="1.0000" stop-color="#181818"/></linearGradient>
<linearGradient id="c35" x1="0" y1="0" x2="0" y2="1"><stop offset="0.0000" stop-color="#181818"/><stop offset="0.1361" stop-color="#181818"/><stop offset="0.1524" stop-color="#242424"/><stop offset="0.1810" stop-color="#484848"/><stop offset="0.2259" stop-color="#606060"/><stop offset="0.2422" stop-color="#757575"/><stop offset="0.2490" stop-color="#808080"/><stop offset="0.2599" stop-color="#888888"/><stop offset="0.2939" stop-color="#b5b5b5"/><stop offset="0.2966" stop-color="#b4b4b4"/><stop offset="0.3293" stop-color="#868686"/><stop offset="0.3388" stop-color="#7f7f7f"/><stop offset="0.3551" stop-color="#686868"/><stop offset="0.3673" stop-color="#5c5c5c"/><stop offset="0.3932" stop-color="#535353"/><stop offset="0.4122" stop-color="#545454"/><stop offset="0.4286" stop-color="#565656"/><stop offset="0.4517" stop-color="#616161"/><stop offset="0.4762" stop-color="#767676"/><stop offset="0.4898" stop-color="#858585"/><stop offset="0.5061" stop-color="#b3b3b3"/><stop offset="0.5252" stop-color="#858585"/><stop offset="0.5483" stop-color="#717171"/><stop offset="0.5660" stop-color="#6a6a6a"/><stop offset="0.5864" stop-color="#6a6a6a"/><stop offset="0.6068" stop-color="#727272"/><stop offset="0.6272" stop-color="#828282"/><stop offset="0.6327" stop-color="#8a8a8a"/><stop offset="0.6517" stop-color="#b5b5b5"/><stop offset="0.6544" stop-color="#b2b2b2"/><stop offset="0.6776" stop-color="#868686"/><stop offset="0.7088" stop-color="#656565"/><stop offset="0.7279" stop-color="#595959"/><stop offset="0.7633" stop-color="#464646"/><stop offset="0.7850" stop-color="#282828"/><stop offset="0.8000" stop-color="#1a1a1a"/><stop offset="0.8095" stop-color="#181818"/><stop offset="1.0000" stop-color="#181818"/></linearGradient>
<linearGradient id="c36" x1="0" y1="0" x2="0" y2="1"><stop offset="0.0000" stop-color="#181818"/><stop offset="0.1401" stop-color="#181818"/><stop offset="0.1565" stop-color="#252525"/><stop offset="0.1837" stop-color="#484848"/><stop offset="0.2286" stop-color="#606060"/><stop offset="0.2449" stop-color="#757575"/><stop offset="0.2517" stop-color="#808080"/><stop offset="0.2626" stop-color="#888888"/><stop offset="0.2952" stop-color="#b5b5b5"/><stop offset="0.3075" stop-color="#a4a4a4"/><stop offset="0.3293" stop-color="#858585"/><stop offset="0.3388" stop-color="#7e7e7e"/><stop offset="0.3565" stop-color="#666666"/><stop offset="0.3673" stop-color="#5c5c5c"/><stop offset="0.3932" stop-color="#535353"/><stop offset="0.4109" stop-color="#545454"/><stop offset="0.4259" stop-color="#555555"/><stop offset="0.4503" stop-color="#616161"/><stop offset="0.4762" stop-color="#777777"/><stop offset="0.4898" stop-color="#878787"/><stop offset="0.5048" stop-color="#b3b3b3"/><stop offset="0.5224" stop-color="#868686"/><stop offset="0.5401" stop-color="#757575"/><stop offset="0.5592" stop-color="#6a6a6a"/><stop offset="0.5796" stop-color="#676767"/><stop offset="0.6027" stop-color="#6e6e6e"/><stop offset="0.6272" stop-color="#7f7f7f"/><stop offset="0.6354" stop-color="#898989"/><stop offset="0.6544" stop-color="#b5b5b5"/><stop offset="0.6789" stop-color="#868686"/><stop offset="0.7116" stop-color="#656565"/><stop offset="0.7306" stop-color="#585858"/><stop offset="0.7633" stop-color="#464646"/><stop offset="0.7850" stop-color="#272727"/><stop offset="0.8000" stop-color="#1a1a1a"/><stop offset="0.8109" stop-color="#181818"/><stop offset="1.0000" stop-color="#181818"/></linearGradient>
<linearGradient id="c37" x1="0" y1="0" x2="0" y2="1"><stop offset="0.0000" stop-color="#181818"/><stop offset="0.1429" stop-color="#191919"/><stop offset="0.1578" stop-color="#242424"/><stop offset="0.1823" stop-color="#454545"/><stop offset="0.1905" stop-color="#4b4b4b"/><stop offset="0.2286" stop-color="#5f5f5f"/><stop offset="0.2449" stop-color="#737373"/><stop offset="0.2531" stop-color="#808080"/><stop offset="0.2639" stop-color="#888888"/><stop offset="0.2952" stop-color="#b4b4b4"/><stop offset="0.3279" stop-color="#858585"/><stop offset="0.3374" stop-color="#7d7d7d"/><stop offset="0.3551" stop-color="#666666"/><stop offset="0.3660" stop-color="#5c5c5c"/><stop offset="0.3932" stop-color="#525252"/><stop offset="0.4082" stop-color="#535353"/><stop offset="0.4218" stop-color="#535353"/><stop offset="0.4490" stop-color="#606060"/><stop offset="0.4748" stop-color="#757575"/><stop offset="0.4898" stop-color="#858585"/><stop offset="0.5048" stop-color="#b2b2b2"/><stop offset="0.5224" stop-color="#858585"/><stop offset="0.5415" stop-color="#747474"/><stop offset="0.5605" stop-color="#696969"/><stop offset="0.5810" stop-color="#666666"/><stop offset="0.6041" stop-color="#6d6d6d"/><stop offset="0.6259" stop-color="#7c7c7c"/><stop offset="0.6367" stop-color="#888888"/><stop offset="0.6544" stop-color="#b3b3b3"/><stop offset="0.6558" stop-color="#b3b3b3"/><stop offset="0.6803" stop-color="#858585"/><stop offset="0.6925" stop-color="#787878"/><stop offset="0.7143" stop-color="#636363"/><stop offset="0.7401" stop-color="#535353"/><stop offset="0.7619" stop-color="#474747"/><stop offset="0.7837" stop-color="#272727"/><stop offset="0.7986" stop-color="#191919"/><stop offset="0.8150" stop-color="#181818"/><stop offset="1.0000" stop-color="#181818"/></linearGradient>
<linearGradient id="c38" x1="0" y1="0" x2="0" y2="1"><stop offset="0.0000" stop-color="#181818"/><stop offset="0.1429" stop-color="#191919"/><stop offset="0.1578" stop-color="#242424"/><stop offset="0.1850" stop-color="#484848"/><stop offset="0.2286" stop-color="#606060"/><stop offset="0.2463" stop-color="#747474"/><stop offset="0.2544" stop-color="#808080"/><stop offset="0.2639" stop-color="#878787"/><stop offset="0.2939" stop-color="#b4b4b4"/><stop offset="0.3252" stop-color="#858585"/><stop offset="0.3347" stop-color="#7e7e7e"/><stop offset="0.3524" stop-color="#676767"/><stop offset="0.3660" stop-color="#5b5b5b"/><stop offset="0.3932" stop-color="#515151"/><stop offset="0.4068" stop-color="#525252"/><stop offset="0.4204" stop-color="#525252"/><stop offset="0.4490" stop-color="#606060"/><stop offset="0.4748" stop-color="#747474"/><stop offset="0.4898" stop-color="#848484"/><stop offset="0.5048" stop-color="#b1b1b1"/><stop offset="0.5075" stop-color="#acacac"/><stop offset="0.5238" stop-color="#848484"/><stop offset="0.5429" stop-color="#737373"/><stop offset="0.5619" stop-color="#686868"/><stop offset="0.5823" stop-color="#666666"/><stop offset="0.6054" stop-color="#6d6d6d"/><stop offset="0.6259" stop-color="#7b7b7b"/><stop offset="0.6367" stop-color="#878787"/><stop offset="0.6558" stop-color="#b3b3b3"/><stop offset="0.6789" stop-color="#858585"/><stop offset="0.6912" stop-color="#797979"/><stop offset="0.7129" stop-color="#636363"/><stop offset="0.7388" stop-color="#535353"/><stop offset="0.7605" stop-color="#474747"/><stop offset="0.7810" stop-color="#282828"/><stop offset="0.7959" stop-color="#1a1a1a"/><stop offset="0.8068" stop-color="#181818"/><stop offset="1.0000" stop-color="#181818"/></linearGradient>
<linearGradient id="c39" x1="0" y1="0" x2="0" y2="1"><stop offset="0.0000" stop-color="#181818"/><stop offset="0.1429" stop-color="#191919"/><stop offset="0.1578" stop-color="#252525"/><stop offset="0.1837" stop-color="#474747"/><stop offset="0.2272" stop-color="#606060"/><stop offset="0.2463" stop-color="#737373"/><stop offset="0.2558" stop-color="#818181"/><stop offset="0.2653" stop-color="#898989"/><stop offset="0.2925" stop-color="#b3b3b3"/><stop offset="0.2952" stop-color="#b1b1b1"/><stop offset="0.3238" stop-color="#858585"/><stop offset="0.3333" stop-color="#7d7d7d"/><stop offset="0.3497" stop-color="#686868"/><stop offset="0.3660" stop-color="#5b5b5b"/><stop offset="0.3918" stop-color="#505050"/><stop offset="0.4095" stop-color="#505050"/><stop offset="0.4259" stop-color="#545454"/><stop offset="0.4599" stop-color="#676767"/><stop offset="0.4816" stop-color="#7b7b7b"/><stop offset="0.4912" stop-color="#868686"/><stop offset="0.5048" stop-color="#afafaf"/><stop offset="0.5061" stop-color="#b1b1b1"/><stop offset="0.5238" stop-color="#858585"/><stop offset="0.5442" stop-color="#727272"/><stop offset="0.5646" stop-color="#676767"/><stop offset="0.5850" stop-color="#656565"/><stop offset="0.6068" stop-color="#6c6c6c"/><stop offset="0.6259" stop-color="#7a7a7a"/><stop offset="0.6367" stop-color="#858585"/><stop offset="0.6558" stop-color="#b2b2b2"/><stop offset="0.6626" stop-color="#a6a6a6"/><stop offset="0.6789" stop-color="#858585"/><stop offset="0.6925" stop-color="#767676"/><stop offset="0.7143" stop-color="#626262"/><stop offset="0.7592" stop-color="#474747"/><stop offset="0.7796" stop-color="#272727"/><stop offset="0.7932" stop-color="#1a1a1a"/><stop offset="0.8027" stop-color="#181818"/><stop offset="1.0000" stop-color="#181818"/></linearGradient>
<linearGradient id="c40" x1="0" y1="0" x2="0" y2="1"><stop offset="0.0000" stop-color="#181818"/><stop offset="0.1429" stop-color="#191919"/><stop offset="0.1578" stop-color="#252525"/><stop offset="0.1837" stop-color="#474747"/><stop offset="0.2272" stop-color="#606060"/><stop offset="0.2476" stop-color="#747474"/><stop offset="0.2571" stop-color="#818181"/><stop offset="0.2653" stop-color="#878787"/><stop offset="0.2925" stop-color="#b4b4b4"/><stop offset="0.3211" stop-color="#858585"/><stop offset="0.3306" stop-color="#7e7e7e"/><stop offset="0.3469" stop-color="#696969"/><stop offset="0.3646" stop-color="#5b5b5b"/><stop offset="0.3918" stop-color="#4f4f4f"/><stop offset="0.4190" stop-color="#505050"/><stop offset="0.4503" stop-color="#616161"/><stop offset="0.4762" stop-color="#747474"/><stop offset="0.4912" stop-color="#868686"/><stop offset="0.5061" stop-color="#b1b1b1"/><stop offset="0.5238" stop-color="#858585"/><stop offset="0.5442" stop-color="#717171"/><stop offset="0.5646" stop-color="#666666"/><stop offset="0.5850" stop-color="#646464"/><stop offset="0.6082" stop-color="#6c6c6c"/><stop offset="0.6245" stop-color="#777777"/><stop offset="0.6381" stop-color="#868686"/><stop offset="0.6571" stop-color="#b2b2b2"/><stop offset="0.6789" stop-color="#848484"/><stop offset="0.6912" stop-color="#777777"/><stop offset="0.7129" stop-color="#636363"/><stop offset="0.7578" stop-color="#484848"/><stop offset="0.7782" stop-color="#272727"/><stop offset="0.7918" stop-color="#1a1a1a"/><stop offset="0.8014" stop-color="#181818"/><stop offset="1.0000" stop-color="#181818"/></linearGradient>
<linearGradient id="c41" x1="0" y1="0" x2="0" y2="1"><stop offset="0.0000" stop-color="#181818"/><stop offset="0.1429" stop-color="#181818"/><stop offset="0.1578" stop-color="#242424"/><stop offset="0.1837" stop-color="#474747"/><stop offset="0.2286" stop-color="#616161"/><stop offset="0.2490" stop-color="#747474"/><stop offset="0.2599" stop-color="#818181"/><stop offset="0.2667" stop-color="#888888"/><stop offset="0.2912" stop-color="#b2b2b2"/><stop offset="0.2925" stop-color="#b3b3b3"/><stop offset="0.3197" stop-color="#858585"/><stop offset="0.3293" stop-color="#7d7d7d"/><stop offset="0.3429" stop-color="#6d6d6d"/><stop offset="0.3646" stop-color="#5b5b5b"/><stop offset="0.3905" stop-color="#4f4f4f"/><stop offset="0.4177" stop-color="#505050"/><stop offset="0.4490" stop-color="#606060"/><stop offset="0.4762" stop-color="#747474"/><stop offset="0.4912" stop-color="#878787"/><stop offset="0.5048" stop-color="#afafaf"/><stop offset="0.5061" stop-color="#b0b0b0"/><stop offset="0.5238" stop-color="#848484"/><stop offset="0.5456" stop-color="#707070"/><stop offset="0.5660" stop-color="#656565"/><stop offset="0.5864" stop-color="#636363"/><stop offset="0.6082" stop-color="#6a6a6a"/><stop offset="0.6259" stop-color="#777777"/><stop offset="0.6395" stop-color="#858585"/><stop offset="0.6585" stop-color="#b1b1b1"/><stop offset="0.6789" stop-color="#848484"/><stop offset="0.6925" stop-color="#757575"/><stop offset="0.7156" stop-color="#616161"/><stop offset="0.7578" stop-color="#474747"/><stop offset="0.7769" stop-color="#282828"/><stop offset="0.7905" stop-color="#1a1a1a"/><stop offset="0.7986" stop-color="#181818"/><stop offset="1.0000" stop-color="#181818"/></linearGradient>
<linearGradient id="c42" x1="0" y1="0" x2="0" y2="1"><stop offset="0.0000" stop-color="#181818"/><stop offset="0.1442" stop-color="#191919"/><stop offset="0.1592" stop-color="#252525"/><stop offset="0.1837" stop-color="#474747"/><stop offset="0.2327" stop-color="#646464"/><stop offset="0.2517" stop-color="#767676"/><stop offset="0.2626" stop-color="#828282"/><stop offset="0.2680" stop-color="#888888"/><stop offset="0.2912" stop-color="#b2b2b2"/><stop offset="0.2939" stop-color="#b0b0b0"/><stop offset="0.3184" stop-color="#858585"/><stop offset="0.3279" stop-color="#7d7d7d"/><stop offset="0.3415" stop-color="#6d6d6d"/><stop offset="0.3646" stop-color="#5a5a5a"/><stop offset="0.3905" stop-color="#4e4e4e"/><stop offset="0.4163" stop-color="#4f4f4f"/><stop offset="0.4476" stop-color="#5f5f5f"/><stop offset="0.4748" stop-color="#737373"/><stop offset="0.4898" stop-color="#848484"/><stop offset="0.5048" stop-color="#afafaf"/><stop offset="0.5061" stop-color="#afafaf"/><stop offset="0.5238" stop-color="#848484"/><stop offset="0.5469" stop-color="#6e6e6e"/><stop offset="0.5687" stop-color="#636363"/><stop offset="0.5905" stop-color="#626262"/><stop offset="0.6136" stop-color="#6a6a6a"/><stop offset="0.6272" stop-color="#767676"/><stop offset="0.6395" stop-color="#838383"/><stop offset="0.6435" stop-color="#8a8a8a"/><stop offset="0.6599" stop-color="#b0b0b0"/><stop offset="0.6626" stop-color="#acacac"/><stop offset="0.6789" stop-color="#858585"/><stop offset="0.7048" stop-color="#6a6a6a"/><stop offset="0.7374" stop-color="#535353"/><stop offset="0.7578" stop-color="#474747"/><stop offset="0.7769" stop-color="#272727"/><stop offset="0.7905" stop-color="#191919"/><stop offset="0.8054" stop-color="#181818"/><stop offset="1.0000" stop-color="#181818"/></linearGradient>
<linearGradient id="c43" x1="0" y1="0" x2="0" y2="1"><stop offset="0.0000" stop-color="#181818"/><stop offset="0.1442" stop-color="#181818"/><stop offset="0.1592" stop-color="#252525"/><stop offset="0.1837" stop-color="#474747"/><stop offset="0.2381" stop-color="#686868"/><stop offset="0.2544" stop-color="#777777"/><stop offset="0.2653" stop-color="#838383"/><stop offset="0.2694" stop-color="#888888"/><stop offset="0.2912" stop-color="#b2b2b2"/><stop offset="0.3184" stop-color="#848484"/><stop offset="0.3279" stop-color="#7b7b7b"/><stop offset="0.3415" stop-color="#6c6c6c"/><stop offset="0.3660" stop-color="#595959"/><stop offset="0.3918" stop-color="#4e4e4e"/><stop offset="0.4163" stop-color="#4f4f4f"/><stop offset="0.4517" stop-color="#626262"/><stop offset="0.4776" stop-color="#767676"/><stop offset="0.4898" stop-color="#848484"/><stop offset="0.5048" stop-color="#b0b0b0"/><stop offset="0.5116" stop-color="#a0a0a0"/><stop offset="0.5238" stop-color="#848484"/><stop offset="0.5483" stop-color="#6c6c6c"/><stop offset="0.5701" stop-color="#626262"/><stop offset="0.5918" stop-color="#616161"/><stop offset="0.6163" stop-color="#6b6b6b"/><stop offset="0.6286" stop-color="#767676"/><stop offset="0.6381" stop-color="#828282"/><stop offset="0.6422" stop-color="#868686"/><stop offset="0.6599" stop-color="#aeaeae"/><stop offset="0.6612" stop-color="#afafaf"/><stop offset="0.6789" stop-color="#848484"/><stop offset="0.7020" stop-color="#6b6b6b"/><stop offset="0.7361" stop-color="#535353"/><stop offset="0.7565" stop-color="#464646"/><stop offset="0.7741" stop-color="#282828"/><stop offset="0.7864" stop-color="#1b1b1b"/><stop offset="0.7946" stop-color="#181818"/><stop offset="1.0000" stop-color="#181818"/></linearGradient>
<linearGradient id="c44" x1="0" y1="0" x2="0" y2="1"><stop offset="0.0000" stop-color="#181818"/><stop offset="0.1456" stop-color="#181818"/><stop offset="0.1592" stop-color="#232323"/><stop offset="0.1769" stop-color="#3d3d3d"/><stop offset="0.1837" stop-color="#464646"/><stop offset="0.2449" stop-color="#6c6c6c"/><stop offset="0.2571" stop-color="#787878"/><stop offset="0.2707" stop-color="#878787"/><stop offset="0.2912" stop-color="#b2b2b2"/><stop offset="0.2939" stop-color="#afafaf"/><stop offset="0.3170" stop-color="#858585"/><stop offset="0.3265" stop-color="#7c7c7c"/><stop offset="0.3401" stop-color="#6d6d6d"/><stop offset="0.3673" stop-color="#585858"/><stop offset="0.3918" stop-color="#4d4d4d"/><stop offset="0.4136" stop-color="#4e4e4e"/><stop offset="0.4449" stop-color="#5e5e5e"/><stop offset="0.4735" stop-color="#727272"/><stop offset="0.4884" stop-color="#848484"/><stop offset="0.5034" stop-color="#aeaeae"/><stop offset="0.5048" stop-color="#afafaf"/><stop offset="0.5224" stop-color="#848484"/><stop offset="0.5456" stop-color="#6d6d6d"/><stop offset="0.5619" stop-color="#646464"/><stop offset="0.5837" stop-color="#5f5f5f"/><stop offset="0.6041" stop-color="#646464"/><stop offset="0.6190" stop-color="#6c6c6c"/><stop offset="0.6286" stop-color="#757575"/><stop offset="0.6381" stop-color="#818181"/><stop offset="0.6422" stop-color="#868686"/><stop offset="0.6599" stop-color="#aeaeae"/><stop offset="0.6612" stop-color="#afafaf"/><stop offset="0.6776" stop-color="#858585"/><stop offset="0.6993" stop-color="#6d6d6d"/><stop offset="0.7347" stop-color="#535353"/><stop offset="0.7551" stop-color="#464646"/><stop offset="0.7728" stop-color="#282828"/><stop offset="0.7850" stop-color="#1a1a1a"/><stop offset="0.7932" stop-color="#181818"/><stop offset="1.0000" stop-color="#181818"/></linearGradient>
<linearGradient id="c45" x1="0" y1="0" x2="0" y2="1"><stop offset="0.0000" stop-color="#181818"/><stop offset="0.1483" stop-color="#191919"/><stop offset="0.1619" stop-color="#242424"/><stop offset="0.1864" stop-color="#474747"/><stop offset="0.2490" stop-color="#6d6d6d"/><stop offset="0.2599" stop-color="#787878"/><stop offset="0.2735" stop-color="#888888"/><stop offset="0.2925" stop-color="#b1b1b1"/><stop offset="0.2952" stop-color="#afafaf"/><stop offset="0.3184" stop-color="#848484"/><stop offset="0.3279" stop-color="#7b7b7b"/><stop offset="0.3401" stop-color="#6d6d6d"/><stop offset="0.3701" stop-color="#575757"/><stop offset="0.3932" stop-color="#4d4d4d"/><stop offset="0.4163" stop-color="#4f4f4f"/><stop offset="0.4531" stop-color="#636363"/><stop offset="0.4748" stop-color="#757575"/><stop offset="0.4884" stop-color="#868686"/><stop offset="0.5034" stop-color="#b0b0b0"/><stop offset="0.5116" stop-color="#9c9c9c"/><stop offset="0.5211" stop-color="#848484"/><stop offset="0.5429" stop-color="#6e6e6e"/><stop offset="0.5605" stop-color="#636363"/><stop offset="0.5837" stop-color="#5e5e5e"/><stop offset="0.6068" stop-color="#646464"/><stop offset="0.6231" stop-color="#6f6f6f"/><stop offset="0.6340" stop-color="#7d7d7d"/><stop offset="0.6422" stop-color="#858585"/><stop offset="0.6599" stop-color="#aeaeae"/><stop offset="0.6612" stop-color="#aeaeae"/><stop offset="0.6776" stop-color="#848484"/><stop offset="0.6884" stop-color="#777777"/><stop offset="0.7088" stop-color="#646464"/><stop offset="0.7537" stop-color="#464646"/><stop offset="0.7714" stop-color="#272727"/><stop offset="0.7837" stop-color="#1a1a1a"/><stop offset="0.7918" stop-color="#181818"/><stop offset="1.0000" stop-color="#181818"/></linearGradient>
<linearGradient id="c46" x1="0" y1="0" x2="0" y2="1"><stop offset="0.0000" stop-color="#181818"/><stop offset="0.1510" stop-color="#191919"/><stop offset="0.1646" stop-color="#242424"/><stop offset="0.1878" stop-color="#464646"/><stop offset="0.2517" stop-color="#6e6e6e"/><stop offset="0.2612" stop-color="#777777"/><stop offset="0.2748" stop-color="#878787"/><stop offset="0.2939" stop-color="#b2b2b2"/><stop offset="0.2966" stop-color="#afafaf"/><stop offset="0.3197" stop-color="#858585"/><stop offset="0.3293" stop-color="#7b7b7b"/><stop offset="0.3401" stop-color="#6e6e6e"/><stop offset="0.3673" stop-color="#595959"/><stop offset="0.3932" stop-color="#4d4d4d"/><stop offset="0.4163" stop-color="#4e4e4e"/><stop offset="0.4503" stop-color="#626262"/><stop offset="0.4735" stop-color="#747474"/><stop offset="0.4871" stop-color="#848484"/><stop offset="0.5020" stop-color="#aeaeae"/><stop offset="0.5034" stop-color="#afafaf"/><stop offset="0.5197" stop-color="#858585"/><stop offset="0.5401" stop-color="#6f6f6f"/><stop offset="0.5565" stop-color="#646464"/><stop offset="0.5810" stop-color="#5e5e5e"/><stop offset="0.6041" stop-color="#646464"/><stop offset="0.6204" stop-color="#6e6e6e"/><stop offset="0.6286" stop-color="#777777"/><stop offset="0.6367" stop-color="#818181"/><stop offset="0.6408" stop-color="#868686"/><stop offset="0.6571" stop-color="#adadad"/><stop offset="0.6585" stop-color="#aeaeae"/><stop offset="0.6748" stop-color="#848484"/><stop offset="0.6844" stop-color="#797979"/><stop offset="0.6980" stop-color="#6a6a6a"/><stop offset="0.7333" stop-color="#515151"/><stop offset="0.7497" stop-color="#474747"/><stop offset="0.7673" stop-color="#282828"/><stop offset="0.7796" stop-color="#1a1a1a"/><stop offset="0.7878" stop-color="#181818"/><stop offset="1.0000" stop-color="#181818"/></linearGradient>
<linearGradient id="c47" x1="0" y1="0" x2="0" y2="1"><stop offset="0.0000" stop-color="#181818"/><stop offset="0.1537" stop-color="#191919"/><stop offset="0.1673" stop-color="#242424"/><stop offset="0.1905" stop-color="#464646"/><stop offset="0.2544" stop-color="#6e6e6e"/><stop offset="0.2639" stop-color="#787878"/><stop offset="0.2762" stop-color="#868686"/><stop offset="0.2952" stop-color="#b3b3b3"/><stop offset="0.2980" stop-color="#b0b0b0"/><stop offset="0.3211" stop-color="#858585"/><stop offset="0.3306" stop-color="#7c7c7c"/><stop offset="0.3415" stop-color="#6e6e6e"/><stop offset="0.3673" stop-color="#5a5a5a"/><stop offset="0.3932" stop-color="#4d4d4d"/><stop offset="0.4136" stop-color="#4d4d4d"/><stop offset="0.4422" stop-color="#5b5b5b"/><stop offset="0.4721" stop-color="#717171"/><stop offset="0.4884" stop-color="#868686"/><stop offset="0.5034" stop-color="#afafaf"/><stop offset="0.5048" stop-color="#aeaeae"/><stop offset="0.5211" stop-color="#848484"/><stop offset="0.5415" stop-color="#6e6e6e"/><stop offset="0.5578" stop-color="#636363"/><stop offset="0.5810" stop-color="#5e5e5e"/><stop offset="0.6054" stop-color="#656565"/><stop offset="0.6231" stop-color="#727272"/><stop offset="0.6340" stop-color="#818181"/><stop offset="0.6381" stop-color="#848484"/><stop offset="0.6558" stop-color="#afafaf"/><stop offset="0.6721" stop-color="#848484"/><stop offset="0.6816" stop-color="#797979"/><stop offset="0.6925" stop-color="#6d6d6d"/><stop offset="0.7265" stop-color="#535353"/><stop offset="0.7469" stop-color="#454545"/><stop offset="0.7646" stop-color="#262626"/><stop offset="0.7769" stop-color="#191919"/><stop offset="0.7891" stop-color="#181818"/><stop offset="1.0000" stop-color="#181818"/></linearGradient>
<linearGradient id="c48" x1="0" y1="0" x2="0" y2="1"><stop offset="0.0000" stop-color="#181818"/><stop offset="0.1578" stop-color="#191919"/><stop offset="0.1714" stop-color="#242424"/><stop offset="0.1946" stop-color="#464646"/><stop offset="0.2585" stop-color="#6e6e6e"/><stop offset="0.2680" stop-color="#797979"/><stop offset="0.2789" stop-color="#868686"/><stop offset="0.2980" stop-color="#b4b4b4"/><stop offset="0.3075" stop-color="#a3a3a3"/><stop offset="0.3238" stop-color="#858585"/><stop offset="0.3333" stop-color="#7c7c7c"/><stop offset="0.3429" stop-color="#6f6f6f"/><stop offset="0.3673" stop-color="#5b5b5b"/><stop offset="0.3946" stop-color="#4d4d4d"/><stop offset="0.4082" stop-color="#4b4b4b"/><stop offset="0.4245" stop-color="#505050"/><stop offset="0.4680" stop-color="#6c6c6c"/><stop offset="0.4776" stop-color="#757575"/><stop offset="0.4898" stop-color="#858585"/><stop offset="0.5048" stop-color="#aeaeae"/><stop offset="0.5061" stop-color="#b0b0b0"/><stop offset="0.5224" stop-color="#848484"/><stop offset="0.5415" stop-color="#6e6e6e"/><stop offset="0.5565" stop-color="#646464"/><stop offset="0.5796" stop-color="#5e5e5e"/><stop offset="0.6000" stop-color="#636363"/><stop offset="0.6150" stop-color="#6a6a6a"/><stop offset="0.6259" stop-color="#747474"/><stop offset="0.6354" stop-color="#818181"/><stop offset="0.6395" stop-color="#858585"/><stop offset="0.6558" stop-color="#aeaeae"/><stop offset="0.6585" stop-color="#a9a9a9"/><stop offset="0.6721" stop-color="#848484"/><stop offset="0.6816" stop-color="#797979"/><stop offset="0.6912" stop-color="#6e6e6e"/><stop offset="0.7238" stop-color="#545454"/><stop offset="0.7456" stop-color="#464646"/><stop offset="0.7633" stop-color="#272727"/><stop offset="0.7755" stop-color="#1a1a1a"/><stop offset="0.7864" stop-color="#181818"/><stop offset="1.0000" stop-color="#181818"/></linearGradient>
<linearGradient id="c49" x1="0" y1="0" x2="0" y2="1"><stop offset="0.0000" stop-color="#181818"/><stop offset="0.1619" stop-color="#191919"/><stop offset="0.1755" stop-color="#242424"/><stop offset="0.1973" stop-color="#454545"/><stop offset="0.2626" stop-color="#6f6f6f"/><stop offset="0.2721" stop-color="#7a7a7a"/><stop offset="0.2830" stop-color="#898989"/><stop offset="0.3007" stop-color="#b4b4b4"/><stop offset="0.3048" stop-color="#aeaeae"/><stop offset="0.3265" stop-color="#868686"/><stop offset="0.3361" stop-color="#7c7c7c"/><stop offset="0.3456" stop-color="#6f6f6f"/><stop offset="0.3701" stop-color="#5b5b5b"/><stop offset="0.3973" stop-color="#4c4c4c"/><stop offset="0.4109" stop-color="#4b4b4b"/><stop offset="0.4286" stop-color="#505050"/><stop offset="0.4707" stop-color="#6c6c6c"/><stop offset="0.4789" stop-color="#747474"/><stop offset="0.4884" stop-color="#828282"/><stop offset="0.4912" stop-color="#848484"/><stop offset="0.5075" stop-color="#b0b0b0"/><stop offset="0.5211" stop-color="#8b8b8b"/><stop offset="0.5238" stop-color="#848484"/><stop offset="0.5415" stop-color="#6f6f6f"/><stop offset="0.5565" stop-color="#646464"/><stop offset="0.5796" stop-color="#5e5e5e"/><stop offset="0.6000" stop-color="#626262"/><stop offset="0.6177" stop-color="#6b6b6b"/><stop offset="0.6272" stop-color="#747474"/><stop offset="0.6367" stop-color="#818181"/><stop offset="0.6395" stop-color="#838383"/><stop offset="0.6558" stop-color="#acacac"/><stop offset="0.6571" stop-color="#adadad"/><stop offset="0.6721" stop-color="#858585"/><stop offset="0.6816" stop-color="#797979"/><stop offset="0.6912" stop-color="#6d6d6d"/><stop offset="0.7238" stop-color="#545454"/><stop offset="0.7456" stop-color="#454545"/><stop offset="0.7619" stop-color="#272727"/><stop offset="0.7741" stop-color="#1a1a1a"/><stop offset="0.7837" stop-color="#181818"/><stop offset="1.0000" stop-color="#181818"/></linearGradient>
<linearGradient id="c50" x1="0" y1="0" x2="0" y2="1"><stop offset="0.0000" stop-color="#181818"/><stop offset="0.1660" stop-color="#191919"/><stop offset="0.1796" stop-color="#252525"/><stop offset="0.2014" stop-color="#454545"/><stop offset="0.2667" stop-color="#6f6f6f"/><stop offset="0.2857" stop-color="#898989"/><stop offset="0.3034" stop-color="#b5b5b5"/><stop offset="0.3293" stop-color="#868686"/><stop offset="0.3388" stop-color="#7c7c7c"/><stop offset="0.3483" stop-color="#6f6f6f"/><stop offset="0.3714" stop-color="#5b5b5b"/><stop offset="0.3986" stop-color="#4c4c4c"/><stop offset="0.4122" stop-color="#494949"/><stop offset="0.4327" stop-color="#515151"/><stop offset="0.4721" stop-color="#6c6c6c"/><stop offset="0.4803" stop-color="#747474"/><stop offset="0.4898" stop-color="#828282"/><stop offset="0.4925" stop-color="#848484"/><stop offset="0.5088" stop-color="#aeaeae"/><stop offset="0.5102" stop-color="#afafaf"/><stop offset="0.5252" stop-color="#858585"/><stop offset="0.5429" stop-color="#6f6f6f"/><stop offset="0.5578" stop-color="#646464"/><stop offset="0.5810" stop-color="#5d5d5d"/><stop offset="0.6027" stop-color="#626262"/><stop offset="0.6190" stop-color="#6a6a6a"/><stop offset="0.6286" stop-color="#747474"/><stop offset="0.6381" stop-color="#818181"/><stop offset="0.6408" stop-color="#838383"/><stop offset="0.6571" stop-color="#acacac"/><stop offset="0.6585" stop-color="#adadad"/><stop offset="0.6735" stop-color="#848484"/><stop offset="0.6816" stop-color="#7a7a7a"/><stop offset="0.6898" stop-color="#6f6f6f"/><stop offset="0.7170" stop-color="#595959"/><stop offset="0.7456" stop-color="#454545"/><stop offset="0.7619" stop-color="#272727"/><stop offset="0.7741" stop-color="#1a1a1a"/><stop offset="0.7850" stop-color="#181818"/><stop offset="1.0000" stop-color="#181818"/></linearGradient>
<linearGradient id="c51" x1="0" y1="0" x2="0" y2="1"><stop offset="0.0000" stop-color="#181818"/><stop offset="0.1687" stop-color="#191919"/><stop offset="0.1823" stop-color="#252525"/><stop offset="0.2041" stop-color="#454545"/><stop offset="0.2694" stop-color="#6f6f6f"/><stop offset="0.2871" stop-color="#888888"/><stop offset="0.3048" stop-color="#b5b5b5"/><stop offset="0.3320" stop-color="#858585"/><stop offset="0.3401" stop-color="#7d7d7d"/><stop offset="0.3497" stop-color="#6f6f6f"/><stop offset="0.3728" stop-color="#5b5b5b"/><stop offset="0.4014" stop-color="#4b4b4b"/><stop offset="0.4136" stop-color="#484848"/><stop offset="0.4381" stop-color="#535353"/><stop offset="0.4762" stop-color="#6e6e6e"/><stop offset="0.4816" stop-color="#757575"/><stop offset="0.4898" stop-color="#818181"/><stop offset="0.4939" stop-color="#858585"/><stop offset="0.5116" stop-color="#b0b0b0"/><stop offset="0.5129" stop-color="#afafaf"/><stop offset="0.5279" stop-color="#848484"/><stop offset="0.5442" stop-color="#6f6f6f"/><stop offset="0.5592" stop-color="#636363"/><stop offset="0.5823" stop-color="#5c5c5c"/><stop offset="0.6041" stop-color="#616161"/><stop offset="0.6218" stop-color="#6a6a6a"/><stop offset="0.6299" stop-color="#727272"/><stop offset="0.6395" stop-color="#818181"/><stop offset="0.6435" stop-color="#858585"/><stop offset="0.6612" stop-color="#afafaf"/><stop offset="0.6762" stop-color="#848484"/><stop offset="0.6844" stop-color="#7a7a7a"/><stop offset="0.6925" stop-color="#6f6f6f"/><stop offset="0.7184" stop-color="#595959"/><stop offset="0.7469" stop-color="#454545"/><stop offset="0.7633" stop-color="#272727"/><stop offset="0.7755" stop-color="#191919"/><stop offset="0.7864" stop-color="#181818"/><stop offset="1.0000" stop-color="#181818"/></linearGradient>
<linearGradient id="c52" x1="0" y1="0" x2="0" y2="1"><stop offset="0.0000" stop-color="#181818"/><stop offset="0.1714" stop-color="#191919"/><stop offset="0.1850" stop-color="#252525"/><stop offset="0.2068" stop-color="#454545"/><stop offset="0.2721" stop-color="#707070"/><stop offset="0.2884" stop-color="#878787"/><stop offset="0.3061" stop-color="#b6b6b6"/><stop offset="0.3156" stop-color="#a5a5a5"/><stop offset="0.3333" stop-color="#868686"/><stop offset="0.3415" stop-color="#7d7d7d"/><stop offset="0.3497" stop-color="#707070"/><stop offset="0.3728" stop-color="#5c5c5c"/><stop offset="0.4027" stop-color="#4a4a4a"/><stop offset="0.4150" stop-color="#474747"/><stop offset="0.4435" stop-color="#555555"/><stop offset="0.4776" stop-color="#6e6e6e"/><stop offset="0.4857" stop-color="#7a7a7a"/><stop offset="0.4925" stop-color="#838383"/><stop offset="0.4966" stop-color="#8a8a8a"/><stop offset="0.5143" stop-color="#b2b2b2"/><stop offset="0.5293" stop-color="#858585"/><stop offset="0.5456" stop-color="#6f6f6f"/><stop offset="0.5619" stop-color="#626262"/><stop offset="0.5823" stop-color="#5c5c5c"/><stop offset="0.6000" stop-color="#5e5e5e"/><stop offset="0.6204" stop-color="#676767"/><stop offset="0.6313" stop-color="#717171"/><stop offset="0.6408" stop-color="#808080"/><stop offset="0.6463" stop-color="#868686"/><stop offset="0.6639" stop-color="#afafaf"/><stop offset="0.6667" stop-color="#aaaaaa"/><stop offset="0.6789" stop-color="#858585"/><stop offset="0.6884" stop-color="#777777"/><stop offset="0.6980" stop-color="#6b6b6b"/><stop offset="0.7293" stop-color="#535353"/><stop offset="0.7483" stop-color="#454545"/><stop offset="0.7646" stop-color="#272727"/><stop offset="0.7769" stop-color="#191919"/><stop offset="0.7891" stop-color="#181818"/><stop offset="1.0000" stop-color="#181818"/></linearGradient>
<linearGradient id="c53" x1="0" y1="0" x2="0" y2="1"><stop offset="0.0000" stop-color="#181818"/><stop offset="0.1714" stop-color="#181818"/><stop offset="0.1850" stop-color="#252525"/><stop offset="0.2054" stop-color="#444444"/><stop offset="0.2707" stop-color="#6f6f6f"/><stop offset="0.2884" stop-color="#898989"/><stop offset="0.3048" stop-color="#b6b6b6"/><stop offset="0.3320" stop-color="#858585"/><stop offset="0.3401" stop-color="#7d7d7d"/><stop offset="0.3483" stop-color="#707070"/><stop offset="0.3714" stop-color="#5b5b5b"/><stop offset="0.4027" stop-color="#484848"/><stop offset="0.4122" stop-color="#424242"/><stop offset="0.4190" stop-color="#464646"/><stop offset="0.4544" stop-color="#5b5b5b"/><stop offset="0.4803" stop-color="#6f6f6f"/><stop offset="0.4898" stop-color="#808080"/><stop offset="0.4966" stop-color="#888888"/><stop offset="0.5170" stop-color="#b3b3b3"/><stop offset="0.5320" stop-color="#858585"/><stop offset="0.5456" stop-color="#707070"/><stop offset="0.5633" stop-color="#616161"/><stop offset="0.5796" stop-color="#5b5b5b"/><stop offset="0.5973" stop-color="#5c5c5c"/><stop offset="0.6177" stop-color="#636363"/><stop offset="0.6340" stop-color="#717171"/><stop offset="0.6435" stop-color="#818181"/><stop offset="0.6490" stop-color="#878787"/><stop offset="0.6680" stop-color="#b1b1b1"/><stop offset="0.6816" stop-color="#868686"/><stop offset="0.6966" stop-color="#6f6f6f"/><stop offset="0.7224" stop-color="#595959"/><stop offset="0.7497" stop-color="#464646"/><stop offset="0.7660" stop-color="#272727"/><stop offset="0.7769" stop-color="#1a1a1a"/><stop offset="0.7837" stop-color="#181818"/><stop offset="1.0000" stop-color="#181818"/></linearGradient>
<linearGradient id="c54" x1="0" y1="0" x2="0" y2="1"><stop offset="0.0000" stop-color="#181818"/><stop offset="0.1714" stop-color="#181818"/><stop offset="0.1837" stop-color="#232323"/><stop offset="0.2000" stop-color="#3d3d3d"/><stop offset="0.2054" stop-color="#454545"/><stop offset="0.2707" stop-color="#707070"/><stop offset="0.2857" stop-color="#878787"/><stop offset="0.3020" stop-color="#b6b6b6"/><stop offset="0.3279" stop-color="#868686"/><stop offset="0.3361" stop-color="#7d7d7d"/><stop offset="0.3442" stop-color="#707070"/><stop offset="0.3673" stop-color="#5b5b5b"/><stop offset="0.4014" stop-color="#444444"/><stop offset="0.4095" stop-color="#3c3c3c"/><stop offset="0.4163" stop-color="#3f3f3f"/><stop offset="0.4231" stop-color="#464646"/><stop offset="0.4721" stop-color="#686868"/><stop offset="0.4816" stop-color="#717171"/><stop offset="0.4898" stop-color="#808080"/><stop offset="0.4966" stop-color="#878787"/><stop offset="0.5184" stop-color="#b4b4b4"/><stop offset="0.5252" stop-color="#9f9f9f"/><stop offset="0.5333" stop-color="#858585"/><stop offset="0.5469" stop-color="#707070"/><stop offset="0.5660" stop-color="#606060"/><stop offset="0.5823" stop-color="#5a5a5a"/><stop offset="0.6000" stop-color="#5b5b5b"/><stop offset="0.6190" stop-color="#636363"/><stop offset="0.6354" stop-color="#707070"/><stop offset="0.6449" stop-color="#818181"/><stop offset="0.6503" stop-color="#868686"/><stop offset="0.6694" stop-color="#b0b0b0"/><stop offset="0.6707" stop-color="#b1b1b1"/><stop offset="0.6844" stop-color="#858585"/><stop offset="0.6980" stop-color="#6f6f6f"/><stop offset="0.7224" stop-color="#5a5a5a"/><stop offset="0.7510" stop-color="#454545"/><stop offset="0.7673" stop-color="#262626"/><stop offset="0.7782" stop-color="#1a1a1a"/><stop offset="0.7878" stop-color="#181818"/><stop offset="1.0000" stop-color="#181818"/></linearGradient>
<linearGradient id="c55" x1="0" y1="0" x2="0" y2="1"><stop offset="0.0000" stop-color="#181818"/><stop offset="0.1714" stop-color="#191919"/><stop offset="0.1837" stop-color="#252525"/><stop offset="0.2027" stop-color="#444444"/><stop offset="0.2463" stop-color="#616161"/><stop offset="0.2680" stop-color="#707070"/><stop offset="0.2830" stop-color="#878787"/><stop offset="0.2980" stop-color="#b5b5b5"/><stop offset="0.3020" stop-color="#afafaf"/><stop offset="0.3224" stop-color="#868686"/><stop offset="0.3306" stop-color="#7e7e7e"/><stop offset="0.3388" stop-color="#707070"/><stop offset="0.3633" stop-color="#5b5b5b"/><stop offset="0.3946" stop-color="#454545"/><stop offset="0.4041" stop-color="#373737"/><stop offset="0.4109" stop-color="#353535"/><stop offset="0.4190" stop-color="#3e3e3e"/><stop offset="0.4245" stop-color="#454545"/><stop offset="0.4748" stop-color="#696969"/><stop offset="0.4816" stop-color="#707070"/><stop offset="0.4898" stop-color="#808080"/><stop offset="0.4980" stop-color="#898989"/><stop offset="0.5197" stop-color="#b5b5b5"/><stop offset="0.5211" stop-color="#b4b4b4"/><stop offset="0.5347" stop-color="#868686"/><stop offset="0.5483" stop-color="#6f6f6f"/><stop offset="0.5660" stop-color="#606060"/><stop offset="0.5823" stop-color="#5a5a5a"/><stop offset="0.6000" stop-color="#5b5b5b"/><stop offset="0.6190" stop-color="#636363"/><stop offset="0.6340" stop-color="#707070"/><stop offset="0.6435" stop-color="#818181"/><stop offset="0.6490" stop-color="#868686"/><stop offset="0.6694" stop-color="#b2b2b2"/><stop offset="0.6707" stop-color="#b2b2b2"/><stop offset="0.6830" stop-color="#878787"/><stop offset="0.6966" stop-color="#707070"/><stop offset="0.7197" stop-color="#5b5b5b"/><stop offset="0.7483" stop-color="#464646"/><stop offset="0.7660" stop-color="#252525"/><stop offset="0.7769" stop-color="#191919"/><stop offset="0.8000" stop-color="#181818"/><stop offset="1.0000" stop-color="#181818"/></linearGradient>
<linearGradient id="c56" x1="0" y1="0" x2="0" y2="1"><stop offset="0.0000" stop-color="#181818"/><stop offset="0.1714" stop-color="#181818"/><stop offset="0.1837" stop-color="#242424"/><stop offset="0.2027" stop-color="#444444"/><stop offset="0.2422" stop-color="#5f5f5f"/><stop offset="0.2667" stop-color="#707070"/><stop offset="0.2816" stop-color="#888888"/><stop offset="0.2952" stop-color="#b4b4b4"/><stop offset="0.2966" stop-color="#b4b4b4"/><stop offset="0.3197" stop-color="#868686"/><stop offset="0.3279" stop-color="#7c7c7c"/><stop offset="0.3361" stop-color="#6f6f6f"/><stop offset="0.3619" stop-color="#595959"/><stop offset="0.3905" stop-color="#444444"/><stop offset="0.4027" stop-color="#313131"/><stop offset="0.4095" stop-color="#2f2f2f"/><stop offset="0.4177" stop-color="#393939"/><stop offset="0.4245" stop-color="#444444"/><stop offset="0.4762" stop-color="#6a6a6a"/><stop offset="0.4816" stop-color="#707070"/><stop offset="0.4898" stop-color="#808080"/><stop offset="0.4980" stop-color="#8a8a8a"/><stop offset="0.5211" stop-color="#b6b6b6"/><stop offset="0.5347" stop-color="#868686"/><stop offset="0.5483" stop-color="#6f6f6f"/><stop offset="0.5660" stop-color="#606060"/><stop offset="0.5823" stop-color="#5a5a5a"/><stop offset="0.5986" stop-color="#5b5b5b"/><stop offset="0.6163" stop-color="#626262"/><stop offset="0.6327" stop-color="#6f6f6f"/><stop offset="0.6408" stop-color="#808080"/><stop offset="0.6490" stop-color="#898989"/><stop offset="0.6694" stop-color="#b3b3b3"/><stop offset="0.6707" stop-color="#b2b2b2"/><stop offset="0.6830" stop-color="#858585"/><stop offset="0.6952" stop-color="#707070"/><stop offset="0.7184" stop-color="#5a5a5a"/><stop offset="0.7469" stop-color="#454545"/><stop offset="0.7633" stop-color="#262626"/><stop offset="0.7741" stop-color="#191919"/><stop offset="0.7837" stop-color="#181818"/><stop offset="1.0000" stop-color="#181818"/></linearGradient>
<linearGradient id="c57" x1="0" y1="0" x2="0" y2="1"><stop offset="0.0000" stop-color="#181818"/><stop offset="0.1728" stop-color="#191919"/><stop offset="0.1837" stop-color="#242424"/><stop offset="0.2027" stop-color="#444444"/><stop offset="0.2395" stop-color="#5e5e5e"/><stop offset="0.2653" stop-color="#6f6f6f"/><stop offset="0.2803" stop-color="#878787"/><stop offset="0.2939" stop-color="#b5b5b5"/><stop offset="0.3170" stop-color="#858585"/><stop offset="0.3252" stop-color="#7c7c7c"/><stop offset="0.3333" stop-color="#6f6f6f"/><stop offset="0.3619" stop-color="#575757"/><stop offset="0.3864" stop-color="#454545"/><stop offset="0.3986" stop-color="#2f2f2f"/><stop offset="0.4054" stop-color="#2a2a2a"/><stop offset="0.4122" stop-color="#303030"/><stop offset="0.4245" stop-color="#454545"/><stop offset="0.4776" stop-color="#6c6c6c"/><stop offset="0.4830" stop-color="#757575"/><stop offset="0.4898" stop-color="#818181"/><stop offset="0.4966" stop-color="#8a8a8a"/><stop offset="0.5170" stop-color="#b5b5b5"/><stop offset="0.5184" stop-color="#b3b3b3"/><stop offset="0.5320" stop-color="#858585"/><stop offset="0.5456" stop-color="#6f6f6f"/><stop offset="0.5646" stop-color="#5f5f5f"/><stop offset="0.5782" stop-color="#595959"/><stop offset="0.5946" stop-color="#595959"/><stop offset="0.6109" stop-color="#5e5e5e"/><stop offset="0.6286" stop-color="#6b6b6b"/><stop offset="0.6340" stop-color="#727272"/><stop offset="0.6408" stop-color="#808080"/><stop offset="0.6476" stop-color="#878787"/><stop offset="0.6680" stop-color="#b2b2b2"/><stop offset="0.6694" stop-color="#b3b3b3"/><stop offset="0.6816" stop-color="#868686"/><stop offset="0.6939" stop-color="#707070"/><stop offset="0.7184" stop-color="#5a5a5a"/><stop offset="0.7456" stop-color="#454545"/><stop offset="0.7605" stop-color="#282828"/><stop offset="0.7714" stop-color="#1a1a1a"/><stop offset="0.7796" stop-color="#181818"/><stop offset="1.0000" stop-color="#181818"/></linearGradient>
<linearGradient id="c58" x1="0" y1="0" x2="0" y2="1"><stop offset="0.0000" stop-color="#181818"/><stop offset="0.1755" stop-color="#191919"/><stop offset="0.1864" stop-color="#252525"/><stop offset="0.2041" stop-color="#444444"/><stop offset="0.2381" stop-color="#5d5d5d"/><stop offset="0.2653" stop-color="#6e6e6e"/><stop offset="0.2803" stop-color="#868686"/><stop offset="0.2925" stop-color="#b2b2b2"/><stop offset="0.2939" stop-color="#b4b4b4"/><stop offset="0.3156" stop-color="#858585"/><stop offset="0.3224" stop-color="#7d7d7d"/><stop offset="0.3306" stop-color="#707070"/><stop offset="0.3633" stop-color="#555555"/><stop offset="0.3837" stop-color="#454545"/><stop offset="0.3973" stop-color="#2b2b2b"/><stop offset="0.4041" stop-color="#272727"/><stop offset="0.4109" stop-color="#2d2d2d"/><stop offset="0.4231" stop-color="#444444"/><stop offset="0.4776" stop-color="#6d6d6d"/><stop offset="0.4884" stop-color="#818181"/><stop offset="0.4939" stop-color="#888888"/><stop offset="0.5129" stop-color="#b3b3b3"/><stop offset="0.5143" stop-color="#b4b4b4"/><stop offset="0.5279" stop-color="#868686"/><stop offset="0.5415" stop-color="#707070"/><stop offset="0.5633" stop-color="#5e5e5e"/><stop offset="0.5769" stop-color="#575757"/><stop offset="0.6000" stop-color="#585858"/><stop offset="0.6218" stop-color="#646464"/><stop offset="0.6327" stop-color="#6e6e6e"/><stop offset="0.6408" stop-color="#808080"/><stop offset="0.6476" stop-color="#878787"/><stop offset="0.6667" stop-color="#b2b2b2"/><stop offset="0.6680" stop-color="#b2b2b2"/><stop offset="0.6803" stop-color="#868686"/><stop offset="0.6939" stop-color="#6f6f6f"/><stop offset="0.7224" stop-color="#565656"/><stop offset="0.7442" stop-color="#464646"/><stop offset="0.7592" stop-color="#272727"/><stop offset="0.7701" stop-color="#1a1a1a"/><stop offset="0.7782" stop-color="#181818"/><stop offset="1.0000" stop-color="#181818"/></linearGradient>
<linearGradient id="c59" x1="0" y1="0" x2="0" y2="1"><stop offset="0.0000" stop-color="#181818"/><stop offset="0.1782" stop-color="#191919"/><stop offset="0.1891" stop-color="#252525"/><stop offset="0.2054" stop-color="#434343"/><stop offset="0.2367" stop-color="#5c5c5c"/><stop offset="0.2667" stop-color="#6e6e6e"/><stop offset="0.2816" stop-color="#888888"/><stop offset="0.2925" stop-color="#b2b2b2"/><stop offset="0.2939" stop-color="#b4b4b4"/><stop offset="0.3143" stop-color="#858585"/><stop offset="0.3224" stop-color="#7b7b7b"/><stop offset="0.3306" stop-color="#6e6e6e"/><stop offset="0.3823" stop-color="#444444"/><stop offset="0.3959" stop-color="#292929"/><stop offset="0.4027" stop-color="#242424"/><stop offset="0.4095" stop-color="#292929"/><stop offset="0.4231" stop-color="#434343"/><stop offset="0.4776" stop-color="#6d6d6d"/><stop offset="0.4871" stop-color="#808080"/><stop offset="0.4925" stop-color="#878787"/><stop offset="0.5102" stop-color="#b3b3b3"/><stop offset="0.5116" stop-color="#b3b3b3"/><stop offset="0.5252" stop-color="#868686"/><stop offset="0.5388" stop-color="#707070"/><stop offset="0.5619" stop-color="#5d5d5d"/><stop offset="0.5769" stop-color="#565656"/><stop offset="0.6000" stop-color="#575757"/><stop offset="0.6245" stop-color="#676767"/><stop offset="0.6327" stop-color="#707070"/><stop offset="0.6408" stop-color="#818181"/><stop offset="0.6463" stop-color="#878787"/><stop offset="0.6639" stop-color="#b2b2b2"/><stop offset="0.6653" stop-color="#b2b2b2"/><stop offset="0.6776" stop-color="#878787"/><stop offset="0.6912" stop-color="#6f6f6f"/><stop offset="0.7238" stop-color="#535353"/><stop offset="0.7415" stop-color="#464646"/><stop offset="0.7565" stop-color="#272727"/><stop offset="0.7673" stop-color="#191919"/><stop offset="0.7769" stop-color="#181818"/><stop offset="1.0000" stop-color="#181818"/></linearGradient>
<linearGradient id="c60" x1="0" y1="0" x2="0" y2="1"><stop offset="0.0000" stop-color="#181818"/><stop offset="0.1810" stop-color="#191919"/><stop offset="0.1918" stop-color="#262626"/><stop offset="0.2068" stop-color="#434343"/><stop offset="0.2381" stop-color="#5c5c5c"/><stop offset="0.2680" stop-color="#6e6e6e"/><stop offset="0.2816" stop-color="#858585"/><stop offset="0.2925" stop-color="#b1b1b1"/><stop offset="0.2939" stop-color="#b4b4b4"/><stop offset="0.3129" stop-color="#878787"/><stop offset="0.3224" stop-color="#7a7a7a"/><stop offset="0.3293" stop-color="#6f6f6f"/><stop offset="0.3810" stop-color="#434343"/><stop offset="0.3959" stop-color="#252525"/><stop offset="0.4014" stop-color="#202020"/><stop offset="0.4068" stop-color="#232323"/><stop offset="0.4190" stop-color="#393939"/><stop offset="0.4245" stop-color="#444444"/><stop offset="0.4626" stop-color="#616161"/><stop offset="0.4776" stop-color="#6d6d6d"/><stop offset="0.4871" stop-color="#808080"/><stop offset="0.4925" stop-color="#898989"/><stop offset="0.5075" stop-color="#b2b2b2"/><stop offset="0.5088" stop-color="#b2b2b2"/><stop offset="0.5224" stop-color="#868686"/><stop offset="0.5374" stop-color="#6f6f6f"/><stop offset="0.5633" stop-color="#5b5b5b"/><stop offset="0.5755" stop-color="#565656"/><stop offset="0.5973" stop-color="#565656"/><stop offset="0.6245" stop-color="#696969"/><stop offset="0.6299" stop-color="#6e6e6e"/><stop offset="0.6381" stop-color="#808080"/><stop offset="0.6435" stop-color="#878787"/><stop offset="0.6599" stop-color="#b1b1b1"/><stop offset="0.6612" stop-color="#b2b2b2"/><stop offset="0.6748" stop-color="#858585"/><stop offset="0.6884" stop-color="#6e6e6e"/><stop offset="0.7388" stop-color="#444444"/><stop offset="0.7524" stop-color="#272727"/><stop offset="0.7619" stop-color="#1a1a1a"/><stop offset="0.7687" stop-color="#181818"/><stop offset="1.0000" stop-color="#181818"/></linearGradient>
<linearGradient id="c61" x1="0" y1="0" x2="0" y2="1"><stop offset="0.0000" stop-color="#181818"/><stop offset="0.1837" stop-color="#191919"/><stop offset="0.1932" stop-color="#242424"/><stop offset="0.2082" stop-color="#414141"/><stop offset="0.2381" stop-color="#5b5b5b"/><stop offset="0.2694" stop-color="#6d6d6d"/><stop offset="0.2844" stop-color="#878787"/><stop offset="0.2952" stop-color="#b4b4b4"/><stop offset="0.3143" stop-color="#868686"/><stop offset="0.3224" stop-color="#7b7b7b"/><stop offset="0.3306" stop-color="#6e6e6e"/><stop offset="0.3810" stop-color="#454545"/><stop offset="0.3973" stop-color="#242424"/><stop offset="0.4027" stop-color="#202020"/><stop offset="0.4082" stop-color="#232323"/><stop offset="0.4204" stop-color="#3b3b3b"/><stop offset="0.4259" stop-color="#444444"/><stop offset="0.4585" stop-color="#5f5f5f"/><stop offset="0.4776" stop-color="#6d6d6d"/><stop offset="0.4884" stop-color="#828282"/><stop offset="0.4912" stop-color="#868686"/><stop offset="0.5048" stop-color="#b1b1b1"/><stop offset="0.5061" stop-color="#b2b2b2"/><stop offset="0.5197" stop-color="#878787"/><stop offset="0.5347" stop-color="#6f6f6f"/><stop offset="0.5673" stop-color="#575757"/><stop offset="0.5782" stop-color="#545454"/><stop offset="0.5959" stop-color="#555555"/><stop offset="0.6272" stop-color="#6b6b6b"/><stop offset="0.6313" stop-color="#727272"/><stop offset="0.6381" stop-color="#808080"/><stop offset="0.6422" stop-color="#858585"/><stop offset="0.6585" stop-color="#b3b3b3"/><stop offset="0.6721" stop-color="#868686"/><stop offset="0.6857" stop-color="#6f6f6f"/><stop offset="0.7361" stop-color="#454545"/><stop offset="0.7510" stop-color="#252525"/><stop offset="0.7605" stop-color="#191919"/><stop offset="0.7714" stop-color="#181818"/><stop offset="1.0000" stop-color="#181818"/></linearGradient>
<linearGradient id="c62" x1="0" y1="0" x2="0" y2="1"><stop offset="0.0000" stop-color="#181818"/><stop offset="0.1850" stop-color="#181818"/><stop offset="0.1946" stop-color="#222222"/><stop offset="0.2068" stop-color="#3a3a3a"/><stop offset="0.2122" stop-color="#444444"/><stop offset="0.2395" stop-color="#5b5b5b"/><stop offset="0.2707" stop-color="#6c6c6c"/><stop offset="0.2857" stop-color="#858585"/><stop offset="0.2966" stop-color="#b4b4b4"/><stop offset="0.3156" stop-color="#868686"/><stop offset="0.3238" stop-color="#7b7b7b"/><stop offset="0.3320" stop-color="#6e6e6e"/><stop offset="0.3782" stop-color="#484848"/><stop offset="0.3837" stop-color="#424242"/><stop offset="0.3986" stop-color="#232323"/><stop offset="0.4041" stop-color="#1e1e1e"/><stop offset="0.4095" stop-color="#212121"/><stop offset="0.4204" stop-color="#353535"/><stop offset="0.4272" stop-color="#444444"/><stop offset="0.4571" stop-color="#5d5d5d"/><stop offset="0.4789" stop-color="#6d6d6d"/><stop offset="0.4898" stop-color="#828282"/><stop offset="0.4925" stop-color="#888888"/><stop offset="0.5048" stop-color="#b3b3b3"/><stop offset="0.5197" stop-color="#858585"/><stop offset="0.5347" stop-color="#6e6e6e"/><stop offset="0.5728" stop-color="#535353"/><stop offset="0.5946" stop-color="#535353"/><stop offset="0.6299" stop-color="#6c6c6c"/><stop offset="0.6395" stop-color="#818181"/><stop offset="0.6435" stop-color="#878787"/><stop offset="0.6571" stop-color="#b2b2b2"/><stop offset="0.6585" stop-color="#b0b0b0"/><stop offset="0.6721" stop-color="#858585"/><stop offset="0.6857" stop-color="#6f6f6f"/><stop offset="0.7361" stop-color="#444444"/><stop offset="0.7497" stop-color="#262626"/><stop offset="0.7592" stop-color="#1a1a1a"/><stop offset="0.7660" stop-color="#181818"/><stop offset="1.0000" stop-color="#181818"/></linearGradient>
<linearGradient id="c63" x1="0" y1="0" x2="0" y2="1"><stop offset="0.0000" stop-color="#181818"/><stop offset="0.1878" stop-color="#191919"/><stop offset="0.1973" stop-color="#242424"/><stop offset="0.2122" stop-color="#424242"/><stop offset="0.2408" stop-color="#5b5b5b"/><stop offset="0.2721" stop-color="#6c6c6c"/><stop offset="0.2871" stop-color="#868686"/><stop offset="0.2966" stop-color="#b0b0b0"/><stop offset="0.2980" stop-color="#b4b4b4"/><stop offset="0.3156" stop-color="#868686"/><stop offset="0.3238" stop-color="#7b7b7b"/><stop offset="0.3320" stop-color="#6e6e6e"/><stop offset="0.3714" stop-color="#4f4f4f"/><stop offset="0.3837" stop-color="#434343"/><stop offset="0.3986" stop-color="#232323"/><stop offset="0.4054" stop-color="#1b1b1b"/><stop offset="0.4095" stop-color="#1c1c1c"/><stop offset="0.4190" stop-color="#2b2b2b"/><stop offset="0.4299" stop-color="#434343"/><stop offset="0.4585" stop-color="#5c5c5c"/><stop offset="0.4816" stop-color="#6d6d6d"/><stop offset="0.4939" stop-color="#858585"/><stop offset="0.5048" stop-color="#b0b0b0"/><stop offset="0.5061" stop-color="#b0b0b0"/><stop offset="0.5197" stop-color="#868686"/><stop offset="0.5347" stop-color="#6f6f6f"/><stop offset="0.5769" stop-color="#515151"/><stop offset="0.5946" stop-color="#515151"/><stop offset="0.6313" stop-color="#6b6b6b"/><stop offset="0.6367" stop-color="#767676"/><stop offset="0.6422" stop-color="#818181"/><stop offset="0.6449" stop-color="#868686"/><stop offset="0.6571" stop-color="#b0b0b0"/><stop offset="0.6585" stop-color="#b1b1b1"/><stop offset="0.6721" stop-color="#868686"/><stop offset="0.6871" stop-color="#6e6e6e"/><stop offset="0.7361" stop-color="#454545"/><stop offset="0.7510" stop-color="#242424"/><stop offset="0.7605" stop-color="#191919"/><stop offset="1.0000" stop-color="#181818"/></linearGradient>
<linearGradient id="c64" x1="0" y1="0" x2="0" y2="1"><stop offset="0.0000" stop-color="#181818"/><stop offset="0.1891" stop-color="#191919"/><stop offset="0.1986" stop-color="#242424"/><stop offset="0.2136" stop-color="#424242"/><stop offset="0.2408" stop-color="#5b5b5b"/><stop offset="0.2735" stop-color="#6c6c6c"/><stop offset="0.2871" stop-color="#848484"/><stop offset="0.2898" stop-color="#8e8e8e"/><stop offset="0.2980" stop-color="#b4b4b4"/><stop offset="0.3156" stop-color="#868686"/><stop offset="0.3252" stop-color="#787878"/><stop offset="0.3320" stop-color="#6e6e6e"/><stop offset="0.3673" stop-color="#525252"/><stop offset="0.3837" stop-color="#424242"/><stop offset="0.3973" stop-color="#252525"/><stop offset="0.4068" stop-color="#191919"/><stop offset="0.4136" stop-color="#1e1e1e"/><stop offset="0.4231" stop-color="#303030"/><stop offset="0.4313" stop-color="#434343"/><stop offset="0.4599" stop-color="#5c5c5c"/><stop offset="0.4830" stop-color="#6d6d6d"/><stop offset="0.4952" stop-color="#868686"/><stop offset="0.5061" stop-color="#b2b2b2"/><stop offset="0.5211" stop-color="#858585"/><stop offset="0.5361" stop-color="#6e6e6e"/><stop offset="0.5796" stop-color="#4f4f4f"/><stop offset="0.5891" stop-color="#4e4e4e"/><stop offset="0.5973" stop-color="#4f4f4f"/><stop offset="0.6354" stop-color="#6b6b6b"/><stop offset="0.6463" stop-color="#828282"/><stop offset="0.6490" stop-color="#898989"/><stop offset="0.6599" stop-color="#b2b2b2"/><stop offset="0.6748" stop-color="#848484"/><stop offset="0.6830" stop-color="#787878"/><stop offset="0.6884" stop-color="#6f6f6f"/><stop offset="0.7293" stop-color="#4d4d4d"/><stop offset="0.7388" stop-color="#444444"/><stop offset="0.7510" stop-color="#282828"/><stop offset="0.7605" stop-color="#1a1a1a"/><stop offset="0.7660" stop-color="#181818"/><stop offset="1.0000" stop-color="#181818"/></linearGradient>
<linearGradient id="c65" x1="0" y1="0" x2="0" y2="1"><stop offset="0.0000" stop-color="#181818"/><stop offset="0.1905" stop-color="#191919"/><stop offset="0.2000" stop-color="#252525"/><stop offset="0.2136" stop-color="#414141"/><stop offset="0.2408" stop-color="#5a5a5a"/><stop offset="0.2735" stop-color="#6b6b6b"/><stop offset="0.2884" stop-color="#858585"/><stop offset="0.2980" stop-color="#b3b3b3"/><stop offset="0.3007" stop-color="#aeaeae"/><stop offset="0.3156" stop-color="#858585"/><stop offset="0.3265" stop-color="#757575"/><stop offset="0.3320" stop-color="#6e6e6e"/><stop offset="0.3646" stop-color="#555555"/><stop offset="0.3837" stop-color="#424242"/><stop offset="0.3973" stop-color="#242424"/><stop offset="0.4068" stop-color="#181818"/><stop offset="0.4109" stop-color="#191919"/><stop offset="0.4204" stop-color="#252525"/><stop offset="0.4340" stop-color="#434343"/><stop offset="0.4612" stop-color="#5b5b5b"/><stop offset="0.4844" stop-color="#6b6b6b"/><stop offset="0.4966" stop-color="#848484"/><stop offset="0.5075" stop-color="#b0b0b0"/><stop offset="0.5088" stop-color="#b0b0b0"/><stop offset="0.5224" stop-color="#868686"/><stop offset="0.5374" stop-color="#6f6f6f"/><stop offset="0.5755" stop-color="#525252"/><stop offset="0.5850" stop-color="#4e4e4e"/><stop offset="0.5905" stop-color="#4e4e4e"/><stop offset="0.5973" stop-color="#4d4d4d"/><stop offset="0.6381" stop-color="#6b6b6b"/><stop offset="0.6490" stop-color="#838383"/><stop offset="0.6503" stop-color="#858585"/><stop offset="0.6612" stop-color="#b1b1b1"/><stop offset="0.6639" stop-color="#ababab"/><stop offset="0.6762" stop-color="#858585"/><stop offset="0.6857" stop-color="#767676"/><stop offset="0.6912" stop-color="#6e6e6e"/><stop offset="0.7293" stop-color="#4f4f4f"/><stop offset="0.7401" stop-color="#454545"/><stop offset="0.7524" stop-color="#282828"/><stop offset="0.7619" stop-color="#1a1a1a"/><stop offset="0.7687" stop-color="#181818"/><stop offset="1.0000" stop-color="#181818"/></linearGradient>
<linearGradient id="c66" x1="0" y1="0" x2="0" y2="1"><stop offset="0.0000" stop-color="#181818"/><stop offset="0.1905" stop-color="#181818"/><stop offset="0.2000" stop-color="#242424"/><stop offset="0.2136" stop-color="#414141"/><stop offset="0.2408" stop-color="#5a5a5a"/><stop offset="0.2735" stop-color="#6b6b6b"/><stop offset="0.2871" stop-color="#838383"/><stop offset="0.2884" stop-color="#878787"/><stop offset="0.2966" stop-color="#b0b0b0"/><stop offset="0.2980" stop-color="#b4b4b4"/><stop offset="0.3143" stop-color="#878787"/><stop offset="0.3252" stop-color="#767676"/><stop offset="0.3306" stop-color="#6e6e6e"/><stop offset="0.3646" stop-color="#545454"/><stop offset="0.3823" stop-color="#424242"/><stop offset="0.3959" stop-color="#242424"/><stop offset="0.4054" stop-color="#181818"/><stop offset="0.4136" stop-color="#191919"/><stop offset="0.4231" stop-color="#252525"/><stop offset="0.4367" stop-color="#434343"/><stop offset="0.4639" stop-color="#5b5b5b"/><stop offset="0.4871" stop-color="#6c6c6c"/><stop offset="0.4993" stop-color="#878787"/><stop offset="0.5088" stop-color="#afafaf"/><stop offset="0.5102" stop-color="#b1b1b1"/><stop offset="0.5238" stop-color="#878787"/><stop offset="0.5401" stop-color="#6e6e6e"/><stop offset="0.5728" stop-color="#555555"/><stop offset="0.5850" stop-color="#4d4d4d"/><stop offset="0.6000" stop-color="#4c4c4c"/><stop offset="0.6408" stop-color="#6b6b6b"/><stop offset="0.6503" stop-color="#818181"/><stop offset="0.6531" stop-color="#868686"/><stop offset="0.6639" stop-color="#b2b2b2"/><stop offset="0.6789" stop-color="#858585"/><stop offset="0.6857" stop-color="#7b7b7b"/><stop offset="0.6925" stop-color="#6e6e6e"/><stop offset="0.7293" stop-color="#515151"/><stop offset="0.7429" stop-color="#434343"/><stop offset="0.7551" stop-color="#262626"/><stop offset="0.7646" stop-color="#191919"/><stop offset="1.0000" stop-color="#181818"/></linearGradient>
<linearGradient id="c67" x1="0" y1="0" x2="0" y2="1"><stop offset="0.0000" stop-color="#181818"/><stop offset="0.1918" stop-color="#181818"/><stop offset="0.2014" stop-color="#242424"/><stop offset="0.2150" stop-color="#414141"/><stop offset="0.2408" stop-color="#5a5a5a"/><stop offset="0.2735" stop-color="#6c6c6c"/><stop offset="0.2871" stop-color="#858585"/><stop offset="0.2966" stop-color="#b3b3b3"/><stop offset="0.2980" stop-color="#b2b2b2"/><stop offset="0.3143" stop-color="#868686"/><stop offset="0.3224" stop-color="#7a7a7a"/><stop offset="0.3306" stop-color="#6d6d6d"/><stop offset="0.3619" stop-color="#555555"/><stop offset="0.3810" stop-color="#424242"/><stop offset="0.3946" stop-color="#232323"/><stop offset="0.4041" stop-color="#181818"/><stop offset="0.4150" stop-color="#181818"/><stop offset="0.4245" stop-color="#252525"/><stop offset="0.4381" stop-color="#434343"/><stop offset="0.4639" stop-color="#5b5b5b"/><stop offset="0.4871" stop-color="#6a6a6a"/><stop offset="0.4993" stop-color="#858585"/><stop offset="0.5102" stop-color="#b2b2b2"/><stop offset="0.5252" stop-color="#858585"/><stop offset="0.5347" stop-color="#767676"/><stop offset="0.5401" stop-color="#6e6e6e"/><stop offset="0.5714" stop-color="#575757"/><stop offset="0.5864" stop-color="#4b4b4b"/><stop offset="0.5973" stop-color="#494949"/><stop offset="0.6082" stop-color="#4f4f4f"/><stop offset="0.6272" stop-color="#5e5e5e"/><stop offset="0.6435" stop-color="#6b6b6b"/><stop offset="0.6531" stop-color="#818181"/><stop offset="0.6558" stop-color="#878787"/><stop offset="0.6653" stop-color="#afafaf"/><stop offset="0.6667" stop-color="#b1b1b1"/><stop offset="0.6816" stop-color="#848484"/><stop offset="0.6884" stop-color="#7a7a7a"/><stop offset="0.6952" stop-color="#6e6e6e"/><stop offset="0.7320" stop-color="#505050"/><stop offset="0.7442" stop-color="#454545"/><stop offset="0.7565" stop-color="#272727"/><stop offset="0.7646" stop-color="#1b1b1b"/><stop offset="0.7701" stop-color="#181818"/><stop offset="1.0000" stop-color="#181818"/></linearGradient>
<linearGradient id="c68" x1="0" y1="0" x2="0" y2="1"><stop offset="0.0000" stop-color="#181818"/><stop offset="0.1932" stop-color="#181818"/><stop offset="0.2027" stop-color="#242424"/><stop offset="0.2163" stop-color="#414141"/><stop offset="0.2422" stop-color="#5a5a5a"/><stop offset="0.2735" stop-color="#6b6b6b"/><stop offset="0.2871" stop-color="#868686"/><stop offset="0.2966" stop-color="#b3b3b3"/><stop offset="0.2980" stop-color="#b2b2b2"/><stop offset="0.3156" stop-color="#858585"/><stop offset="0.3224" stop-color="#7b7b7b"/><stop offset="0.3306" stop-color="#6d6d6d"/><stop offset="0.3619" stop-color="#555555"/><stop offset="0.3796" stop-color="#434343"/><stop offset="0.3932" stop-color="#242424"/><stop offset="0.4014" stop-color="#191919"/><stop offset="0.4150" stop-color="#191919"/><stop offset="0.4245" stop-color="#252525"/><stop offset="0.4367" stop-color="#414141"/><stop offset="0.4626" stop-color="#5a5a5a"/><stop offset="0.4871" stop-color="#6c6c6c"/><stop offset="0.4993" stop-color="#888888"/><stop offset="0.5088" stop-color="#b2b2b2"/><stop offset="0.5238" stop-color="#858585"/><stop offset="0.5333" stop-color="#767676"/><stop offset="0.5388" stop-color="#6e6e6e"/><stop offset="0.5701" stop-color="#575757"/><stop offset="0.5850" stop-color="#494949"/><stop offset="0.5905" stop-color="#454545"/><stop offset="0.5946" stop-color="#424242"/><stop offset="0.6163" stop-color="#535353"/><stop offset="0.6327" stop-color="#606060"/><stop offset="0.6463" stop-color="#6b6b6b"/><stop offset="0.6558" stop-color="#828282"/><stop offset="0.6585" stop-color="#898989"/><stop offset="0.6680" stop-color="#b2b2b2"/><stop offset="0.6830" stop-color="#868686"/><stop offset="0.6912" stop-color="#797979"/><stop offset="0.6980" stop-color="#6d6d6d"/><stop offset="0.7293" stop-color="#545454"/><stop offset="0.7456" stop-color="#454545"/><stop offset="0.7592" stop-color="#252525"/><stop offset="0.7673" stop-color="#191919"/><stop offset="0.7810" stop-color="#181818"/><stop offset="1.0000" stop-color="#181818"/></linearGradient>
<linearGradient id="c69" x1="0" y1="0" x2="0" y2="1"><stop offset="0.0000" stop-color="#181818"/><stop offset="0.1959" stop-color="#181818"/><stop offset="0.2054" stop-color="#252525"/><stop offset="0.2177" stop-color="#404040"/><stop offset="0.2435" stop-color="#5a5a5a"/><stop offset="0.2735" stop-color="#6a6a6a"/><stop offset="0.2871" stop-color="#858585"/><stop offset="0.2966" stop-color="#b1b1b1"/><stop offset="0.2980" stop-color="#b3b3b3"/><stop offset="0.3156" stop-color="#868686"/><stop offset="0.3224" stop-color="#7d7d7d"/><stop offset="0.3306" stop-color="#6e6e6e"/><stop offset="0.3633" stop-color="#535353"/><stop offset="0.3796" stop-color="#424242"/><stop offset="0.3932" stop-color="#232323"/><stop offset="0.4014" stop-color="#181818"/><stop offset="0.4150" stop-color="#191919"/><stop offset="0.4245" stop-color="#262626"/><stop offset="0.4367" stop-color="#424242"/><stop offset="0.4626" stop-color="#5a5a5a"/><stop offset="0.4857" stop-color="#6a6a6a"/><stop offset="0.4980" stop-color="#878787"/><stop offset="0.5075" stop-color="#b1b1b1"/><stop offset="0.5102" stop-color="#ababab"/><stop offset="0.5224" stop-color="#858585"/><stop offset="0.5320" stop-color="#767676"/><stop offset="0.5374" stop-color="#6e6e6e"/><stop offset="0.5687" stop-color="#575757"/><stop offset="0.5850" stop-color="#484848"/><stop offset="0.5891" stop-color="#444444"/><stop offset="0.5932" stop-color="#404040"/><stop offset="0.6286" stop-color="#5d5d5d"/><stop offset="0.6449" stop-color="#6a6a6a"/><stop offset="0.6571" stop-color="#878787"/><stop offset="0.6667" stop-color="#b1b1b1"/><stop offset="0.6694" stop-color="#acacac"/><stop offset="0.6830" stop-color="#848484"/><stop offset="0.6898" stop-color="#7a7a7a"/><stop offset="0.6966" stop-color="#6d6d6d"/><stop offset="0.7279" stop-color="#545454"/><stop offset="0.7442" stop-color="#454545"/><stop offset="0.7565" stop-color="#272727"/><stop offset="0.7646" stop-color="#1a1a1a"/><stop offset="0.7701" stop-color="#181818"/><stop offset="1.0000" stop-color="#181818"/></linearGradient>
<linearGradient id="c70" x1="0" y1="0" x2="0" y2="1"><stop offset="0.0000" stop-color="#181818"/><stop offset="0.1986" stop-color="#191919"/><stop offset="0.2082" stop-color="#262626"/><stop offset="0.2204" stop-color="#414141"/><stop offset="0.2449" stop-color="#595959"/><stop offset="0.2748" stop-color="#6b6b6b"/><stop offset="0.2871" stop-color="#848484"/><stop offset="0.2925" stop-color="#9b9b9b"/><stop offset="0.2980" stop-color="#b4b4b4"/><stop offset="0.3170" stop-color="#858585"/><stop offset="0.3238" stop-color="#7c7c7c"/><stop offset="0.3306" stop-color="#6e6e6e"/><stop offset="0.3633" stop-color="#535353"/><stop offset="0.3796" stop-color="#414141"/><stop offset="0.3918" stop-color="#242424"/><stop offset="0.4000" stop-color="#191919"/><stop offset="0.4136" stop-color="#181818"/><stop offset="0.4218" stop-color="#212121"/><stop offset="0.4313" stop-color="#353535"/><stop offset="0.4367" stop-color="#424242"/><stop offset="0.4626" stop-color="#5b5b5b"/><stop offset="0.4857" stop-color="#6b6b6b"/><stop offset="0.4952" stop-color="#828282"/><stop offset="0.4966" stop-color="#858585"/><stop offset="0.5061" stop-color="#afafaf"/><stop offset="0.5075" stop-color="#b1b1b1"/><stop offset="0.5211" stop-color="#868686"/><stop offset="0.5361" stop-color="#6e6e6e"/><stop offset="0.5687" stop-color="#565656"/><stop offset="0.5850" stop-color="#474747"/><stop offset="0.5918" stop-color="#3f3f3f"/><stop offset="0.5959" stop-color="#414141"/><stop offset="0.6245" stop-color="#5b5b5b"/><stop offset="0.6449" stop-color="#6b6b6b"/><stop offset="0.6544" stop-color="#838383"/><stop offset="0.6558" stop-color="#858585"/><stop offset="0.6653" stop-color="#b0b0b0"/><stop offset="0.6667" stop-color="#b0b0b0"/><stop offset="0.6816" stop-color="#848484"/><stop offset="0.6871" stop-color="#7d7d7d"/><stop offset="0.6952" stop-color="#6d6d6d"/><stop offset="0.7265" stop-color="#545454"/><stop offset="0.7429" stop-color="#444444"/><stop offset="0.7551" stop-color="#262626"/><stop offset="0.7633" stop-color="#1a1a1a"/><stop offset="0.7687" stop-color="#181818"/><stop offset="1.0000" stop-color="#181818"/></linearGradient>
<linearGradient id="c71" x1="0" y1="0" x2="0" y2="1"><stop offset="0.0000" stop-color="#181818"/><stop offset="0.2027" stop-color="#191919"/><stop offset="0.2109" stop-color="#242424"/><stop offset="0.2231" stop-color="#404040"/><stop offset="0.2476" stop-color="#595959"/><stop offset="0.2762" stop-color="#696969"/><stop offset="0.2898" stop-color="#878787"/><stop offset="0.2993" stop-color="#b3b3b3"/><stop offset="0.3007" stop-color="#b2b2b2"/><stop offset="0.3197" stop-color="#858585"/><stop offset="0.3265" stop-color="#7b7b7b"/><stop offset="0.3333" stop-color="#6e6e6e"/><stop offset="0.3646" stop-color="#535353"/><stop offset="0.3796" stop-color="#434343"/><stop offset="0.3932" stop-color="#242424"/><stop offset="0.4014" stop-color="#191919"/><stop offset="0.4150" stop-color="#181818"/><stop offset="0.4231" stop-color="#232323"/><stop offset="0.4340" stop-color="#3b3b3b"/><stop offset="0.4381" stop-color="#434343"/><stop offset="0.4612" stop-color="#5a5a5a"/><stop offset="0.4844" stop-color="#696969"/><stop offset="0.4966" stop-color="#868686"/><stop offset="0.5061" stop-color="#b2b2b2"/><stop offset="0.5211" stop-color="#858585"/><stop offset="0.5293" stop-color="#787878"/><stop offset="0.5361" stop-color="#6d6d6d"/><stop offset="0.5673" stop-color="#565656"/><stop offset="0.5864" stop-color="#444444"/><stop offset="0.5905" stop-color="#3e3e3e"/><stop offset="0.5946" stop-color="#3f3f3f"/><stop offset="0.6000" stop-color="#454545"/><stop offset="0.6245" stop-color="#5b5b5b"/><stop offset="0.6435" stop-color="#696969"/><stop offset="0.6531" stop-color="#828282"/><stop offset="0.6544" stop-color="#858585"/><stop offset="0.6639" stop-color="#b0b0b0"/><stop offset="0.6653" stop-color="#b0b0b0"/><stop offset="0.6803" stop-color="#858585"/><stop offset="0.6857" stop-color="#7d7d7d"/><stop offset="0.6939" stop-color="#6d6d6d"/><stop offset="0.7238" stop-color="#555555"/><stop offset="0.7415" stop-color="#444444"/><stop offset="0.7524" stop-color="#282828"/><stop offset="0.7605" stop-color="#1b1b1b"/><stop offset="0.7660" stop-color="#181818"/><stop offset="1.0000" stop-color="#181818"/></linearGradient>
<linearGradient id="c72" x1="0" y1="0" x2="0" y2="1"><stop offset="0.0000" stop-color="#181818"/><stop offset="0.2054" stop-color="#181818"/><stop offset="0.2136" stop-color="#222222"/><stop offset="0.2245" stop-color="#3b3b3b"/><stop offset="0.2286" stop-color="#424242"/><stop offset="0.2503" stop-color="#595959"/><stop offset="0.2789" stop-color="#6a6a6a"/><stop offset="0.2912" stop-color="#868686"/><stop offset="0.3007" stop-color="#b0b0b0"/><stop offset="0.3020" stop-color="#b4b4b4"/><stop offset="0.3211" stop-color="#868686"/><stop offset="0.3279" stop-color="#7e7e7e"/><stop offset="0.3361" stop-color="#6d6d6d"/><stop offset="0.3660" stop-color="#535353"/><stop offset="0.3810" stop-color="#434343"/><stop offset="0.3946" stop-color="#232323"/><stop offset="0.4027" stop-color="#181818"/><stop offset="0.4177" stop-color="#181818"/><stop offset="0.4259" stop-color="#222222"/><stop offset="0.4367" stop-color="#3a3a3a"/><stop offset="0.4408" stop-color="#424242"/><stop offset="0.4639" stop-color="#5a5a5a"/><stop offset="0.4871" stop-color="#696969"/><stop offset="0.4993" stop-color="#888888"/><stop offset="0.5075" stop-color="#afafaf"/><stop offset="0.5088" stop-color="#b1b1b1"/><stop offset="0.5224" stop-color="#878787"/><stop offset="0.5374" stop-color="#6d6d6d"/><stop offset="0.5687" stop-color="#575757"/><stop offset="0.5837" stop-color="#494949"/><stop offset="0.5891" stop-color="#444444"/><stop offset="0.5932" stop-color="#414141"/><stop offset="0.6150" stop-color="#545454"/><stop offset="0.6422" stop-color="#696969"/><stop offset="0.6517" stop-color="#838383"/><stop offset="0.6531" stop-color="#858585"/><stop offset="0.6626" stop-color="#b2b2b2"/><stop offset="0.6789" stop-color="#848484"/><stop offset="0.6844" stop-color="#7c7c7c"/><stop offset="0.6925" stop-color="#6d6d6d"/><stop offset="0.7224" stop-color="#555555"/><stop offset="0.7388" stop-color="#444444"/><stop offset="0.7510" stop-color="#262626"/><stop offset="0.7592" stop-color="#1a1a1a"/><stop offset="0.7673" stop-color="#181818"/><stop offset="1.0000" stop-color="#181818"/></linearGradient>
<linearGradient id="c73" x1="0" y1="0" x2="0" y2="1"><stop offset="0.0000" stop-color="#181818"/><stop offset="0.2095" stop-color="#191919"/><stop offset="0.2177" stop-color="#242424"/><stop offset="0.2299" stop-color="#404040"/><stop offset="0.2531" stop-color="#595959"/><stop offset="0.2803" stop-color="#6a6a6a"/><stop offset="0.2925" stop-color="#868686"/><stop offset="0.3020" stop-color="#b0b0b0"/><stop offset="0.3034" stop-color="#b4b4b4"/><stop offset="0.3238" stop-color="#858585"/><stop offset="0.3293" stop-color="#7f7f7f"/><stop offset="0.3374" stop-color="#6d6d6d"/><stop offset="0.3673" stop-color="#525252"/><stop offset="0.3823" stop-color="#424242"/><stop offset="0.3946" stop-color="#242424"/><stop offset="0.4027" stop-color="#191919"/><stop offset="0.4218" stop-color="#181818"/><stop offset="0.4299" stop-color="#222222"/><stop offset="0.4408" stop-color="#3b3b3b"/><stop offset="0.4449" stop-color="#424242"/><stop offset="0.4680" stop-color="#5a5a5a"/><stop offset="0.4912" stop-color="#6a6a6a"/><stop offset="0.5020" stop-color="#868686"/><stop offset="0.5102" stop-color="#adadad"/><stop offset="0.5116" stop-color="#b2b2b2"/><stop offset="0.5265" stop-color="#848484"/><stop offset="0.5347" stop-color="#777777"/><stop offset="0.5415" stop-color="#6c6c6c"/><stop offset="0.5714" stop-color="#575757"/><stop offset="0.5864" stop-color="#4a4a4a"/><stop offset="0.5946" stop-color="#474747"/><stop offset="0.6041" stop-color="#4b4b4b"/><stop offset="0.6231" stop-color="#5c5c5c"/><stop offset="0.6408" stop-color="#696969"/><stop offset="0.6503" stop-color="#838383"/><stop offset="0.6517" stop-color="#868686"/><stop offset="0.6599" stop-color="#aeaeae"/><stop offset="0.6612" stop-color="#b2b2b2"/><stop offset="0.6762" stop-color="#868686"/><stop offset="0.6830" stop-color="#7c7c7c"/><stop offset="0.6898" stop-color="#6e6e6e"/><stop offset="0.7197" stop-color="#555555"/><stop offset="0.7374" stop-color="#434343"/><stop offset="0.7483" stop-color="#272727"/><stop offset="0.7565" stop-color="#1a1a1a"/><stop offset="0.7619" stop-color="#181818"/><stop offset="1.0000" stop-color="#181818"/></linearGradient>
<linearGradient id="c74" x1="0" y1="0" x2="0" y2="1"><stop offset="0.0000" stop-color="#181818"/><stop offset="0.2109" stop-color="#181818"/><stop offset="0.2190" stop-color="#232323"/><stop offset="0.2299" stop-color="#3c3c3c"/><stop offset="0.2327" stop-color="#414141"/><stop offset="0.2558" stop-color="#595959"/><stop offset="0.2803" stop-color="#686868"/><stop offset="0.2912" stop-color="#838383"/><stop offset="0.2939" stop-color="#8b8b8b"/><stop offset="0.3034" stop-color="#b1b1b1"/><stop offset="0.3048" stop-color="#b4b4b4"/><stop offset="0.3252" stop-color="#868686"/><stop offset="0.3320" stop-color="#7d7d7d"/><stop offset="0.3388" stop-color="#6d6d6d"/><stop offset="0.3687" stop-color="#525252"/><stop offset="0.3823" stop-color="#434343"/><stop offset="0.3959" stop-color="#232323"/><stop offset="0.4041" stop-color="#181818"/><stop offset="0.4259" stop-color="#181818"/><stop offset="0.4340" stop-color="#232323"/><stop offset="0.4449" stop-color="#3c3c3c"/><stop offset="0.4476" stop-color="#414141"/><stop offset="0.4707" stop-color="#595959"/><stop offset="0.4925" stop-color="#686868"/><stop offset="0.5020" stop-color="#828282"/><stop offset="0.5034" stop-color="#858585"/><stop offset="0.5129" stop-color="#b2b2b2"/><stop offset="0.5279" stop-color="#868686"/><stop offset="0.5361" stop-color="#797979"/><stop offset="0.5429" stop-color="#6d6d6d"/><stop offset="0.5728" stop-color="#575757"/><stop offset="0.5878" stop-color="#494949"/><stop offset="0.5959" stop-color="#464646"/><stop offset="0.6068" stop-color="#4c4c4c"/><stop offset="0.6231" stop-color="#5b5b5b"/><stop offset="0.6408" stop-color="#696969"/><stop offset="0.6490" stop-color="#818181"/><stop offset="0.6517" stop-color="#888888"/><stop offset="0.6599" stop-color="#b0b0b0"/><stop offset="0.6612" stop-color="#b0b0b0"/><stop offset="0.6762" stop-color="#868686"/><stop offset="0.6830" stop-color="#7c7c7c"/><stop offset="0.6898" stop-color="#6e6e6e"/><stop offset="0.7197" stop-color="#555555"/><stop offset="0.7361" stop-color="#444444"/><stop offset="0.7483" stop-color="#252525"/><stop offset="0.7565" stop-color="#191919"/><stop offset="1.0000" stop-color="#181818"/></linearGradient>
<linearGradient id="c75" x1="0" y1="0" x2="0" y2="1"><stop offset="0.0000" stop-color="#181818"/><stop offset="0.2136" stop-color="#191919"/><stop offset="0.2218" stop-color="#242424"/><stop offset="0.2340" stop-color="#404040"/><stop offset="0.2585" stop-color="#595959"/><stop offset="0.2803" stop-color="#686868"/><stop offset="0.2898" stop-color="#818181"/><stop offset="0.2939" stop-color="#8a8a8a"/><stop offset="0.3048" stop-color="#b2b2b2"/><stop offset="0.3061" stop-color="#b4b4b4"/><stop offset="0.3265" stop-color="#868686"/><stop offset="0.3333" stop-color="#7e7e7e"/><stop offset="0.3401" stop-color="#6d6d6d"/><stop offset="0.3714" stop-color="#505050"/><stop offset="0.3850" stop-color="#404040"/><stop offset="0.3959" stop-color="#252525"/><stop offset="0.4041" stop-color="#191919"/><stop offset="0.4299" stop-color="#181818"/><stop offset="0.4381" stop-color="#232323"/><stop offset="0.4503" stop-color="#414141"/><stop offset="0.4735" stop-color="#595959"/><stop offset="0.4939" stop-color="#686868"/><stop offset="0.5020" stop-color="#808080"/><stop offset="0.5048" stop-color="#868686"/><stop offset="0.5129" stop-color="#aeaeae"/><stop offset="0.5143" stop-color="#b1b1b1"/><stop offset="0.5293" stop-color="#868686"/><stop offset="0.5374" stop-color="#797979"/><stop offset="0.5442" stop-color="#6d6d6d"/><stop offset="0.5728" stop-color="#575757"/><stop offset="0.5878" stop-color="#494949"/><stop offset="0.5959" stop-color="#424242"/><stop offset="0.6109" stop-color="#4e4e4e"/><stop offset="0.6259" stop-color="#5c5c5c"/><stop offset="0.6408" stop-color="#686868"/><stop offset="0.6490" stop-color="#818181"/><stop offset="0.6517" stop-color="#888888"/><stop offset="0.6599" stop-color="#b0b0b0"/><stop offset="0.6612" stop-color="#b0b0b0"/><stop offset="0.6776" stop-color="#858585"/><stop offset="0.6844" stop-color="#7b7b7b"/><stop offset="0.6912" stop-color="#6d6d6d"/><stop offset="0.7197" stop-color="#545454"/><stop offset="0.7361" stop-color="#434343"/><stop offset="0.7469" stop-color="#262626"/><stop offset="0.7551" stop-color="#191919"/><stop offset="0.7660" stop-color="#181818"/><stop offset="1.0000" stop-color="#181818"/></linearGradient>
<linearGradient id="c76" x1="0" y1="0" x2="0" y2="1"><stop offset="0.0000" stop-color="#181818"/><stop offset="0.2150" stop-color="#191919"/><stop offset="0.2231" stop-color="#232323"/><stop offset="0.2340" stop-color="#3c3c3c"/><stop offset="0.2354" stop-color="#404040"/><stop offset="0.2599" stop-color="#595959"/><stop offset="0.2803" stop-color="#676767"/><stop offset="0.2871" stop-color="#7a7a7a"/><stop offset="0.2912" stop-color="#838383"/><stop offset="0.2939" stop-color="#898989"/><stop offset="0.3061" stop-color="#b4b4b4"/><stop offset="0.3075" stop-color="#b4b4b4"/><stop offset="0.3279" stop-color="#868686"/><stop offset="0.3347" stop-color="#7e7e7e"/><stop offset="0.3415" stop-color="#6d6d6d"/><stop offset="0.3741" stop-color="#4d4d4d"/><stop offset="0.3850" stop-color="#404040"/><stop offset="0.3973" stop-color="#232323"/><stop offset="0.4054" stop-color="#181818"/><stop offset="0.4340" stop-color="#191919"/><stop offset="0.4422" stop-color="#242424"/><stop offset="0.4531" stop-color="#3f3f3f"/><stop offset="0.4776" stop-color="#5a5a5a"/><stop offset="0.4952" stop-color="#676767"/><stop offset="0.5034" stop-color="#818181"/><stop offset="0.5061" stop-color="#888888"/><stop offset="0.5143" stop-color="#b0b0b0"/><stop offset="0.5156" stop-color="#b0b0b0"/><stop offset="0.5320" stop-color="#848484"/><stop offset="0.5374" stop-color="#7d7d7d"/><stop offset="0.5456" stop-color="#6c6c6c"/><stop offset="0.5741" stop-color="#565656"/><stop offset="0.5918" stop-color="#444444"/><stop offset="0.5959" stop-color="#3d3d3d"/><stop offset="0.6000" stop-color="#3e3e3e"/><stop offset="0.6041" stop-color="#434343"/><stop offset="0.6286" stop-color="#5b5b5b"/><stop offset="0.6435" stop-color="#686868"/><stop offset="0.6503" stop-color="#808080"/><stop offset="0.6531" stop-color="#858585"/><stop offset="0.6626" stop-color="#b2b2b2"/><stop offset="0.6803" stop-color="#858585"/><stop offset="0.6857" stop-color="#7f7f7f"/><stop offset="0.6939" stop-color="#6d6d6d"/><stop offset="0.7211" stop-color="#555555"/><stop offset="0.7374" stop-color="#444444"/><stop offset="0.7483" stop-color="#262626"/><stop offset="0.7565" stop-color="#191919"/><stop offset="0.7701" stop-color="#181818"/><stop offset="1.0000" stop-color="#181818"/></linearGradient>
<linearGradient id="c77" x1="0" y1="0" x2="0" y2="1"><stop offset="0.0000" stop-color="#181818"/><stop offset="0.2163" stop-color="#181818"/><stop offset="0.2245" stop-color="#222222"/><stop offset="0.2354" stop-color="#3b3b3b"/><stop offset="0.2381" stop-color="#404040"/><stop offset="0.2626" stop-color="#5a5a5a"/><stop offset="0.2816" stop-color="#696969"/><stop offset="0.2884" stop-color="#7f7f7f"/><stop offset="0.2939" stop-color="#898989"/><stop offset="0.3075" stop-color="#b5b5b5"/><stop offset="0.3306" stop-color="#858585"/><stop offset="0.3361" stop-color="#7f7f7f"/><stop offset="0.3429" stop-color="#6d6d6d"/><stop offset="0.3782" stop-color="#4a4a4a"/><stop offset="0.3864" stop-color="#3f3f3f"/><stop offset="0.3973" stop-color="#242424"/><stop offset="0.4054" stop-color="#191919"/><stop offset="0.4381" stop-color="#191919"/><stop offset="0.4463" stop-color="#252525"/><stop offset="0.4571" stop-color="#404040"/><stop offset="0.4803" stop-color="#5a5a5a"/><stop offset="0.4966" stop-color="#676767"/><stop offset="0.5034" stop-color="#7f7f7f"/><stop offset="0.5061" stop-color="#848484"/><stop offset="0.5156" stop-color="#b1b1b1"/><stop offset="0.5184" stop-color="#acacac"/><stop offset="0.5333" stop-color="#858585"/><stop offset="0.5388" stop-color="#7e7e7e"/><stop offset="0.5469" stop-color="#6c6c6c"/><stop offset="0.5741" stop-color="#575757"/><stop offset="0.5918" stop-color="#444444"/><stop offset="0.5973" stop-color="#373737"/><stop offset="0.6014" stop-color="#353535"/><stop offset="0.6068" stop-color="#3f3f3f"/><stop offset="0.6313" stop-color="#5a5a5a"/><stop offset="0.6463" stop-color="#676767"/><stop offset="0.6503" stop-color="#757575"/><stop offset="0.6531" stop-color="#7f7f7f"/><stop offset="0.6558" stop-color="#858585"/><stop offset="0.6653" stop-color="#b2b2b2"/><stop offset="0.6844" stop-color="#858585"/><stop offset="0.6898" stop-color="#7f7f7f"/><stop offset="0.6980" stop-color="#6c6c6c"/><stop offset="0.7238" stop-color="#555555"/><stop offset="0.7401" stop-color="#434343"/><stop offset="0.7510" stop-color="#252525"/><stop offset="0.7592" stop-color="#191919"/><stop offset="1.0000" stop-color="#181818"/></linearGradient>
<linearGradient id="c78" x1="0" y1="0" x2="0" y2="1"><stop offset="0.0000" stop-color="#181818"/><stop offset="0.2177" stop-color="#181818"/><stop offset="0.2259" stop-color="#222222"/><stop offset="0.2367" stop-color="#3a3a3a"/><stop offset="0.2395" stop-color="#404040"/><stop offset="0.2653" stop-color="#5a5a5a"/><stop offset="0.2816" stop-color="#686868"/><stop offset="0.2884" stop-color="#808080"/><stop offset="0.2939" stop-color="#898989"/><stop offset="0.3088" stop-color="#b6b6b6"/><stop offset="0.3306" stop-color="#878787"/><stop offset="0.3374" stop-color="#808080"/><stop offset="0.3442" stop-color="#6c6c6c"/><stop offset="0.3850" stop-color="#434343"/><stop offset="0.3986" stop-color="#232323"/><stop offset="0.4068" stop-color="#181818"/><stop offset="0.4408" stop-color="#181818"/><stop offset="0.4490" stop-color="#232323"/><stop offset="0.4585" stop-color="#3a3a3a"/><stop offset="0.4612" stop-color="#414141"/><stop offset="0.4844" stop-color="#5a5a5a"/><stop offset="0.4980" stop-color="#666666"/><stop offset="0.5007" stop-color="#6f6f6f"/><stop offset="0.5048" stop-color="#7f7f7f"/><stop offset="0.5075" stop-color="#858585"/><stop offset="0.5170" stop-color="#b2b2b2"/><stop offset="0.5347" stop-color="#858585"/><stop offset="0.5401" stop-color="#7f7f7f"/><stop offset="0.5483" stop-color="#6c6c6c"/><stop offset="0.5755" stop-color="#565656"/><stop offset="0.5918" stop-color="#434343"/><stop offset="0.5986" stop-color="#323232"/><stop offset="0.6027" stop-color="#2e2e2e"/><stop offset="0.6068" stop-color="#323232"/><stop offset="0.6136" stop-color="#424242"/><stop offset="0.6367" stop-color="#5b5b5b"/><stop offset="0.6503" stop-color="#696969"/><stop offset="0.6558" stop-color="#7f7f7f"/><stop offset="0.6585" stop-color="#858585"/><stop offset="0.6680" stop-color="#b2b2b2"/><stop offset="0.6884" stop-color="#848484"/><stop offset="0.6939" stop-color="#7e7e7e"/><stop offset="0.7007" stop-color="#6d6d6d"/><stop offset="0.7265" stop-color="#555555"/><stop offset="0.7429" stop-color="#424242"/><stop offset="0.7524" stop-color="#272727"/><stop offset="0.7592" stop-color="#1b1b1b"/><stop offset="0.7633" stop-color="#181818"/><stop offset="1.0000" stop-color="#181818"/></linearGradient>
<linearGradient id="c79" x1="0" y1="0" x2="0" y2="1"><stop offset="0.0000" stop-color="#181818"/><stop offset="0.2163" stop-color="#181818"/><stop offset="0.2245" stop-color="#222222"/><stop offset="0.2354" stop-color="#3a3a3a"/><stop offset="0.2381" stop-color="#404040"/><stop offset="0.2653" stop-color="#5b5b5b"/><stop offset="0.2776" stop-color="#666666"/><stop offset="0.2789" stop-color="#696969"/><stop offset="0.2844" stop-color="#7e7e7e"/><stop offset="0.2898" stop-color="#878787"/><stop offset="0.3061" stop-color="#b5b5b5"/><stop offset="0.3088" stop-color="#b2b2b2"/><stop offset="0.3293" stop-color="#868686"/><stop offset="0.3361" stop-color="#7f7f7f"/><stop offset="0.3429" stop-color="#6c6c6c"/><stop offset="0.3823" stop-color="#434343"/><stop offset="0.3891" stop-color="#333333"/><stop offset="0.3986" stop-color="#1f1f1f"/><stop offset="0.4054" stop-color="#181818"/><stop offset="0.4449" stop-color="#181818"/><stop offset="0.4531" stop-color="#232323"/><stop offset="0.4626" stop-color="#3c3c3c"/><stop offset="0.4639" stop-color="#404040"/><stop offset="0.4884" stop-color="#5b5b5b"/><stop offset="0.5007" stop-color="#686868"/><stop offset="0.5061" stop-color="#808080"/><stop offset="0.5088" stop-color="#858585"/><stop offset="0.5170" stop-color="#adadad"/><stop offset="0.5184" stop-color="#b2b2b2"/><stop offset="0.5361" stop-color="#868686"/><stop offset="0.5429" stop-color="#7d7d7d"/><stop offset="0.5497" stop-color="#6c6c6c"/><stop offset="0.5755" stop-color="#575757"/><stop offset="0.5918" stop-color="#444444"/><stop offset="0.6014" stop-color="#2b2b2b"/><stop offset="0.6054" stop-color="#282828"/><stop offset="0.6095" stop-color="#2d2d2d"/><stop offset="0.6177" stop-color="#414141"/><stop offset="0.6422" stop-color="#5c5c5c"/><stop offset="0.6531" stop-color="#686868"/><stop offset="0.6585" stop-color="#808080"/><stop offset="0.6612" stop-color="#868686"/><stop offset="0.6694" stop-color="#adadad"/><stop offset="0.6707" stop-color="#b2b2b2"/><stop offset="0.6912" stop-color="#848484"/><stop offset="0.6966" stop-color="#808080"/><stop offset="0.7034" stop-color="#6d6d6d"/><stop offset="0.7320" stop-color="#515151"/><stop offset="0.7442" stop-color="#434343"/><stop offset="0.7551" stop-color="#252525"/><stop offset="0.7619" stop-color="#1a1a1a"/><stop offset="0.7701" stop-color="#181818"/><stop offset="1.0000" stop-color="#181818"/></linearGradient>
<linearGradient id="c80" x1="0" y1="0" x2="0" y2="1"><stop offset="0.0000" stop-color="#181818"/><stop offset="0.2150" stop-color="#181818"/><stop offset="0.2231" stop-color="#222222"/><stop offset="0.2340" stop-color="#3a3a3a"/><stop offset="0.2367" stop-color="#404040"/><stop offset="0.2653" stop-color="#5d5d5d"/><stop offset="0.2748" stop-color="#666666"/><stop offset="0.2776" stop-color="#6f6f6f"/><stop offset="0.2816" stop-color="#808080"/><stop offset="0.2871" stop-color="#888888"/><stop offset="0.3034" stop-color="#b4b4b4"/><stop offset="0.3048" stop-color="#b6b6b6"/><stop offset="0.3279" stop-color="#868686"/><stop offset="0.3347" stop-color="#7e7e7e"/><stop offset="0.3401" stop-color="#6d6d6d"/><stop offset="0.3810" stop-color="#414141"/><stop offset="0.3932" stop-color="#242424"/><stop offset="0.4014" stop-color="#181818"/><stop offset="0.4490" stop-color="#181818"/><stop offset="0.4571" stop-color="#242424"/><stop offset="0.4680" stop-color="#404040"/><stop offset="0.4925" stop-color="#5c5c5c"/><stop offset="0.5020" stop-color="#676767"/><stop offset="0.5075" stop-color="#808080"/><stop offset="0.5102" stop-color="#878787"/><stop offset="0.5184" stop-color="#aeaeae"/><stop offset="0.5197" stop-color="#b2b2b2"/><stop offset="0.5388" stop-color="#848484"/><stop offset="0.5442" stop-color="#7e7e7e"/><stop offset="0.5510" stop-color="#6d6d6d"/><stop offset="0.5769" stop-color="#565656"/><stop offset="0.5932" stop-color="#414141"/><stop offset="0.6027" stop-color="#262626"/><stop offset="0.6068" stop-color="#222222"/><stop offset="0.6109" stop-color="#252525"/><stop offset="0.6190" stop-color="#3a3a3a"/><stop offset="0.6231" stop-color="#424242"/><stop offset="0.6476" stop-color="#5e5e5e"/><stop offset="0.6558" stop-color="#686868"/><stop offset="0.6599" stop-color="#7c7c7c"/><stop offset="0.6639" stop-color="#888888"/><stop offset="0.6721" stop-color="#afafaf"/><stop offset="0.6735" stop-color="#b1b1b1"/><stop offset="0.6939" stop-color="#858585"/><stop offset="0.7007" stop-color="#7d7d7d"/><stop offset="0.7075" stop-color="#6b6b6b"/><stop offset="0.7333" stop-color="#525252"/><stop offset="0.7456" stop-color="#444444"/><stop offset="0.7565" stop-color="#262626"/><stop offset="0.7633" stop-color="#1a1a1a"/><stop offset="0.7701" stop-color="#181818"/><stop offset="1.0000" stop-color="#181818"/></linearGradient>
<linearGradient id="c81" x1="0" y1="0" x2="0" y2="1"><stop offset="0.0000" stop-color="#181818"/><stop offset="0.2150" stop-color="#191919"/><stop offset="0.2231" stop-color="#232323"/><stop offset="0.2354" stop-color="#404040"/><stop offset="0.2626" stop-color="#5c5c5c"/><stop offset="0.2735" stop-color="#666666"/><stop offset="0.2776" stop-color="#757575"/><stop offset="0.2803" stop-color="#808080"/><stop offset="0.2857" stop-color="#898989"/><stop offset="0.3020" stop-color="#b6b6b6"/><stop offset="0.3252" stop-color="#868686"/><stop offset="0.3320" stop-color="#7f7f7f"/><stop offset="0.3374" stop-color="#6d6d6d"/><stop offset="0.3537" stop-color="#5c5c5c"/><stop offset="0.3782" stop-color="#404040"/><stop offset="0.3905" stop-color="#232323"/><stop offset="0.3986" stop-color="#181818"/><stop offset="0.4503" stop-color="#191919"/><stop offset="0.4585" stop-color="#262626"/><stop offset="0.4680" stop-color="#3f3f3f"/><stop offset="0.4925" stop-color="#5c5c5c"/><stop offset="0.5020" stop-color="#666666"/><stop offset="0.5075" stop-color="#808080"/><stop offset="0.5102" stop-color="#868686"/><stop offset="0.5184" stop-color="#aeaeae"/><stop offset="0.5197" stop-color="#b2b2b2"/><stop offset="0.5388" stop-color="#858585"/><stop offset="0.5442" stop-color="#808080"/><stop offset="0.5524" stop-color="#6b6b6b"/><stop offset="0.5769" stop-color="#565656"/><stop offset="0.5932" stop-color="#414141"/><stop offset="0.6027" stop-color="#262626"/><stop offset="0.6068" stop-color="#212121"/><stop offset="0.6109" stop-color="#232323"/><stop offset="0.6190" stop-color="#373737"/><stop offset="0.6218" stop-color="#3f3f3f"/><stop offset="0.6463" stop-color="#5c5c5c"/><stop offset="0.6558" stop-color="#656565"/><stop offset="0.6585" stop-color="#707070"/><stop offset="0.6612" stop-color="#7e7e7e"/><stop offset="0.6639" stop-color="#848484"/><stop offset="0.6735" stop-color="#b2b2b2"/><stop offset="0.6952" stop-color="#858585"/><stop offset="0.7020" stop-color="#7e7e7e"/><stop offset="0.7088" stop-color="#6b6b6b"/><stop offset="0.7347" stop-color="#525252"/><stop offset="0.7469" stop-color="#444444"/><stop offset="0.7578" stop-color="#252525"/><stop offset="0.7646" stop-color="#1a1a1a"/><stop offset="0.7728" stop-color="#181818"/><stop offset="1.0000" stop-color="#181818"/></linearGradient>
<linearGradient id="c82" x1="0" y1="0" x2="0" y2="1"><stop offset="0.0000" stop-color="#181818"/><stop offset="0.2136" stop-color="#181818"/><stop offset="0.2218" stop-color="#222222"/><stop offset="0.2327" stop-color="#3c3c3c"/><stop offset="0.2340" stop-color="#3f3f3f"/><stop offset="0.2599" stop-color="#5a5a5a"/><stop offset="0.2721" stop-color="#656565"/><stop offset="0.2789" stop-color="#808080"/><stop offset="0.2844" stop-color="#898989"/><stop offset="0.2993" stop-color="#b6b6b6"/><stop offset="0.3224" stop-color="#868686"/><stop offset="0.3293" stop-color="#7f7f7f"/><stop offset="0.3361" stop-color="#6b6b6b"/><stop offset="0.3741" stop-color="#424242"/><stop offset="0.3864" stop-color="#242424"/><stop offset="0.3946" stop-color="#181818"/><stop offset="0.4503" stop-color="#181818"/><stop offset="0.4585" stop-color="#252525"/><stop offset="0.4694" stop-color="#404040"/><stop offset="0.4939" stop-color="#5c5c5c"/><stop offset="0.5020" stop-color="#656565"/><stop offset="0.5048" stop-color="#717171"/><stop offset="0.5075" stop-color="#7f7f7f"/><stop offset="0.5102" stop-color="#858585"/><stop offset="0.5184" stop-color="#aeaeae"/><stop offset="0.5197" stop-color="#b3b3b3"/><stop offset="0.5388" stop-color="#868686"/><stop offset="0.5456" stop-color="#7d7d7d"/><stop offset="0.5524" stop-color="#6b6b6b"/><stop offset="0.5769" stop-color="#565656"/><stop offset="0.5932" stop-color="#424242"/><stop offset="0.6027" stop-color="#262626"/><stop offset="0.6068" stop-color="#202020"/><stop offset="0.6109" stop-color="#222222"/><stop offset="0.6177" stop-color="#313131"/><stop offset="0.6231" stop-color="#404040"/><stop offset="0.6476" stop-color="#5c5c5c"/><stop offset="0.6571" stop-color="#656565"/><stop offset="0.6626" stop-color="#7f7f7f"/><stop offset="0.6653" stop-color="#858585"/><stop offset="0.6735" stop-color="#aeaeae"/><stop offset="0.6748" stop-color="#b2b2b2"/><stop offset="0.6966" stop-color="#858585"/><stop offset="0.7034" stop-color="#7e7e7e"/><stop offset="0.7102" stop-color="#6b6b6b"/><stop offset="0.7361" stop-color="#525252"/><stop offset="0.7483" stop-color="#434343"/><stop offset="0.7592" stop-color="#252525"/><stop offset="0.7660" stop-color="#191919"/><stop offset="0.7755" stop-color="#181818"/><stop offset="1.0000" stop-color="#181818"/></linearGradient>
<linearGradient id="c83" x1="0" y1="0" x2="0" y2="1"><stop offset="0.0000" stop-color="#181818"/><stop offset="0.2150" stop-color="#191919"/><stop offset="0.2231" stop-color="#242424"/><stop offset="0.2340" stop-color="#3f3f3f"/><stop offset="0.2585" stop-color="#595959"/><stop offset="0.2721" stop-color="#656565"/><stop offset="0.2789" stop-color="#808080"/><stop offset="0.2830" stop-color="#868686"/><stop offset="0.2980" stop-color="#b6b6b6"/><stop offset="0.3211" stop-color="#868686"/><stop offset="0.3279" stop-color="#808080"/><stop offset="0.3347" stop-color="#6b6b6b"/><stop offset="0.3673" stop-color="#484848"/><stop offset="0.3741" stop-color="#3f3f3f"/><stop offset="0.3837" stop-color="#252525"/><stop offset="0.3918" stop-color="#191919"/><stop offset="0.4503" stop-color="#181818"/><stop offset="0.4585" stop-color="#242424"/><stop offset="0.4694" stop-color="#404040"/><stop offset="0.4939" stop-color="#5c5c5c"/><stop offset="0.5020" stop-color="#646464"/><stop offset="0.5034" stop-color="#686868"/><stop offset="0.5075" stop-color="#7d7d7d"/><stop offset="0.5102" stop-color="#858585"/><stop offset="0.5197" stop-color="#b3b3b3"/><stop offset="0.5401" stop-color="#848484"/><stop offset="0.5456" stop-color="#7e7e7e"/><stop offset="0.5524" stop-color="#6c6c6c"/><stop offset="0.5769" stop-color="#565656"/><stop offset="0.5932" stop-color="#424242"/><stop offset="0.6027" stop-color="#272727"/><stop offset="0.6068" stop-color="#202020"/><stop offset="0.6109" stop-color="#202020"/><stop offset="0.6177" stop-color="#2e2e2e"/><stop offset="0.6245" stop-color="#404040"/><stop offset="0.6476" stop-color="#5b5b5b"/><stop offset="0.6585" stop-color="#666666"/><stop offset="0.6639" stop-color="#808080"/><stop offset="0.6667" stop-color="#878787"/><stop offset="0.6748" stop-color="#b1b1b1"/><stop offset="0.6762" stop-color="#b2b2b2"/><stop offset="0.6980" stop-color="#858585"/><stop offset="0.7048" stop-color="#7e7e7e"/><stop offset="0.7116" stop-color="#6b6b6b"/><stop offset="0.7374" stop-color="#525252"/><stop offset="0.7497" stop-color="#434343"/><stop offset="0.7605" stop-color="#252525"/><stop offset="0.7673" stop-color="#191919"/><stop offset="0.7810" stop-color="#181818"/><stop offset="1.0000" stop-color="#181818"/></linearGradient>
<linearGradient id="c84" x1="0" y1="0" x2="0" y2="1"><stop offset="0.0000" stop-color="#181818"/><stop offset="0.2150" stop-color="#181818"/><stop offset="0.2231" stop-color="#232323"/><stop offset="0.2327" stop-color="#3a3a3a"/><stop offset="0.2354" stop-color="#404040"/><stop offset="0.2571" stop-color="#585858"/><stop offset="0.2721" stop-color="#656565"/><stop offset="0.2789" stop-color="#808080"/><stop offset="0.2830" stop-color="#878787"/><stop offset="0.2966" stop-color="#b5b5b5"/><stop offset="0.3211" stop-color="#858585"/><stop offset="0.3265" stop-color="#808080"/><stop offset="0.3333" stop-color="#6b6b6b"/><stop offset="0.3619" stop-color="#4c4c4c"/><stop offset="0.3714" stop-color="#404040"/><stop offset="0.3823" stop-color="#242424"/><stop offset="0.3891" stop-color="#191919"/><stop offset="0.3986" stop-color="#181818"/><stop offset="0.4503" stop-color="#181818"/><stop offset="0.4585" stop-color="#232323"/><stop offset="0.4694" stop-color="#3f3f3f"/><stop offset="0.4939" stop-color="#5b5b5b"/><stop offset="0.5020" stop-color="#646464"/><stop offset="0.5034" stop-color="#676767"/><stop offset="0.5075" stop-color="#7d7d7d"/><stop offset="0.5102" stop-color="#858585"/><stop offset="0.5184" stop-color="#aeaeae"/><stop offset="0.5197" stop-color="#b3b3b3"/><stop offset="0.5401" stop-color="#858585"/><stop offset="0.5456" stop-color="#7f7f7f"/><stop offset="0.5524" stop-color="#6c6c6c"/><stop offset="0.5782" stop-color="#545454"/><stop offset="0.5932" stop-color="#414141"/><stop offset="0.6027" stop-color="#262626"/><stop offset="0.6068" stop-color="#212121"/><stop offset="0.6109" stop-color="#232323"/><stop offset="0.6190" stop-color="#363636"/><stop offset="0.6231" stop-color="#404040"/><stop offset="0.6449" stop-color="#595959"/><stop offset="0.6571" stop-color="#656565"/><stop offset="0.6626" stop-color="#808080"/><stop offset="0.6653" stop-color="#878787"/><stop offset="0.6735" stop-color="#b2b2b2"/><stop offset="0.6748" stop-color="#b2b2b2"/><stop offset="0.6966" stop-color="#858585"/><stop offset="0.7034" stop-color="#7f7f7f"/><stop offset="0.7102" stop-color="#6b6b6b"/><stop offset="0.7361" stop-color="#525252"/><stop offset="0.7483" stop-color="#434343"/><stop offset="0.7592" stop-color="#252525"/><stop offset="0.7660" stop-color="#1a1a1a"/><stop offset="0.7741" stop-color="#181818"/><stop offset="1.0000" stop-color="#181818"/></linearGradient>
<linearGradient id="c85" x1="0" y1="0" x2="0" y2="1"><stop offset="0.0000" stop-color="#181818"/><stop offset="0.2190" stop-color="#181818"/><stop offset="0.2272" stop-color="#232323"/><stop offset="0.2367" stop-color="#3a3a3a"/><stop offset="0.2395" stop-color="#404040"/><stop offset="0.2612" stop-color="#595959"/><stop offset="0.2762" stop-color="#666666"/><stop offset="0.2816" stop-color="#7e7e7e"/><stop offset="0.2871" stop-color="#8a8a8a"/><stop offset="0.2993" stop-color="#b5b5b5"/><stop offset="0.3224" stop-color="#868686"/><stop offset="0.3293" stop-color="#7f7f7f"/><stop offset="0.3361" stop-color="#6b6b6b"/><stop offset="0.3619" stop-color="#4f4f4f"/><stop offset="0.3741" stop-color="#3f3f3f"/><stop offset="0.3837" stop-color="#252525"/><stop offset="0.3905" stop-color="#1a1a1a"/><stop offset="0.3973" stop-color="#181818"/><stop offset="0.4517" stop-color="#191919"/><stop offset="0.4599" stop-color="#262626"/><stop offset="0.4694" stop-color="#3f3f3f"/><stop offset="0.4939" stop-color="#5b5b5b"/><stop offset="0.5020" stop-color="#646464"/><stop offset="0.5034" stop-color="#676767"/><stop offset="0.5075" stop-color="#7e7e7e"/><stop offset="0.5102" stop-color="#858585"/><stop offset="0.5184" stop-color="#b0b0b0"/><stop offset="0.5197" stop-color="#b3b3b3"/><stop offset="0.5401" stop-color="#858585"/><stop offset="0.5456" stop-color="#7f7f7f"/><stop offset="0.5524" stop-color="#6c6c6c"/><stop offset="0.5782" stop-color="#535353"/><stop offset="0.5932" stop-color="#404040"/><stop offset="0.6014" stop-color="#292929"/><stop offset="0.6054" stop-color="#242424"/><stop offset="0.6095" stop-color="#262626"/><stop offset="0.6163" stop-color="#363636"/><stop offset="0.6204" stop-color="#404040"/><stop offset="0.6422" stop-color="#595959"/><stop offset="0.6544" stop-color="#656565"/><stop offset="0.6599" stop-color="#808080"/><stop offset="0.6626" stop-color="#878787"/><stop offset="0.6707" stop-color="#b2b2b2"/><stop offset="0.6735" stop-color="#afafaf"/><stop offset="0.6952" stop-color="#858585"/><stop offset="0.7007" stop-color="#808080"/><stop offset="0.7075" stop-color="#6c6c6c"/><stop offset="0.7347" stop-color="#505050"/><stop offset="0.7469" stop-color="#414141"/><stop offset="0.7565" stop-color="#262626"/><stop offset="0.7633" stop-color="#1a1a1a"/><stop offset="0.7687" stop-color="#181818"/><stop offset="1.0000" stop-color="#181818"/></linearGradient>
<linearGradient id="c86" x1="0" y1="0" x2="0" y2="1"><stop offset="0.0000" stop-color="#181818"/><stop offset="0.2231" stop-color="#181818"/><stop offset="0.2313" stop-color="#242424"/><stop offset="0.2422" stop-color="#3f3f3f"/><stop offset="0.2639" stop-color="#585858"/><stop offset="0.2789" stop-color="#656565"/><stop offset="0.2844" stop-color="#7c7c7c"/><stop offset="0.2898" stop-color="#8a8a8a"/><stop offset="0.3007" stop-color="#b3b3b3"/><stop offset="0.3020" stop-color="#b3b3b3"/><stop offset="0.3252" stop-color="#858585"/><stop offset="0.3306" stop-color="#808080"/><stop offset="0.3374" stop-color="#6b6b6b"/><stop offset="0.3633" stop-color="#505050"/><stop offset="0.3755" stop-color="#404040"/><stop offset="0.3850" stop-color="#252525"/><stop offset="0.3918" stop-color="#1a1a1a"/><stop offset="0.4000" stop-color="#181818"/><stop offset="0.4517" stop-color="#191919"/><stop offset="0.4599" stop-color="#262626"/><stop offset="0.4694" stop-color="#3f3f3f"/><stop offset="0.4952" stop-color="#5d5d5d"/><stop offset="0.5020" stop-color="#646464"/><stop offset="0.5034" stop-color="#686868"/><stop offset="0.5075" stop-color="#7e7e7e"/><stop offset="0.5102" stop-color="#858585"/><stop offset="0.5184" stop-color="#b2b2b2"/><stop offset="0.5197" stop-color="#b2b2b2"/><stop offset="0.5401" stop-color="#858585"/><stop offset="0.5456" stop-color="#808080"/><stop offset="0.5524" stop-color="#6c6c6c"/><stop offset="0.5769" stop-color="#555555"/><stop offset="0.5918" stop-color="#434343"/><stop offset="0.6000" stop-color="#2c2c2c"/><stop offset="0.6041" stop-color="#272727"/><stop offset="0.6082" stop-color="#2a2a2a"/><stop offset="0.6150" stop-color="#3b3b3b"/><stop offset="0.6177" stop-color="#414141"/><stop offset="0.6395" stop-color="#5a5a5a"/><stop offset="0.6517" stop-color="#666666"/><stop offset="0.6571" stop-color="#808080"/><stop offset="0.6599" stop-color="#888888"/><stop offset="0.6680" stop-color="#b4b4b4"/><stop offset="0.6925" stop-color="#858585"/><stop offset="0.6980" stop-color="#808080"/><stop offset="0.7048" stop-color="#6c6c6c"/><stop offset="0.7333" stop-color="#4f4f4f"/><stop offset="0.7442" stop-color="#414141"/><stop offset="0.7537" stop-color="#262626"/><stop offset="0.7605" stop-color="#1a1a1a"/><stop offset="0.7660" stop-color="#181818"/><stop offset="1.0000" stop-color="#181818"/></linearGradient>
<linearGradient id="c87" x1="0" y1="0" x2="0" y2="1"><stop offset="0.0000" stop-color="#181818"/><stop offset="0.2259" stop-color="#181818"/><stop offset="0.2340" stop-color="#242424"/><stop offset="0.2449" stop-color="#404040"/><stop offset="0.2667" stop-color="#595959"/><stop offset="0.2803" stop-color="#646464"/><stop offset="0.2816" stop-color="#686868"/><stop offset="0.2871" stop-color="#808080"/><stop offset="0.2912" stop-color="#898989"/><stop offset="0.3020" stop-color="#b5b5b5"/><stop offset="0.3265" stop-color="#858585"/><stop offset="0.3320" stop-color="#808080"/><stop offset="0.3361" stop-color="#747474"/><stop offset="0.3388" stop-color="#6b6b6b"/><stop offset="0.3646" stop-color="#4f4f4f"/><stop offset="0.3755" stop-color="#414141"/><stop offset="0.3864" stop-color="#242424"/><stop offset="0.3932" stop-color="#191919"/><stop offset="0.4517" stop-color="#191919"/><stop offset="0.4599" stop-color="#262626"/><stop offset="0.4694" stop-color="#3f3f3f"/><stop offset="0.4952" stop-color="#5d5d5d"/><stop offset="0.5020" stop-color="#646464"/><stop offset="0.5034" stop-color="#696969"/><stop offset="0.5075" stop-color="#808080"/><stop offset="0.5102" stop-color="#878787"/><stop offset="0.5184" stop-color="#b4b4b4"/><stop offset="0.5401" stop-color="#858585"/><stop offset="0.5456" stop-color="#7f7f7f"/><stop offset="0.5524" stop-color="#6b6b6b"/><stop offset="0.5769" stop-color="#545454"/><stop offset="0.5918" stop-color="#424242"/><stop offset="0.5986" stop-color="#303030"/><stop offset="0.6027" stop-color="#2b2b2b"/><stop offset="0.6068" stop-color="#2f2f2f"/><stop offset="0.6136" stop-color="#404040"/><stop offset="0.6367" stop-color="#5a5a5a"/><stop offset="0.6476" stop-color="#646464"/><stop offset="0.6490" stop-color="#676767"/><stop offset="0.6544" stop-color="#818181"/><stop offset="0.6571" stop-color="#8a8a8a"/><stop offset="0.6639" stop-color="#b0b0b0"/><stop offset="0.6653" stop-color="#b4b4b4"/><stop offset="0.6898" stop-color="#858585"/><stop offset="0.6966" stop-color="#7e7e7e"/><stop offset="0.7020" stop-color="#6d6d6d"/><stop offset="0.7197" stop-color="#5b5b5b"/><stop offset="0.7415" stop-color="#414141"/><stop offset="0.7510" stop-color="#262626"/><stop offset="0.7578" stop-color="#1a1a1a"/><stop offset="0.7633" stop-color="#181818"/><stop offset="1.0000" stop-color="#181818"/></linearGradient>
<linearGradient id="c88" x1="0" y1="0" x2="0" y2="1"><stop offset="0.0000" stop-color="#181818"/><stop offset="0.2286" stop-color="#181818"/><stop offset="0.2367" stop-color="#232323"/><stop offset="0.2476" stop-color="#3f3f3f"/><stop offset="0.2707" stop-color="#5a5a5a"/><stop offset="0.2830" stop-color="#656565"/><stop offset="0.2884" stop-color="#7d7d7d"/><stop offset="0.2925" stop-color="#888888"/><stop offset="0.3020" stop-color="#b1b1b1"/><stop offset="0.3034" stop-color="#b5b5b5"/><stop offset="0.3279" stop-color="#868686"/><stop offset="0.3347" stop-color="#7f7f7f"/><stop offset="0.3401" stop-color="#6c6c6c"/><stop offset="0.3701" stop-color="#4a4a4a"/><stop offset="0.3769" stop-color="#404040"/><stop offset="0.3878" stop-color="#232323"/><stop offset="0.3946" stop-color="#191919"/><stop offset="0.4503" stop-color="#181818"/><stop offset="0.4585" stop-color="#252525"/><stop offset="0.4694" stop-color="#404040"/><stop offset="0.5020" stop-color="#676767"/><stop offset="0.5061" stop-color="#7d7d7d"/><stop offset="0.5088" stop-color="#858585"/><stop offset="0.5170" stop-color="#b2b2b2"/><stop offset="0.5184" stop-color="#b3b3b3"/><stop offset="0.5388" stop-color="#868686"/><stop offset="0.5456" stop-color="#7d7d7d"/><stop offset="0.5524" stop-color="#6b6b6b"/><stop offset="0.5755" stop-color="#555555"/><stop offset="0.5905" stop-color="#434343"/><stop offset="0.5986" stop-color="#2e2e2e"/><stop offset="0.6027" stop-color="#2c2c2c"/><stop offset="0.6068" stop-color="#323232"/><stop offset="0.6122" stop-color="#404040"/><stop offset="0.6340" stop-color="#595959"/><stop offset="0.6463" stop-color="#656565"/><stop offset="0.6517" stop-color="#7f7f7f"/><stop offset="0.6544" stop-color="#868686"/><stop offset="0.6626" stop-color="#b3b3b3"/><stop offset="0.6653" stop-color="#b0b0b0"/><stop offset="0.6871" stop-color="#858585"/><stop offset="0.6939" stop-color="#7f7f7f"/><stop offset="0.7007" stop-color="#6b6b6b"/><stop offset="0.7265" stop-color="#515151"/><stop offset="0.7388" stop-color="#424242"/><stop offset="0.7483" stop-color="#272727"/><stop offset="0.7551" stop-color="#1a1a1a"/><stop offset="0.7592" stop-color="#181818"/><stop offset="1.0000" stop-color="#181818"/></linearGradient>
<linearGradient id="c89" x1="0" y1="0" x2="0" y2="1"><stop offset="0.0000" stop-color="#181818"/><stop offset="0.2313" stop-color="#181818"/><stop offset="0.2395" stop-color="#232323"/><stop offset="0.2503" stop-color="#3f3f3f"/><stop offset="0.2735" stop-color="#5a5a5a"/><stop offset="0.2844" stop-color="#646464"/><stop offset="0.2857" stop-color="#676767"/><stop offset="0.2912" stop-color="#808080"/><stop offset="0.2939" stop-color="#878787"/><stop offset="0.3034" stop-color="#b3b3b3"/><stop offset="0.3048" stop-color="#b5b5b5"/><stop offset="0.3293" stop-color="#868686"/><stop offset="0.3361" stop-color="#7f7f7f"/><stop offset="0.3415" stop-color="#6c6c6c"/><stop offset="0.3769" stop-color="#424242"/><stop offset="0.3796" stop-color="#3c3c3c"/><stop offset="0.3878" stop-color="#252525"/><stop offset="0.3946" stop-color="#1a1a1a"/><stop offset="0.4014" stop-color="#181818"/><stop offset="0.4490" stop-color="#181818"/><stop offset="0.4571" stop-color="#242424"/><stop offset="0.4680" stop-color="#404040"/><stop offset="0.5007" stop-color="#656565"/><stop offset="0.5048" stop-color="#7c7c7c"/><stop offset="0.5088" stop-color="#8a8a8a"/><stop offset="0.5156" stop-color="#b0b0b0"/><stop offset="0.5170" stop-color="#b4b4b4"/><stop offset="0.5388" stop-color="#858585"/><stop offset="0.5442" stop-color="#808080"/><stop offset="0.5510" stop-color="#6b6b6b"/><stop offset="0.5755" stop-color="#535353"/><stop offset="0.5905" stop-color="#414141"/><stop offset="0.5973" stop-color="#2f2f2f"/><stop offset="0.6014" stop-color="#2c2c2c"/><stop offset="0.6054" stop-color="#313131"/><stop offset="0.6109" stop-color="#3f3f3f"/><stop offset="0.6340" stop-color="#5a5a5a"/><stop offset="0.6449" stop-color="#646464"/><stop offset="0.6490" stop-color="#777777"/><stop offset="0.6503" stop-color="#7e7e7e"/><stop offset="0.6531" stop-color="#868686"/><stop offset="0.6612" stop-color="#b2b2b2"/><stop offset="0.6626" stop-color="#b3b3b3"/><stop offset="0.6857" stop-color="#858585"/><stop offset="0.6925" stop-color="#7f7f7f"/><stop offset="0.6993" stop-color="#6b6b6b"/><stop offset="0.7265" stop-color="#4f4f4f"/><stop offset="0.7374" stop-color="#414141"/><stop offset="0.7469" stop-color="#262626"/><stop offset="0.7537" stop-color="#1a1a1a"/><stop offset="0.7592" stop-color="#181818"/><stop offset="1.0000" stop-color="#181818"/></linearGradient>
<linearGradient id="c90" x1="0" y1="0" x2="0" y2="1"><stop offset="0.0000" stop-color="#181818"/><stop offset="0.2327" stop-color="#191919"/><stop offset="0.2408" stop-color="#262626"/><stop offset="0.2503" stop-color="#3f3f3f"/><stop offset="0.2735" stop-color="#5a5a5a"/><stop offset="0.2844" stop-color="#656565"/><stop offset="0.2898" stop-color="#7f7f7f"/><stop offset="0.2925" stop-color="#868686"/><stop offset="0.3020" stop-color="#b6b6b6"/><stop offset="0.3279" stop-color="#868686"/><stop offset="0.3347" stop-color="#808080"/><stop offset="0.3401" stop-color="#6c6c6c"/><stop offset="0.3755" stop-color="#424242"/><stop offset="0.3864" stop-color="#242424"/><stop offset="0.3932" stop-color="#191919"/><stop offset="0.4109" stop-color="#181818"/><stop offset="0.4490" stop-color="#191919"/><stop offset="0.4571" stop-color="#262626"/><stop offset="0.4667" stop-color="#3f3f3f"/><stop offset="0.4993" stop-color="#656565"/><stop offset="0.5048" stop-color="#808080"/><stop offset="0.5075" stop-color="#898989"/><stop offset="0.5156" stop-color="#b5b5b5"/><stop offset="0.5374" stop-color="#858585"/><stop offset="0.5442" stop-color="#7d7d7d"/><stop offset="0.5497" stop-color="#6d6d6d"/><stop offset="0.5673" stop-color="#5b5b5b"/><stop offset="0.5891" stop-color="#424242"/><stop offset="0.5959" stop-color="#303030"/><stop offset="0.6000" stop-color="#2c2c2c"/><stop offset="0.6041" stop-color="#303030"/><stop offset="0.6109" stop-color="#404040"/><stop offset="0.6340" stop-color="#5b5b5b"/><stop offset="0.6435" stop-color="#646464"/><stop offset="0.6449" stop-color="#696969"/><stop offset="0.6490" stop-color="#7e7e7e"/><stop offset="0.6517" stop-color="#858585"/><stop offset="0.6599" stop-color="#b1b1b1"/><stop offset="0.6612" stop-color="#b3b3b3"/><stop offset="0.6844" stop-color="#858585"/><stop offset="0.6912" stop-color="#7e7e7e"/><stop offset="0.6966" stop-color="#6d6d6d"/><stop offset="0.7129" stop-color="#5c5c5c"/><stop offset="0.7347" stop-color="#434343"/><stop offset="0.7456" stop-color="#252525"/><stop offset="0.7524" stop-color="#1a1a1a"/><stop offset="0.7592" stop-color="#181818"/><stop offset="1.0000" stop-color="#181818"/></linearGradient>
<linearGradient id="c91" x1="0" y1="0" x2="0" y2="1"><stop offset="0.0000" stop-color="#181818"/><stop offset="0.2340" stop-color="#181818"/><stop offset="0.2422" stop-color="#242424"/><stop offset="0.2531" stop-color="#404040"/><stop offset="0.2776" stop-color="#5c5c5c"/><stop offset="0.2857" stop-color="#646464"/><stop offset="0.2871" stop-color="#696969"/><stop offset="0.2912" stop-color="#7f7f7f"/><stop offset="0.2939" stop-color="#868686"/><stop offset="0.3048" stop-color="#b8b8b8"/><stop offset="0.3306" stop-color="#878787"/><stop offset="0.3374" stop-color="#808080"/><stop offset="0.3429" stop-color="#6d6d6d"/><stop offset="0.3578" stop-color="#5b5b5b"/><stop offset="0.3796" stop-color="#3f3f3f"/><stop offset="0.3891" stop-color="#242424"/><stop offset="0.3959" stop-color="#191919"/><stop offset="0.4122" stop-color="#181818"/><stop offset="0.4490" stop-color="#181818"/><stop offset="0.4571" stop-color="#232323"/><stop offset="0.4680" stop-color="#3f3f3f"/><stop offset="0.5007" stop-color="#656565"/><stop offset="0.5048" stop-color="#7c7c7c"/><stop offset="0.5088" stop-color="#8a8a8a"/><stop offset="0.5156" stop-color="#afafaf"/><stop offset="0.5170" stop-color="#b4b4b4"/><stop offset="0.5388" stop-color="#868686"/><stop offset="0.5456" stop-color="#7e7e7e"/><stop offset="0.5510" stop-color="#6d6d6d"/><stop offset="0.5687" stop-color="#5b5b5b"/><stop offset="0.5905" stop-color="#414141"/><stop offset="0.5973" stop-color="#2f2f2f"/><stop offset="0.6014" stop-color="#2a2a2a"/><stop offset="0.6054" stop-color="#2d2d2d"/><stop offset="0.6122" stop-color="#3f3f3f"/><stop offset="0.6367" stop-color="#5b5b5b"/><stop offset="0.6463" stop-color="#656565"/><stop offset="0.6517" stop-color="#818181"/><stop offset="0.6544" stop-color="#898989"/><stop offset="0.6626" stop-color="#b5b5b5"/><stop offset="0.6857" stop-color="#868686"/><stop offset="0.6925" stop-color="#7f7f7f"/><stop offset="0.6993" stop-color="#6b6b6b"/><stop offset="0.7265" stop-color="#4f4f4f"/><stop offset="0.7374" stop-color="#414141"/><stop offset="0.7469" stop-color="#262626"/><stop offset="0.7537" stop-color="#1a1a1a"/><stop offset="0.7605" stop-color="#181818"/><stop offset="1.0000" stop-color="#181818"/></linearGradient>
<linearGradient id="c92" x1="0" y1="0" x2="0" y2="1"><stop offset="0.0000" stop-color="#181818"/><stop offset="0.2367" stop-color="#191919"/><stop offset="0.2449" stop-color="#252525"/><stop offset="0.2544" stop-color="#3e3e3e"/><stop offset="0.2803" stop-color="#5c5c5c"/><stop offset="0.2884" stop-color="#676767"/><stop offset="0.2925" stop-color="#7d7d7d"/><stop offset="0.2966" stop-color="#898989"/><stop offset="0.3075" stop-color="#b9b9b9"/><stop offset="0.3347" stop-color="#868686"/><stop offset="0.3415" stop-color="#7f7f7f"/><stop offset="0.3469" stop-color="#6b6b6b"/><stop offset="0.3823" stop-color="#404040"/><stop offset="0.3932" stop-color="#232323"/><stop offset="0.4000" stop-color="#181818"/><stop offset="0.4503" stop-color="#181818"/><stop offset="0.4585" stop-color="#232323"/><stop offset="0.4694" stop-color="#3f3f3f"/><stop offset="0.5020" stop-color="#656565"/><stop offset="0.5061" stop-color="#7c7c7c"/><stop offset="0.5102" stop-color="#8a8a8a"/><stop offset="0.5184" stop-color="#b4b4b4"/><stop offset="0.5401" stop-color="#868686"/><stop offset="0.5469" stop-color="#7f7f7f"/><stop offset="0.5537" stop-color="#6b6b6b"/><stop offset="0.5782" stop-color="#525252"/><stop offset="0.5918" stop-color="#424242"/><stop offset="0.5986" stop-color="#2e2e2e"/><stop offset="0.6027" stop-color="#282828"/><stop offset="0.6068" stop-color="#2a2a2a"/><stop offset="0.6122" stop-color="#373737"/><stop offset="0.6150" stop-color="#3f3f3f"/><stop offset="0.6395" stop-color="#5b5b5b"/><stop offset="0.6476" stop-color="#646464"/><stop offset="0.6490" stop-color="#676767"/><stop offset="0.6531" stop-color="#7e7e7e"/><stop offset="0.6558" stop-color="#858585"/><stop offset="0.6639" stop-color="#b0b0b0"/><stop offset="0.6653" stop-color="#b4b4b4"/><stop offset="0.6884" stop-color="#858585"/><stop offset="0.6939" stop-color="#808080"/><stop offset="0.7007" stop-color="#6b6b6b"/><stop offset="0.7279" stop-color="#4f4f4f"/><stop offset="0.7388" stop-color="#424242"/><stop offset="0.7483" stop-color="#272727"/><stop offset="0.7551" stop-color="#1a1a1a"/><stop offset="0.7592" stop-color="#181818"/><stop offset="1.0000" stop-color="#181818"/></linearGradient>
<linearGradient id="c93" x1="0" y1="0" x2="0" y2="1"><stop offset="0.0000" stop-color="#181818"/><stop offset="0.2395" stop-color="#191919"/><stop offset="0.2476" stop-color="#262626"/><stop offset="0.2571" stop-color="#3f3f3f"/><stop offset="0.2898" stop-color="#656565"/><stop offset="0.2939" stop-color="#7c7c7c"/><stop offset="0.2966" stop-color="#848484"/><stop offset="0.2993" stop-color="#8d8d8d"/><stop offset="0.3102" stop-color="#bbbbbb"/><stop offset="0.3374" stop-color="#888888"/><stop offset="0.3442" stop-color="#808080"/><stop offset="0.3469" stop-color="#787878"/><stop offset="0.3497" stop-color="#6d6d6d"/><stop offset="0.3592" stop-color="#606060"/><stop offset="0.3850" stop-color="#414141"/><stop offset="0.3959" stop-color="#242424"/><stop offset="0.4027" stop-color="#191919"/><stop offset="0.4517" stop-color="#181818"/><stop offset="0.4599" stop-color="#232323"/><stop offset="0.4707" stop-color="#3f3f3f"/><stop offset="0.5034" stop-color="#656565"/><stop offset="0.5075" stop-color="#7d7d7d"/><stop offset="0.5116" stop-color="#8a8a8a"/><stop offset="0.5197" stop-color="#b4b4b4"/><stop offset="0.5415" stop-color="#868686"/><stop offset="0.5483" stop-color="#808080"/><stop offset="0.5551" stop-color="#6b6b6b"/><stop offset="0.5796" stop-color="#525252"/><stop offset="0.5932" stop-color="#424242"/><stop offset="0.6014" stop-color="#2b2b2b"/><stop offset="0.6054" stop-color="#252525"/><stop offset="0.6095" stop-color="#272727"/><stop offset="0.6150" stop-color="#343434"/><stop offset="0.6190" stop-color="#3f3f3f"/><stop offset="0.6517" stop-color="#656565"/><stop offset="0.6571" stop-color="#808080"/><stop offset="0.6599" stop-color="#888888"/><stop offset="0.6680" stop-color="#b3b3b3"/><stop offset="0.6707" stop-color="#b0b0b0"/><stop offset="0.6912" stop-color="#858585"/><stop offset="0.6980" stop-color="#7e7e7e"/><stop offset="0.7034" stop-color="#6c6c6c"/><stop offset="0.7333" stop-color="#4c4c4c"/><stop offset="0.7415" stop-color="#434343"/><stop offset="0.7510" stop-color="#272727"/><stop offset="0.7578" stop-color="#1b1b1b"/><stop offset="0.7619" stop-color="#181818"/><stop offset="1.0000" stop-color="#181818"/></linearGradient>
<linearGradient id="c94" x1="0" y1="0" x2="0" y2="1"><stop offset="0.0000" stop-color="#181818"/><stop offset="0.2408" stop-color="#181818"/><stop offset="0.2490" stop-color="#232323"/><stop offset="0.2599" stop-color="#3f3f3f"/><stop offset="0.2912" stop-color="#646464"/><stop offset="0.2925" stop-color="#686868"/><stop offset="0.2966" stop-color="#808080"/><stop offset="0.3007" stop-color="#8a8a8a"/><stop offset="0.3129" stop-color="#bbbbbb"/><stop offset="0.3197" stop-color="#b0b0b0"/><stop offset="0.3415" stop-color="#888888"/><stop offset="0.3483" stop-color="#808080"/><stop offset="0.3537" stop-color="#6c6c6c"/><stop offset="0.3891" stop-color="#404040"/><stop offset="0.3986" stop-color="#262626"/><stop offset="0.4054" stop-color="#1a1a1a"/><stop offset="0.4122" stop-color="#181818"/><stop offset="0.4544" stop-color="#181818"/><stop offset="0.4626" stop-color="#242424"/><stop offset="0.4735" stop-color="#404040"/><stop offset="0.5048" stop-color="#646464"/><stop offset="0.5061" stop-color="#696969"/><stop offset="0.5102" stop-color="#808080"/><stop offset="0.5129" stop-color="#878787"/><stop offset="0.5211" stop-color="#b1b1b1"/><stop offset="0.5224" stop-color="#b3b3b3"/><stop offset="0.5442" stop-color="#868686"/><stop offset="0.5510" stop-color="#7f7f7f"/><stop offset="0.5578" stop-color="#6b6b6b"/><stop offset="0.5823" stop-color="#515151"/><stop offset="0.5959" stop-color="#404040"/><stop offset="0.6041" stop-color="#292929"/><stop offset="0.6082" stop-color="#232323"/><stop offset="0.6122" stop-color="#242424"/><stop offset="0.6177" stop-color="#303030"/><stop offset="0.6231" stop-color="#3f3f3f"/><stop offset="0.6558" stop-color="#656565"/><stop offset="0.6599" stop-color="#7d7d7d"/><stop offset="0.6626" stop-color="#858585"/><stop offset="0.6721" stop-color="#b4b4b4"/><stop offset="0.6939" stop-color="#868686"/><stop offset="0.7007" stop-color="#808080"/><stop offset="0.7075" stop-color="#6b6b6b"/><stop offset="0.7347" stop-color="#4e4e4e"/><stop offset="0.7442" stop-color="#434343"/><stop offset="0.7551" stop-color="#252525"/><stop offset="0.7619" stop-color="#1a1a1a"/><stop offset="0.7701" stop-color="#181818"/><stop offset="1.0000" stop-color="#181818"/></linearGradient>
<linearGradient id="c95" x1="0" y1="0" x2="0" y2="1"><stop offset="0.0000" stop-color="#181818"/><stop offset="0.2435" stop-color="#191919"/><stop offset="0.2517" stop-color="#252525"/><stop offset="0.2612" stop-color="#3e3e3e"/><stop offset="0.2925" stop-color="#646464"/><stop offset="0.2939" stop-color="#696969"/><stop offset="0.2966" stop-color="#7a7a7a"/><stop offset="0.2980" stop-color="#818181"/><stop offset="0.3034" stop-color="#909090"/><stop offset="0.3156" stop-color="#bebebe"/><stop offset="0.3442" stop-color="#888888"/><stop offset="0.3510" stop-color="#808080"/><stop offset="0.3565" stop-color="#6c6c6c"/><stop offset="0.3918" stop-color="#404040"/><stop offset="0.4027" stop-color="#232323"/><stop offset="0.4095" stop-color="#181818"/><stop offset="0.4571" stop-color="#181818"/><stop offset="0.4653" stop-color="#242424"/><stop offset="0.4762" stop-color="#404040"/><stop offset="0.5075" stop-color="#646464"/><stop offset="0.5088" stop-color="#696969"/><stop offset="0.5129" stop-color="#808080"/><stop offset="0.5156" stop-color="#878787"/><stop offset="0.5238" stop-color="#b1b1b1"/><stop offset="0.5252" stop-color="#b3b3b3"/><stop offset="0.5469" stop-color="#868686"/><stop offset="0.5537" stop-color="#808080"/><stop offset="0.5605" stop-color="#6b6b6b"/><stop offset="0.5850" stop-color="#525252"/><stop offset="0.5986" stop-color="#404040"/><stop offset="0.6082" stop-color="#262626"/><stop offset="0.6122" stop-color="#222222"/><stop offset="0.6163" stop-color="#252525"/><stop offset="0.6272" stop-color="#404040"/><stop offset="0.6585" stop-color="#656565"/><stop offset="0.6626" stop-color="#7c7c7c"/><stop offset="0.6667" stop-color="#898989"/><stop offset="0.6748" stop-color="#b3b3b3"/><stop offset="0.6776" stop-color="#b0b0b0"/><stop offset="0.6980" stop-color="#858585"/><stop offset="0.7034" stop-color="#808080"/><stop offset="0.7102" stop-color="#6b6b6b"/><stop offset="0.7374" stop-color="#4e4e4e"/><stop offset="0.7469" stop-color="#434343"/><stop offset="0.7578" stop-color="#252525"/><stop offset="0.7646" stop-color="#191919"/><stop offset="0.7741" stop-color="#181818"/><stop offset="1.0000" stop-color="#181818"/></linearGradient>
<linearGradient id="c96" x1="0" y1="0" x2="0" y2="1"><stop offset="0.0000" stop-color="#181818"/><stop offset="0.2435" stop-color="#181818"/><stop offset="0.2517" stop-color="#242424"/><stop offset="0.2626" stop-color="#3f3f3f"/><stop offset="0.2925" stop-color="#646464"/><stop offset="0.2939" stop-color="#686868"/><stop offset="0.2980" stop-color="#808080"/><stop offset="0.3034" stop-color="#8f8f8f"/><stop offset="0.3156" stop-color="#bcbcbc"/><stop offset="0.3170" stop-color="#bebebe"/><stop offset="0.3456" stop-color="#898989"/><stop offset="0.3537" stop-color="#7e7e7e"/><stop offset="0.3578" stop-color="#6d6d6d"/><stop offset="0.3673" stop-color="#606060"/><stop offset="0.3932" stop-color="#404040"/><stop offset="0.4041" stop-color="#232323"/><stop offset="0.4109" stop-color="#191919"/><stop offset="0.4599" stop-color="#191919"/><stop offset="0.4680" stop-color="#252525"/><stop offset="0.4776" stop-color="#3e3e3e"/><stop offset="0.5102" stop-color="#656565"/><stop offset="0.5143" stop-color="#7d7d7d"/><stop offset="0.5184" stop-color="#8a8a8a"/><stop offset="0.5265" stop-color="#b4b4b4"/><stop offset="0.5320" stop-color="#aaaaaa"/><stop offset="0.5497" stop-color="#868686"/><stop offset="0.5565" stop-color="#7f7f7f"/><stop offset="0.5619" stop-color="#6d6d6d"/><stop offset="0.5741" stop-color="#5f5f5f"/><stop offset="0.5891" stop-color="#4f4f4f"/><stop offset="0.6000" stop-color="#424242"/><stop offset="0.6109" stop-color="#252525"/><stop offset="0.6150" stop-color="#212121"/><stop offset="0.6190" stop-color="#242424"/><stop offset="0.6299" stop-color="#404040"/><stop offset="0.6612" stop-color="#656565"/><stop offset="0.6653" stop-color="#7d7d7d"/><stop offset="0.6694" stop-color="#8a8a8a"/><stop offset="0.6776" stop-color="#b4b4b4"/><stop offset="0.6857" stop-color="#a3a3a3"/><stop offset="0.6993" stop-color="#868686"/><stop offset="0.7061" stop-color="#7e7e7e"/><stop offset="0.7116" stop-color="#6c6c6c"/><stop offset="0.7442" stop-color="#494949"/><stop offset="0.7497" stop-color="#424242"/><stop offset="0.7592" stop-color="#272727"/><stop offset="0.7660" stop-color="#1a1a1a"/><stop offset="0.7701" stop-color="#181818"/><stop offset="1.0000" stop-color="#181818"/></linearGradient>
<linearGradient id="c97" x1="0" y1="0" x2="0" y2="1"><stop offset="0.0000" stop-color="#181818"/><stop offset="0.2449" stop-color="#181818"/><stop offset="0.2531" stop-color="#242424"/><stop offset="0.2639" stop-color="#404040"/><stop offset="0.2939" stop-color="#646464"/><stop offset="0.2952" stop-color="#676767"/><stop offset="0.2993" stop-color="#808080"/><stop offset="0.3034" stop-color="#8a8a8a"/><stop offset="0.3170" stop-color="#bfbfbf"/><stop offset="0.3469" stop-color="#888888"/><stop offset="0.3537" stop-color="#808080"/><stop offset="0.3592" stop-color="#6b6b6b"/><stop offset="0.3946" stop-color="#3f3f3f"/><stop offset="0.4041" stop-color="#252525"/><stop offset="0.4109" stop-color="#191919"/><stop offset="0.4204" stop-color="#181818"/><stop offset="0.4612" stop-color="#181818"/><stop offset="0.4694" stop-color="#242424"/><stop offset="0.4803" stop-color="#404040"/><stop offset="0.5116" stop-color="#646464"/><stop offset="0.5129" stop-color="#6a6a6a"/><stop offset="0.5170" stop-color="#808080"/><stop offset="0.5197" stop-color="#878787"/><stop offset="0.5279" stop-color="#b0b0b0"/><stop offset="0.5293" stop-color="#b4b4b4"/><stop offset="0.5524" stop-color="#858585"/><stop offset="0.5592" stop-color="#7e7e7e"/><stop offset="0.5646" stop-color="#6c6c6c"/><stop offset="0.5905" stop-color="#505050"/><stop offset="0.6027" stop-color="#414141"/><stop offset="0.6122" stop-color="#262626"/><stop offset="0.6163" stop-color="#202020"/><stop offset="0.6204" stop-color="#212121"/><stop offset="0.6286" stop-color="#343434"/><stop offset="0.6327" stop-color="#3f3f3f"/><stop offset="0.6639" stop-color="#656565"/><stop offset="0.6680" stop-color="#7e7e7e"/><stop offset="0.6707" stop-color="#858585"/><stop offset="0.6803" stop-color="#b4b4b4"/><stop offset="0.7020" stop-color="#858585"/><stop offset="0.7075" stop-color="#808080"/><stop offset="0.7143" stop-color="#6b6b6b"/><stop offset="0.7429" stop-color="#4d4d4d"/><stop offset="0.7510" stop-color="#434343"/><stop offset="0.7619" stop-color="#252525"/><stop offset="0.7687" stop-color="#1a1a1a"/><stop offset="0.7769" stop-color="#181818"/><stop offset="1.0000" stop-color="#181818"/></linearGradient>
<linearGradient id="c98" x1="0" y1="0" x2="0" y2="1"><stop offset="0.0000" stop-color="#181818"/><stop offset="0.2435" stop-color="#191919"/><stop offset="0.2517" stop-color="#252525"/><stop offset="0.2612" stop-color="#3f3f3f"/><stop offset="0.2925" stop-color="#646464"/><stop offset="0.2939" stop-color="#686868"/><stop offset="0.2980" stop-color="#808080"/><stop offset="0.3034" stop-color="#919191"/><stop offset="0.3143" stop-color="#bebebe"/><stop offset="0.3156" stop-color="#bebebe"/><stop offset="0.3442" stop-color="#898989"/><stop offset="0.3510" stop-color="#808080"/><stop offset="0.3565" stop-color="#6c6c6c"/><stop offset="0.3918" stop-color="#404040"/><stop offset="0.4027" stop-color="#232323"/><stop offset="0.4095" stop-color="#191919"/><stop offset="0.4626" stop-color="#191919"/><stop offset="0.4707" stop-color="#252525"/><stop offset="0.4803" stop-color="#3f3f3f"/><stop offset="0.5116" stop-color="#646464"/><stop offset="0.5129" stop-color="#676767"/><stop offset="0.5170" stop-color="#7f7f7f"/><stop offset="0.5197" stop-color="#868686"/><stop offset="0.5293" stop-color="#b5b5b5"/><stop offset="0.5524" stop-color="#868686"/><stop offset="0.5592" stop-color="#7f7f7f"/><stop offset="0.5646" stop-color="#6d6d6d"/><stop offset="0.5755" stop-color="#606060"/><stop offset="0.5905" stop-color="#515151"/><stop offset="0.6027" stop-color="#424242"/><stop offset="0.6122" stop-color="#272727"/><stop offset="0.6163" stop-color="#1f1f1f"/><stop offset="0.6204" stop-color="#1e1e1e"/><stop offset="0.6259" stop-color="#272727"/><stop offset="0.6354" stop-color="#404040"/><stop offset="0.6653" stop-color="#646464"/><stop offset="0.6667" stop-color="#696969"/><stop offset="0.6694" stop-color="#7b7b7b"/><stop offset="0.6707" stop-color="#818181"/><stop offset="0.6735" stop-color="#888888"/><stop offset="0.6816" stop-color="#b1b1b1"/><stop offset="0.6830" stop-color="#b3b3b3"/><stop offset="0.7034" stop-color="#868686"/><stop offset="0.7102" stop-color="#7e7e7e"/><stop offset="0.7156" stop-color="#6c6c6c"/><stop offset="0.7469" stop-color="#4a4a4a"/><stop offset="0.7537" stop-color="#414141"/><stop offset="0.7633" stop-color="#262626"/><stop offset="0.7701" stop-color="#1a1a1a"/><stop offset="0.7755" stop-color="#181818"/><stop offset="1.0000" stop-color="#181818"/></linearGradient>
<linearGradient id="c99" x1="0" y1="0" x2="0" y2="1"><stop offset="0.0000" stop-color="#181818"/><stop offset="0.2408" stop-color="#181818"/><stop offset="0.2490" stop-color="#242424"/><stop offset="0.2599" stop-color="#3f3f3f"/><stop offset="0.2912" stop-color="#646464"/><stop offset="0.2925" stop-color="#696969"/><stop offset="0.2966" stop-color="#808080"/><stop offset="0.3007" stop-color="#8d8d8d"/><stop offset="0.3116" stop-color="#bdbdbd"/><stop offset="0.3129" stop-color="#bfbfbf"/><stop offset="0.3415" stop-color="#898989"/><stop offset="0.3497" stop-color="#7e7e7e"/><stop offset="0.3537" stop-color="#6e6e6e"/><stop offset="0.3578" stop-color="#676767"/><stop offset="0.3891" stop-color="#424242"/><stop offset="0.4000" stop-color="#242424"/><stop offset="0.4068" stop-color="#191919"/><stop offset="0.4231" stop-color="#181818"/><stop offset="0.4612" stop-color="#181818"/><stop offset="0.4694" stop-color="#242424"/><stop offset="0.4803" stop-color="#404040"/><stop offset="0.5116" stop-color="#656565"/><stop offset="0.5156" stop-color="#7d7d7d"/><stop offset="0.5184" stop-color="#858585"/><stop offset="0.5279" stop-color="#b4b4b4"/><stop offset="0.5510" stop-color="#868686"/><stop offset="0.5578" stop-color="#808080"/><stop offset="0.5646" stop-color="#6b6b6b"/><stop offset="0.5891" stop-color="#515151"/><stop offset="0.6014" stop-color="#424242"/><stop offset="0.6122" stop-color="#242424"/><stop offset="0.6163" stop-color="#1e1e1e"/><stop offset="0.6204" stop-color="#1f1f1f"/><stop offset="0.6286" stop-color="#313131"/><stop offset="0.6340" stop-color="#3f3f3f"/><stop offset="0.6639" stop-color="#646464"/><stop offset="0.6653" stop-color="#686868"/><stop offset="0.6694" stop-color="#808080"/><stop offset="0.6721" stop-color="#878787"/><stop offset="0.6803" stop-color="#b1b1b1"/><stop offset="0.6816" stop-color="#b3b3b3"/><stop offset="0.7020" stop-color="#868686"/><stop offset="0.7088" stop-color="#7e7e7e"/><stop offset="0.7143" stop-color="#6c6c6c"/><stop offset="0.7469" stop-color="#494949"/><stop offset="0.7524" stop-color="#424242"/><stop offset="0.7619" stop-color="#262626"/><stop offset="0.7687" stop-color="#1a1a1a"/><stop offset="0.7728" stop-color="#181818"/><stop offset="1.0000" stop-color="#181818"/></linearGradient>
<linearGradient id="c100" x1="0" y1="0" x2="0" y2="1"><stop offset="0.0000" stop-color="#181818"/><stop offset="0.2395" stop-color="#191919"/><stop offset="0.2476" stop-color="#252525"/><stop offset="0.2571" stop-color="#3e3e3e"/><stop offset="0.2898" stop-color="#646464"/><stop offset="0.2925" stop-color="#727272"/><stop offset="0.2952" stop-color="#818181"/><stop offset="0.2993" stop-color="#8f8f8f"/><stop offset="0.3088" stop-color="#bcbcbc"/><stop offset="0.3102" stop-color="#c0c0c0"/><stop offset="0.3388" stop-color="#8a8a8a"/><stop offset="0.3469" stop-color="#7f7f7f"/><stop offset="0.3524" stop-color="#6b6b6b"/><stop offset="0.3878" stop-color="#404040"/><stop offset="0.3973" stop-color="#252525"/><stop offset="0.4041" stop-color="#1a1a1a"/><stop offset="0.4109" stop-color="#181818"/><stop offset="0.4599" stop-color="#181818"/><stop offset="0.4680" stop-color="#232323"/><stop offset="0.4789" stop-color="#3f3f3f"/><stop offset="0.5102" stop-color="#646464"/><stop offset="0.5129" stop-color="#737373"/><stop offset="0.5143" stop-color="#7c7c7c"/><stop offset="0.5184" stop-color="#898989"/><stop offset="0.5265" stop-color="#b3b3b3"/><stop offset="0.5320" stop-color="#aaaaaa"/><stop offset="0.5497" stop-color="#868686"/><stop offset="0.5565" stop-color="#808080"/><stop offset="0.5633" stop-color="#6b6b6b"/><stop offset="0.5878" stop-color="#515151"/><stop offset="0.6000" stop-color="#424242"/><stop offset="0.6109" stop-color="#242424"/><stop offset="0.6150" stop-color="#1e1e1e"/><stop offset="0.6190" stop-color="#1f1f1f"/><stop offset="0.6272" stop-color="#303030"/><stop offset="0.6327" stop-color="#3f3f3f"/><stop offset="0.6626" stop-color="#636363"/><stop offset="0.6639" stop-color="#666666"/><stop offset="0.6680" stop-color="#808080"/><stop offset="0.6707" stop-color="#878787"/><stop offset="0.6789" stop-color="#b1b1b1"/><stop offset="0.6803" stop-color="#b3b3b3"/><stop offset="0.7007" stop-color="#868686"/><stop offset="0.7075" stop-color="#7f7f7f"/><stop offset="0.7129" stop-color="#6d6d6d"/><stop offset="0.7279" stop-color="#5d5d5d"/><stop offset="0.7510" stop-color="#434343"/><stop offset="0.7619" stop-color="#242424"/><stop offset="0.7687" stop-color="#191919"/><stop offset="0.7891" stop-color="#181818"/><stop offset="1.0000" stop-color="#181818"/></linearGradient>
<linearGradient id="c101" x1="0" y1="0" x2="0" y2="1"><stop offset="0.0000" stop-color="#181818"/><stop offset="0.2367" stop-color="#181818"/><stop offset="0.2449" stop-color="#232323"/><stop offset="0.2558" stop-color="#3f3f3f"/><stop offset="0.2884" stop-color="#656565"/><stop offset="0.2939" stop-color="#828282"/><stop offset="0.2966" stop-color="#8b8b8b"/><stop offset="0.3075" stop-color="#c1c1c1"/><stop offset="0.3374" stop-color="#888888"/><stop offset="0.3442" stop-color="#7f7f7f"/><stop offset="0.3497" stop-color="#6b6b6b"/><stop offset="0.3850" stop-color="#414141"/><stop offset="0.3959" stop-color="#242424"/><stop offset="0.4027" stop-color="#191919"/><stop offset="0.4585" stop-color="#181818"/><stop offset="0.4667" stop-color="#242424"/><stop offset="0.4776" stop-color="#404040"/><stop offset="0.5088" stop-color="#656565"/><stop offset="0.5129" stop-color="#7f7f7f"/><stop offset="0.5156" stop-color="#868686"/><stop offset="0.5238" stop-color="#b0b0b0"/><stop offset="0.5252" stop-color="#b4b4b4"/><stop offset="0.5483" stop-color="#858585"/><stop offset="0.5551" stop-color="#7e7e7e"/><stop offset="0.5605" stop-color="#6c6c6c"/><stop offset="0.5878" stop-color="#4e4e4e"/><stop offset="0.5986" stop-color="#414141"/><stop offset="0.6082" stop-color="#262626"/><stop offset="0.6122" stop-color="#1e1e1e"/><stop offset="0.6163" stop-color="#1d1d1d"/><stop offset="0.6231" stop-color="#2a2a2a"/><stop offset="0.6313" stop-color="#404040"/><stop offset="0.6612" stop-color="#646464"/><stop offset="0.6626" stop-color="#686868"/><stop offset="0.6653" stop-color="#7a7a7a"/><stop offset="0.6667" stop-color="#818181"/><stop offset="0.6694" stop-color="#888888"/><stop offset="0.6776" stop-color="#b3b3b3"/><stop offset="0.6789" stop-color="#b3b3b3"/><stop offset="0.6993" stop-color="#868686"/><stop offset="0.7061" stop-color="#7e7e7e"/><stop offset="0.7116" stop-color="#6c6c6c"/><stop offset="0.7429" stop-color="#4b4b4b"/><stop offset="0.7497" stop-color="#434343"/><stop offset="0.7592" stop-color="#272727"/><stop offset="0.7660" stop-color="#1b1b1b"/><stop offset="0.7701" stop-color="#181818"/><stop offset="1.0000" stop-color="#181818"/></linearGradient>
<linearGradient id="c102" x1="0" y1="0" x2="0" y2="1"><stop offset="0.0000" stop-color="#181818"/><stop offset="0.2381" stop-color="#191919"/><stop offset="0.2463" stop-color="#262626"/><stop offset="0.2558" stop-color="#3f3f3f"/><stop offset="0.2816" stop-color="#5d5d5d"/><stop offset="0.2884" stop-color="#646464"/><stop offset="0.2898" stop-color="#696969"/><stop offset="0.2939" stop-color="#808080"/><stop offset="0.2980" stop-color="#8f8f8f"/><stop offset="0.3075" stop-color="#c1c1c1"/><stop offset="0.3374" stop-color="#888888"/><stop offset="0.3442" stop-color="#808080"/><stop offset="0.3497" stop-color="#6b6b6b"/><stop offset="0.3850" stop-color="#414141"/><stop offset="0.3959" stop-color="#242424"/><stop offset="0.4027" stop-color="#191919"/><stop offset="0.4571" stop-color="#191919"/><stop offset="0.4653" stop-color="#252525"/><stop offset="0.4748" stop-color="#3e3e3e"/><stop offset="0.5061" stop-color="#646464"/><stop offset="0.5075" stop-color="#696969"/><stop offset="0.5116" stop-color="#818181"/><stop offset="0.5143" stop-color="#898989"/><stop offset="0.5224" stop-color="#b4b4b4"/><stop offset="0.5456" stop-color="#868686"/><stop offset="0.5524" stop-color="#808080"/><stop offset="0.5592" stop-color="#6b6b6b"/><stop offset="0.5837" stop-color="#515151"/><stop offset="0.5959" stop-color="#424242"/><stop offset="0.6068" stop-color="#242424"/><stop offset="0.6109" stop-color="#1d1d1d"/><stop offset="0.6150" stop-color="#1d1d1d"/><stop offset="0.6231" stop-color="#2e2e2e"/><stop offset="0.6299" stop-color="#404040"/><stop offset="0.6599" stop-color="#646464"/><stop offset="0.6612" stop-color="#6a6a6a"/><stop offset="0.6639" stop-color="#7c7c7c"/><stop offset="0.6680" stop-color="#8a8a8a"/><stop offset="0.6762" stop-color="#b4b4b4"/><stop offset="0.6980" stop-color="#858585"/><stop offset="0.7034" stop-color="#808080"/><stop offset="0.7102" stop-color="#6b6b6b"/><stop offset="0.7374" stop-color="#4f4f4f"/><stop offset="0.7483" stop-color="#424242"/><stop offset="0.7578" stop-color="#272727"/><stop offset="0.7646" stop-color="#1a1a1a"/><stop offset="0.7687" stop-color="#181818"/><stop offset="1.0000" stop-color="#181818"/></linearGradient>
<linearGradient id="c103" x1="0" y1="0" x2="0" y2="1"><stop offset="0.0000" stop-color="#181818"/><stop offset="0.2381" stop-color="#191919"/><stop offset="0.2463" stop-color="#252525"/><stop offset="0.2558" stop-color="#3e3e3e"/><stop offset="0.2816" stop-color="#5c5c5c"/><stop offset="0.2884" stop-color="#646464"/><stop offset="0.2898" stop-color="#676767"/><stop offset="0.2939" stop-color="#7e7e7e"/><stop offset="0.2993" stop-color="#949494"/><stop offset="0.3075" stop-color="#bdbdbd"/><stop offset="0.3088" stop-color="#c0c0c0"/><stop offset="0.3374" stop-color="#898989"/><stop offset="0.3442" stop-color="#808080"/><stop offset="0.3497" stop-color="#6d6d6d"/><stop offset="0.3646" stop-color="#5a5a5a"/><stop offset="0.3850" stop-color="#414141"/><stop offset="0.3959" stop-color="#242424"/><stop offset="0.4027" stop-color="#191919"/><stop offset="0.4558" stop-color="#181818"/><stop offset="0.4639" stop-color="#242424"/><stop offset="0.4748" stop-color="#3f3f3f"/><stop offset="0.5061" stop-color="#656565"/><stop offset="0.5102" stop-color="#7f7f7f"/><stop offset="0.5129" stop-color="#868686"/><stop offset="0.5211" stop-color="#b2b2b2"/><stop offset="0.5224" stop-color="#b3b3b3"/><stop offset="0.5456" stop-color="#858585"/><stop offset="0.5510" stop-color="#808080"/><stop offset="0.5578" stop-color="#6b6b6b"/><stop offset="0.5837" stop-color="#505050"/><stop offset="0.5959" stop-color="#404040"/><stop offset="0.6054" stop-color="#252525"/><stop offset="0.6095" stop-color="#1e1e1e"/><stop offset="0.6136" stop-color="#1e1e1e"/><stop offset="0.6204" stop-color="#2c2c2c"/><stop offset="0.6272" stop-color="#3f3f3f"/><stop offset="0.6585" stop-color="#656565"/><stop offset="0.6626" stop-color="#7f7f7f"/><stop offset="0.6653" stop-color="#868686"/><stop offset="0.6735" stop-color="#b1b1b1"/><stop offset="0.6748" stop-color="#b3b3b3"/><stop offset="0.6966" stop-color="#858585"/><stop offset="0.7020" stop-color="#808080"/><stop offset="0.7088" stop-color="#6b6b6b"/><stop offset="0.7361" stop-color="#4f4f4f"/><stop offset="0.7469" stop-color="#414141"/><stop offset="0.7565" stop-color="#262626"/><stop offset="0.7633" stop-color="#1a1a1a"/><stop offset="0.7687" stop-color="#181818"/><stop offset="1.0000" stop-color="#181818"/></linearGradient>
<linearGradient id="c104" x1="0" y1="0" x2="0" y2="1"><stop offset="0.0000" stop-color="#181818"/><stop offset="0.2381" stop-color="#181818"/><stop offset="0.2463" stop-color="#252525"/><stop offset="0.2571" stop-color="#404040"/><stop offset="0.2871" stop-color="#626262"/><stop offset="0.2898" stop-color="#666666"/><stop offset="0.2939" stop-color="#7d7d7d"/><stop offset="0.2993" stop-color="#929292"/><stop offset="0.3088" stop-color="#c0c0c0"/><stop offset="0.3388" stop-color="#888888"/><stop offset="0.3456" stop-color="#7e7e7e"/><stop offset="0.3510" stop-color="#6b6b6b"/><stop offset="0.3850" stop-color="#424242"/><stop offset="0.3959" stop-color="#242424"/><stop offset="0.4027" stop-color="#191919"/><stop offset="0.4435" stop-color="#181818"/><stop offset="0.4558" stop-color="#191919"/><stop offset="0.4639" stop-color="#252525"/><stop offset="0.4748" stop-color="#404040"/><stop offset="0.5048" stop-color="#646464"/><stop offset="0.5061" stop-color="#6a6a6a"/><stop offset="0.5088" stop-color="#7b7b7b"/><stop offset="0.5102" stop-color="#818181"/><stop offset="0.5129" stop-color="#8a8a8a"/><stop offset="0.5197" stop-color="#afafaf"/><stop offset="0.5211" stop-color="#b4b4b4"/><stop offset="0.5442" stop-color="#858585"/><stop offset="0.5510" stop-color="#7e7e7e"/><stop offset="0.5565" stop-color="#6c6c6c"/><stop offset="0.5891" stop-color="#484848"/><stop offset="0.5946" stop-color="#414141"/><stop offset="0.6041" stop-color="#262626"/><stop offset="0.6082" stop-color="#1f1f1f"/><stop offset="0.6122" stop-color="#1e1e1e"/><stop offset="0.6190" stop-color="#2b2b2b"/><stop offset="0.6272" stop-color="#404040"/><stop offset="0.6571" stop-color="#646464"/><stop offset="0.6612" stop-color="#7d7d7d"/><stop offset="0.6639" stop-color="#858585"/><stop offset="0.6721" stop-color="#b1b1b1"/><stop offset="0.6735" stop-color="#b3b3b3"/><stop offset="0.6952" stop-color="#858585"/><stop offset="0.7007" stop-color="#808080"/><stop offset="0.7075" stop-color="#6b6b6b"/><stop offset="0.7347" stop-color="#4f4f4f"/><stop offset="0.7456" stop-color="#434343"/><stop offset="0.7551" stop-color="#272727"/><stop offset="0.7619" stop-color="#1b1b1b"/><stop offset="0.7660" stop-color="#181818"/><stop offset="1.0000" stop-color="#181818"/></linearGradient>
<linearGradient id="c105" x1="0" y1="0" x2="0" y2="1"><stop offset="0.0000" stop-color="#181818"/><stop offset="0.2381" stop-color="#181818"/><stop offset="0.2463" stop-color="#242424"/><stop offset="0.2571" stop-color="#3f3f3f"/><stop offset="0.2857" stop-color="#606060"/><stop offset="0.2898" stop-color="#656565"/><stop offset="0.2952" stop-color="#818181"/><stop offset="0.2993" stop-color="#8f8f8f"/><stop offset="0.3088" stop-color="#bdbdbd"/><stop offset="0.3102" stop-color="#bfbfbf"/><stop offset="0.3388" stop-color="#888888"/><stop offset="0.3456" stop-color="#808080"/><stop offset="0.3510" stop-color="#6b6b6b"/><stop offset="0.3864" stop-color="#3f3f3f"/><stop offset="0.3959" stop-color="#252525"/><stop offset="0.4027" stop-color="#191919"/><stop offset="0.4150" stop-color="#181818"/><stop offset="0.4544" stop-color="#181818"/><stop offset="0.4626" stop-color="#232323"/><stop offset="0.4735" stop-color="#3f3f3f"/><stop offset="0.5048" stop-color="#666666"/><stop offset="0.5088" stop-color="#808080"/><stop offset="0.5116" stop-color="#878787"/><stop offset="0.5197" stop-color="#b4b4b4"/><stop offset="0.5429" stop-color="#868686"/><stop offset="0.5497" stop-color="#808080"/><stop offset="0.5565" stop-color="#6b6b6b"/><stop offset="0.5810" stop-color="#515151"/><stop offset="0.5932" stop-color="#424242"/><stop offset="0.6041" stop-color="#242424"/><stop offset="0.6082" stop-color="#1e1e1e"/><stop offset="0.6122" stop-color="#1e1e1e"/><stop offset="0.6204" stop-color="#303030"/><stop offset="0.6259" stop-color="#3f3f3f"/><stop offset="0.6571" stop-color="#656565"/><stop offset="0.6612" stop-color="#808080"/><stop offset="0.6639" stop-color="#878787"/><stop offset="0.6721" stop-color="#b4b4b4"/><stop offset="0.6939" stop-color="#868686"/><stop offset="0.7007" stop-color="#7f7f7f"/><stop offset="0.7075" stop-color="#6b6b6b"/><stop offset="0.7333" stop-color="#515151"/><stop offset="0.7456" stop-color="#424242"/><stop offset="0.7551" stop-color="#262626"/><stop offset="0.7619" stop-color="#1a1a1a"/><stop offset="0.7660" stop-color="#181818"/><stop offset="1.0000" stop-color="#181818"/></linearGradient>
<linearGradient id="c106" x1="0" y1="0" x2="0" y2="1"><stop offset="0.0000" stop-color="#181818"/><stop offset="0.2395" stop-color="#191919"/><stop offset="0.2476" stop-color="#262626"/><stop offset="0.2571" stop-color="#3f3f3f"/><stop offset="0.2830" stop-color="#5d5d5d"/><stop offset="0.2898" stop-color="#646464"/><stop offset="0.2912" stop-color="#696969"/><stop offset="0.2952" stop-color="#808080"/><stop offset="0.2993" stop-color="#8d8d8d"/><stop offset="0.3102" stop-color="#bfbfbf"/><stop offset="0.3156" stop-color="#b6b6b6"/><stop offset="0.3388" stop-color="#898989"/><stop offset="0.3456" stop-color="#818181"/><stop offset="0.3483" stop-color="#787878"/><stop offset="0.3510" stop-color="#6d6d6d"/><stop offset="0.3646" stop-color="#5b5b5b"/><stop offset="0.3864" stop-color="#404040"/><stop offset="0.3959" stop-color="#252525"/><stop offset="0.4027" stop-color="#1a1a1a"/><stop offset="0.4109" stop-color="#181818"/><stop offset="0.4558" stop-color="#191919"/><stop offset="0.4639" stop-color="#252525"/><stop offset="0.4735" stop-color="#3e3e3e"/><stop offset="0.5048" stop-color="#646464"/><stop offset="0.5088" stop-color="#7d7d7d"/><stop offset="0.5116" stop-color="#858585"/><stop offset="0.5197" stop-color="#b3b3b3"/><stop offset="0.5211" stop-color="#b3b3b3"/><stop offset="0.5442" stop-color="#858585"/><stop offset="0.5497" stop-color="#808080"/><stop offset="0.5565" stop-color="#6b6b6b"/><stop offset="0.5810" stop-color="#515151"/><stop offset="0.5932" stop-color="#434343"/><stop offset="0.6041" stop-color="#252525"/><stop offset="0.6082" stop-color="#1e1e1e"/><stop offset="0.6122" stop-color="#1f1f1f"/><stop offset="0.6204" stop-color="#313131"/><stop offset="0.6259" stop-color="#404040"/><stop offset="0.6558" stop-color="#646464"/><stop offset="0.6571" stop-color="#686868"/><stop offset="0.6599" stop-color="#7a7a7a"/><stop offset="0.6612" stop-color="#818181"/><stop offset="0.6639" stop-color="#8a8a8a"/><stop offset="0.6707" stop-color="#b0b0b0"/><stop offset="0.6721" stop-color="#b4b4b4"/><stop offset="0.6939" stop-color="#858585"/><stop offset="0.7007" stop-color="#7e7e7e"/><stop offset="0.7061" stop-color="#6d6d6d"/><stop offset="0.7238" stop-color="#5b5b5b"/><stop offset="0.7456" stop-color="#414141"/><stop offset="0.7551" stop-color="#262626"/><stop offset="0.7619" stop-color="#1a1a1a"/><stop offset="0.7673" stop-color="#181818"/><stop offset="1.0000" stop-color="#181818"/></linearGradient>
<linearGradient id="c107" x1="0" y1="0" x2="0" y2="1"><stop offset="0.0000" stop-color="#181818"/><stop offset="0.2395" stop-color="#191919"/><stop offset="0.2476" stop-color="#252525"/><stop offset="0.2571" stop-color="#3f3f3f"/><stop offset="0.2830" stop-color="#5d5d5d"/><stop offset="0.2898" stop-color="#646464"/><stop offset="0.2912" stop-color="#686868"/><stop offset="0.2952" stop-color="#7f7f7f"/><stop offset="0.2993" stop-color="#8b8b8b"/><stop offset="0.3102" stop-color="#bcbcbc"/><stop offset="0.3116" stop-color="#bfbfbf"/><stop offset="0.3388" stop-color="#8a8a8a"/><stop offset="0.3469" stop-color="#7f7f7f"/><stop offset="0.3510" stop-color="#6e6e6e"/><stop offset="0.3551" stop-color="#676767"/><stop offset="0.3864" stop-color="#404040"/><stop offset="0.3959" stop-color="#252525"/><stop offset="0.4027" stop-color="#1a1a1a"/><stop offset="0.4109" stop-color="#181818"/><stop offset="0.4558" stop-color="#181818"/><stop offset="0.4639" stop-color="#232323"/><stop offset="0.4748" stop-color="#3f3f3f"/><stop offset="0.5048" stop-color="#646464"/><stop offset="0.5061" stop-color="#676767"/><stop offset="0.5102" stop-color="#808080"/><stop offset="0.5129" stop-color="#898989"/><stop offset="0.5197" stop-color="#afafaf"/><stop offset="0.5211" stop-color="#b4b4b4"/><stop offset="0.5442" stop-color="#858585"/><stop offset="0.5497" stop-color="#808080"/><stop offset="0.5565" stop-color="#6b6b6b"/><stop offset="0.5810" stop-color="#515151"/><stop offset="0.5932" stop-color="#424242"/><stop offset="0.6041" stop-color="#242424"/><stop offset="0.6082" stop-color="#1e1e1e"/><stop offset="0.6122" stop-color="#1e1e1e"/><stop offset="0.6204" stop-color="#303030"/><stop offset="0.6259" stop-color="#3f3f3f"/><stop offset="0.6558" stop-color="#636363"/><stop offset="0.6571" stop-color="#666666"/><stop offset="0.6612" stop-color="#808080"/><stop offset="0.6639" stop-color="#888888"/><stop offset="0.6707" stop-color="#aeaeae"/><stop offset="0.6721" stop-color="#b4b4b4"/><stop offset="0.6939" stop-color="#858585"/><stop offset="0.7007" stop-color="#7d7d7d"/><stop offset="0.7061" stop-color="#6c6c6c"/><stop offset="0.7361" stop-color="#4d4d4d"/><stop offset="0.7442" stop-color="#434343"/><stop offset="0.7551" stop-color="#252525"/><stop offset="0.7619" stop-color="#1a1a1a"/><stop offset="0.7701" stop-color="#181818"/><stop offset="1.0000" stop-color="#181818"/></linearGradient>
<linearGradient id="c108" x1="0" y1="0" x2="0" y2="1"><stop offset="0.0000" stop-color="#181818"/><stop offset="0.2395" stop-color="#191919"/><stop offset="0.2476" stop-color="#262626"/><stop offset="0.2571" stop-color="#3f3f3f"/><stop offset="0.2830" stop-color="#5d5d5d"/><stop offset="0.2898" stop-color="#646464"/><stop offset="0.2912" stop-color="#686868"/><stop offset="0.2952" stop-color="#7f7f7f"/><stop offset="0.2993" stop-color="#8b8b8b"/><stop offset="0.3102" stop-color="#bbbbbb"/><stop offset="0.3116" stop-color="#bfbfbf"/><stop offset="0.3401" stop-color="#888888"/><stop offset="0.3469" stop-color="#7f7f7f"/><stop offset="0.3510" stop-color="#6e6e6e"/><stop offset="0.3551" stop-color="#676767"/><stop offset="0.3864" stop-color="#3f3f3f"/><stop offset="0.3959" stop-color="#242424"/><stop offset="0.4027" stop-color="#191919"/><stop offset="0.4177" stop-color="#181818"/><stop offset="0.4571" stop-color="#181818"/><stop offset="0.4653" stop-color="#242424"/><stop offset="0.4762" stop-color="#404040"/><stop offset="0.5061" stop-color="#646464"/><stop offset="0.5088" stop-color="#757575"/><stop offset="0.5102" stop-color="#7e7e7e"/><stop offset="0.5129" stop-color="#858585"/><stop offset="0.5211" stop-color="#b3b3b3"/><stop offset="0.5238" stop-color="#afafaf"/><stop offset="0.5442" stop-color="#858585"/><stop offset="0.5497" stop-color="#808080"/><stop offset="0.5565" stop-color="#6b6b6b"/><stop offset="0.5823" stop-color="#4f4f4f"/><stop offset="0.5932" stop-color="#424242"/><stop offset="0.6027" stop-color="#272727"/><stop offset="0.6082" stop-color="#1d1d1d"/><stop offset="0.6122" stop-color="#1d1d1d"/><stop offset="0.6204" stop-color="#2e2e2e"/><stop offset="0.6272" stop-color="#404040"/><stop offset="0.6571" stop-color="#646464"/><stop offset="0.6599" stop-color="#747474"/><stop offset="0.6612" stop-color="#7d7d7d"/><stop offset="0.6639" stop-color="#858585"/><stop offset="0.6721" stop-color="#b2b2b2"/><stop offset="0.6735" stop-color="#b2b2b2"/><stop offset="0.6939" stop-color="#868686"/><stop offset="0.7007" stop-color="#7e7e7e"/><stop offset="0.7061" stop-color="#6d6d6d"/><stop offset="0.7238" stop-color="#5b5b5b"/><stop offset="0.7442" stop-color="#434343"/><stop offset="0.7551" stop-color="#252525"/><stop offset="0.7619" stop-color="#1a1a1a"/><stop offset="0.7701" stop-color="#181818"/><stop offset="1.0000" stop-color="#181818"/></linearGradient>
<linearGradient id="c109" x1="0" y1="0" x2="0" y2="1"><stop offset="0.0000" stop-color="#181818"/><stop offset="0.2395" stop-color="#191919"/><stop offset="0.2476" stop-color="#262626"/><stop offset="0.2571" stop-color="#3f3f3f"/><stop offset="0.2830" stop-color="#5d5d5d"/><stop offset="0.2898" stop-color="#646464"/><stop offset="0.2912" stop-color="#696969"/><stop offset="0.2952" stop-color="#808080"/><stop offset="0.2993" stop-color="#8b8b8b"/><stop offset="0.3116" stop-color="#bfbfbf"/><stop offset="0.3388" stop-color="#898989"/><stop offset="0.3469" stop-color="#7e7e7e"/><stop offset="0.3510" stop-color="#6c6c6c"/><stop offset="0.3646" stop-color="#5a5a5a"/><stop offset="0.3850" stop-color="#404040"/><stop offset="0.3959" stop-color="#232323"/><stop offset="0.4027" stop-color="#181818"/><stop offset="0.4585" stop-color="#181818"/><stop offset="0.4667" stop-color="#242424"/><stop offset="0.4776" stop-color="#404040"/><stop offset="0.5075" stop-color="#646464"/><stop offset="0.5088" stop-color="#6a6a6a"/><stop offset="0.5116" stop-color="#7d7d7d"/><stop offset="0.5143" stop-color="#858585"/><stop offset="0.5224" stop-color="#b2b2b2"/><stop offset="0.5238" stop-color="#b2b2b2"/><stop offset="0.5456" stop-color="#858585"/><stop offset="0.5510" stop-color="#808080"/><stop offset="0.5565" stop-color="#6d6d6d"/><stop offset="0.5714" stop-color="#5c5c5c"/><stop offset="0.5932" stop-color="#434343"/><stop offset="0.6041" stop-color="#252525"/><stop offset="0.6095" stop-color="#1c1c1c"/><stop offset="0.6136" stop-color="#1e1e1e"/><stop offset="0.6218" stop-color="#2f2f2f"/><stop offset="0.6272" stop-color="#3f3f3f"/><stop offset="0.6571" stop-color="#636363"/><stop offset="0.6585" stop-color="#666666"/><stop offset="0.6626" stop-color="#808080"/><stop offset="0.6653" stop-color="#888888"/><stop offset="0.6721" stop-color="#aeaeae"/><stop offset="0.6735" stop-color="#b3b3b3"/><stop offset="0.6939" stop-color="#868686"/><stop offset="0.7007" stop-color="#7f7f7f"/><stop offset="0.7075" stop-color="#6b6b6b"/><stop offset="0.7347" stop-color="#4f4f4f"/><stop offset="0.7442" stop-color="#434343"/><stop offset="0.7551" stop-color="#252525"/><stop offset="0.7619" stop-color="#1a1a1a"/><stop offset="0.7687" stop-color="#181818"/><stop offset="1.0000" stop-color="#181818"/></linearGradient>
<linearGradient id="c110" x1="0" y1="0" x2="0" y2="1"><stop offset="0.0000" stop-color="#181818"/><stop offset="0.2395" stop-color="#191919"/><stop offset="0.2476" stop-color="#262626"/><stop offset="0.2571" stop-color="#3f3f3f"/><stop offset="0.2830" stop-color="#5d5d5d"/><stop offset="0.2898" stop-color="#646464"/><stop offset="0.2912" stop-color="#696969"/><stop offset="0.2952" stop-color="#808080"/><stop offset="0.2993" stop-color="#8c8c8c"/><stop offset="0.3102" stop-color="#bdbdbd"/><stop offset="0.3374" stop-color="#878787"/><stop offset="0.3442" stop-color="#7e7e7e"/><stop offset="0.3483" stop-color="#6c6c6c"/><stop offset="0.3619" stop-color="#5a5a5a"/><stop offset="0.3823" stop-color="#3f3f3f"/><stop offset="0.3918" stop-color="#252525"/><stop offset="0.3986" stop-color="#191919"/><stop offset="0.4082" stop-color="#181818"/><stop offset="0.4612" stop-color="#181818"/><stop offset="0.4694" stop-color="#232323"/><stop offset="0.4803" stop-color="#3f3f3f"/><stop offset="0.5102" stop-color="#646464"/><stop offset="0.5116" stop-color="#696969"/><stop offset="0.5143" stop-color="#7c7c7c"/><stop offset="0.5170" stop-color="#858585"/><stop offset="0.5252" stop-color="#b1b1b1"/><stop offset="0.5265" stop-color="#b2b2b2"/><stop offset="0.5469" stop-color="#858585"/><stop offset="0.5537" stop-color="#7e7e7e"/><stop offset="0.5592" stop-color="#6b6b6b"/><stop offset="0.5918" stop-color="#474747"/><stop offset="0.5959" stop-color="#414141"/><stop offset="0.6054" stop-color="#262626"/><stop offset="0.6109" stop-color="#1d1d1d"/><stop offset="0.6150" stop-color="#1d1d1d"/><stop offset="0.6231" stop-color="#2e2e2e"/><stop offset="0.6299" stop-color="#404040"/><stop offset="0.6599" stop-color="#656565"/><stop offset="0.6639" stop-color="#808080"/><stop offset="0.6667" stop-color="#878787"/><stop offset="0.6748" stop-color="#b3b3b3"/><stop offset="0.6952" stop-color="#868686"/><stop offset="0.7020" stop-color="#7e7e7e"/><stop offset="0.7075" stop-color="#6c6c6c"/><stop offset="0.7374" stop-color="#4c4c4c"/><stop offset="0.7456" stop-color="#434343"/><stop offset="0.7565" stop-color="#242424"/><stop offset="0.7633" stop-color="#191919"/><stop offset="0.7782" stop-color="#181818"/><stop offset="1.0000" stop-color="#181818"/></linearGradient>
<linearGradient id="c111" x1="0" y1="0" x2="0" y2="1"><stop offset="0.0000" stop-color="#181818"/><stop offset="0.2381" stop-color="#181818"/><stop offset="0.2463" stop-color="#242424"/><stop offset="0.2571" stop-color="#404040"/><stop offset="0.2871" stop-color="#626262"/><stop offset="0.2898" stop-color="#656565"/><stop offset="0.2952" stop-color="#818181"/><stop offset="0.2980" stop-color="#898989"/><stop offset="0.3075" stop-color="#b7b7b7"/><stop offset="0.3088" stop-color="#bababa"/><stop offset="0.3347" stop-color="#878787"/><stop offset="0.3401" stop-color="#808080"/><stop offset="0.3415" stop-color="#7d7d7d"/><stop offset="0.3456" stop-color="#6b6b6b"/><stop offset="0.3741" stop-color="#464646"/><stop offset="0.3796" stop-color="#3d3d3d"/><stop offset="0.3891" stop-color="#232323"/><stop offset="0.3959" stop-color="#181818"/><stop offset="0.4626" stop-color="#191919"/><stop offset="0.4707" stop-color="#252525"/><stop offset="0.4803" stop-color="#3f3f3f"/><stop offset="0.5102" stop-color="#646464"/><stop offset="0.5116" stop-color="#686868"/><stop offset="0.5143" stop-color="#7b7b7b"/><stop offset="0.5156" stop-color="#818181"/><stop offset="0.5170" stop-color="#848484"/><stop offset="0.5224" stop-color="#a0a0a0"/><stop offset="0.5252" stop-color="#b0b0b0"/><stop offset="0.5265" stop-color="#b2b2b2"/><stop offset="0.5469" stop-color="#858585"/><stop offset="0.5524" stop-color="#808080"/><stop offset="0.5592" stop-color="#6b6b6b"/><stop offset="0.5946" stop-color="#434343"/><stop offset="0.6054" stop-color="#252525"/><stop offset="0.6122" stop-color="#1a1a1a"/><stop offset="0.6163" stop-color="#1d1d1d"/><stop offset="0.6245" stop-color="#2e2e2e"/><stop offset="0.6313" stop-color="#404040"/><stop offset="0.6612" stop-color="#656565"/><stop offset="0.6653" stop-color="#808080"/><stop offset="0.6680" stop-color="#878787"/><stop offset="0.6762" stop-color="#b3b3b3"/><stop offset="0.6966" stop-color="#858585"/><stop offset="0.7020" stop-color="#808080"/><stop offset="0.7088" stop-color="#6b6b6b"/><stop offset="0.7361" stop-color="#4f4f4f"/><stop offset="0.7469" stop-color="#424242"/><stop offset="0.7565" stop-color="#262626"/><stop offset="0.7633" stop-color="#1a1a1a"/><stop offset="0.7687" stop-color="#181818"/><stop offset="1.0000" stop-color="#181818"/></linearGradient>
<linearGradient id="c112" x1="0" y1="0" x2="0" y2="1"><stop offset="0.0000" stop-color="#181818"/><stop offset="0.2367" stop-color="#181818"/><stop offset="0.2449" stop-color="#242424"/><stop offset="0.2558" stop-color="#404040"/><stop offset="0.2857" stop-color="#626262"/><stop offset="0.2884" stop-color="#656565"/><stop offset="0.2925" stop-color="#7c7c7c"/><stop offset="0.2966" stop-color="#8b8b8b"/><stop offset="0.3048" stop-color="#b5b5b5"/><stop offset="0.3061" stop-color="#b8b8b8"/><stop offset="0.3306" stop-color="#868686"/><stop offset="0.3361" stop-color="#808080"/><stop offset="0.3374" stop-color="#7d7d7d"/><stop offset="0.3415" stop-color="#6b6b6b"/><stop offset="0.3633" stop-color="#4e4e4e"/><stop offset="0.3741" stop-color="#3f3f3f"/><stop offset="0.3837" stop-color="#242424"/><stop offset="0.3905" stop-color="#191919"/><stop offset="0.4054" stop-color="#181818"/><stop offset="0.4612" stop-color="#181818"/><stop offset="0.4694" stop-color="#242424"/><stop offset="0.4803" stop-color="#404040"/><stop offset="0.5102" stop-color="#656565"/><stop offset="0.5143" stop-color="#808080"/><stop offset="0.5170" stop-color="#878787"/><stop offset="0.5238" stop-color="#adadad"/><stop offset="0.5252" stop-color="#b3b3b3"/><stop offset="0.5456" stop-color="#858585"/><stop offset="0.5510" stop-color="#808080"/><stop offset="0.5578" stop-color="#6a6a6a"/><stop offset="0.5932" stop-color="#424242"/><stop offset="0.6041" stop-color="#242424"/><stop offset="0.6095" stop-color="#1b1b1b"/><stop offset="0.6122" stop-color="#1a1a1a"/><stop offset="0.6204" stop-color="#282828"/><stop offset="0.6299" stop-color="#404040"/><stop offset="0.6585" stop-color="#636363"/><stop offset="0.6599" stop-color="#676767"/><stop offset="0.6626" stop-color="#797979"/><stop offset="0.6639" stop-color="#818181"/><stop offset="0.6667" stop-color="#898989"/><stop offset="0.6735" stop-color="#aeaeae"/><stop offset="0.6748" stop-color="#b2b2b2"/><stop offset="0.6952" stop-color="#848484"/><stop offset="0.7007" stop-color="#7e7e7e"/><stop offset="0.7061" stop-color="#6d6d6d"/><stop offset="0.7238" stop-color="#5a5a5a"/><stop offset="0.7442" stop-color="#434343"/><stop offset="0.7537" stop-color="#272727"/><stop offset="0.7605" stop-color="#1b1b1b"/><stop offset="0.7646" stop-color="#181818"/><stop offset="1.0000" stop-color="#181818"/></linearGradient>
<linearGradient id="c113" x1="0" y1="0" x2="0" y2="1"><stop offset="0.0000" stop-color="#181818"/><stop offset="0.2354" stop-color="#191919"/><stop offset="0.2435" stop-color="#252525"/><stop offset="0.2544" stop-color="#404040"/><stop offset="0.2830" stop-color="#616161"/><stop offset="0.2871" stop-color="#676767"/><stop offset="0.2912" stop-color="#7d7d7d"/><stop offset="0.2939" stop-color="#868686"/><stop offset="0.3020" stop-color="#b4b4b4"/><stop offset="0.3034" stop-color="#b6b6b6"/><stop offset="0.3265" stop-color="#868686"/><stop offset="0.3320" stop-color="#808080"/><stop offset="0.3333" stop-color="#7d7d7d"/><stop offset="0.3374" stop-color="#6a6a6a"/><stop offset="0.3551" stop-color="#525252"/><stop offset="0.3687" stop-color="#404040"/><stop offset="0.3796" stop-color="#232323"/><stop offset="0.3864" stop-color="#191919"/><stop offset="0.4599" stop-color="#191919"/><stop offset="0.4680" stop-color="#262626"/><stop offset="0.4776" stop-color="#3f3f3f"/><stop offset="0.5075" stop-color="#646464"/><stop offset="0.5088" stop-color="#6a6a6a"/><stop offset="0.5116" stop-color="#7d7d7d"/><stop offset="0.5143" stop-color="#858585"/><stop offset="0.5224" stop-color="#b1b1b1"/><stop offset="0.5238" stop-color="#b1b1b1"/><stop offset="0.5429" stop-color="#858585"/><stop offset="0.5483" stop-color="#808080"/><stop offset="0.5537" stop-color="#6d6d6d"/><stop offset="0.5673" stop-color="#5d5d5d"/><stop offset="0.5905" stop-color="#414141"/><stop offset="0.6000" stop-color="#262626"/><stop offset="0.6068" stop-color="#1a1a1a"/><stop offset="0.6095" stop-color="#191919"/><stop offset="0.6177" stop-color="#252525"/><stop offset="0.6272" stop-color="#3f3f3f"/><stop offset="0.6571" stop-color="#646464"/><stop offset="0.6585" stop-color="#696969"/><stop offset="0.6612" stop-color="#7c7c7c"/><stop offset="0.6639" stop-color="#858585"/><stop offset="0.6721" stop-color="#b0b0b0"/><stop offset="0.6735" stop-color="#b1b1b1"/><stop offset="0.6925" stop-color="#858585"/><stop offset="0.6980" stop-color="#808080"/><stop offset="0.7048" stop-color="#6b6b6b"/><stop offset="0.7333" stop-color="#4d4d4d"/><stop offset="0.7415" stop-color="#434343"/><stop offset="0.7524" stop-color="#252525"/><stop offset="0.7592" stop-color="#191919"/><stop offset="0.7673" stop-color="#181818"/><stop offset="1.0000" stop-color="#181818"/></linearGradient>
<linearGradient id="c114" x1="0" y1="0" x2="0" y2="1"><stop offset="0.0000" stop-color="#181818"/><stop offset="0.2327" stop-color="#181818"/><stop offset="0.2408" stop-color="#242424"/><stop offset="0.2517" stop-color="#3f3f3f"/><stop offset="0.2844" stop-color="#666666"/><stop offset="0.2884" stop-color="#7d7d7d"/><stop offset="0.2912" stop-color="#868686"/><stop offset="0.2993" stop-color="#b4b4b4"/><stop offset="0.3007" stop-color="#b4b4b4"/><stop offset="0.3224" stop-color="#868686"/><stop offset="0.3279" stop-color="#808080"/><stop offset="0.3293" stop-color="#7c7c7c"/><stop offset="0.3320" stop-color="#6f6f6f"/><stop offset="0.3347" stop-color="#686868"/><stop offset="0.3578" stop-color="#494949"/><stop offset="0.3646" stop-color="#404040"/><stop offset="0.3755" stop-color="#232323"/><stop offset="0.3823" stop-color="#181818"/><stop offset="0.4571" stop-color="#181818"/><stop offset="0.4653" stop-color="#242424"/><stop offset="0.4762" stop-color="#404040"/><stop offset="0.5048" stop-color="#636363"/><stop offset="0.5061" stop-color="#666666"/><stop offset="0.5088" stop-color="#797979"/><stop offset="0.5102" stop-color="#818181"/><stop offset="0.5129" stop-color="#898989"/><stop offset="0.5197" stop-color="#aeaeae"/><stop offset="0.5211" stop-color="#b2b2b2"/><stop offset="0.5401" stop-color="#858585"/><stop offset="0.5456" stop-color="#808080"/><stop offset="0.5510" stop-color="#6d6d6d"/><stop offset="0.5660" stop-color="#5b5b5b"/><stop offset="0.5864" stop-color="#434343"/><stop offset="0.5986" stop-color="#222222"/><stop offset="0.6054" stop-color="#181818"/><stop offset="0.6095" stop-color="#1b1b1b"/><stop offset="0.6177" stop-color="#292929"/><stop offset="0.6259" stop-color="#3f3f3f"/><stop offset="0.6558" stop-color="#656565"/><stop offset="0.6599" stop-color="#808080"/><stop offset="0.6626" stop-color="#868686"/><stop offset="0.6707" stop-color="#b3b3b3"/><stop offset="0.6898" stop-color="#868686"/><stop offset="0.6952" stop-color="#808080"/><stop offset="0.7020" stop-color="#6b6b6b"/><stop offset="0.7306" stop-color="#4d4d4d"/><stop offset="0.7401" stop-color="#414141"/><stop offset="0.7497" stop-color="#262626"/><stop offset="0.7565" stop-color="#1a1a1a"/><stop offset="0.7619" stop-color="#181818"/><stop offset="1.0000" stop-color="#181818"/></linearGradient>
<linearGradient id="c115" x1="0" y1="0" x2="0" y2="1"><stop offset="0.0000" stop-color="#181818"/><stop offset="0.2313" stop-color="#181818"/><stop offset="0.2395" stop-color="#252525"/><stop offset="0.2503" stop-color="#404040"/><stop offset="0.2816" stop-color="#656565"/><stop offset="0.2871" stop-color="#818181"/><stop offset="0.2898" stop-color="#8b8b8b"/><stop offset="0.2966" stop-color="#b1b1b1"/><stop offset="0.2980" stop-color="#b4b4b4"/><stop offset="0.3184" stop-color="#868686"/><stop offset="0.3252" stop-color="#7e7e7e"/><stop offset="0.3293" stop-color="#6b6b6b"/><stop offset="0.3456" stop-color="#545454"/><stop offset="0.3605" stop-color="#414141"/><stop offset="0.3714" stop-color="#232323"/><stop offset="0.3782" stop-color="#191919"/><stop offset="0.4558" stop-color="#191919"/><stop offset="0.4639" stop-color="#262626"/><stop offset="0.4735" stop-color="#3f3f3f"/><stop offset="0.5034" stop-color="#646464"/><stop offset="0.5061" stop-color="#757575"/><stop offset="0.5075" stop-color="#7f7f7f"/><stop offset="0.5102" stop-color="#868686"/><stop offset="0.5184" stop-color="#b2b2b2"/><stop offset="0.5374" stop-color="#858585"/><stop offset="0.5429" stop-color="#808080"/><stop offset="0.5483" stop-color="#6c6c6c"/><stop offset="0.5837" stop-color="#434343"/><stop offset="0.5946" stop-color="#252525"/><stop offset="0.6014" stop-color="#191919"/><stop offset="0.6054" stop-color="#181818"/><stop offset="0.6136" stop-color="#242424"/><stop offset="0.6245" stop-color="#404040"/><stop offset="0.6531" stop-color="#636363"/><stop offset="0.6544" stop-color="#676767"/><stop offset="0.6571" stop-color="#7a7a7a"/><stop offset="0.6585" stop-color="#818181"/><stop offset="0.6599" stop-color="#848484"/><stop offset="0.6639" stop-color="#989898"/><stop offset="0.6680" stop-color="#afafaf"/><stop offset="0.6694" stop-color="#b1b1b1"/><stop offset="0.6884" stop-color="#848484"/><stop offset="0.6939" stop-color="#7e7e7e"/><stop offset="0.6993" stop-color="#6c6c6c"/><stop offset="0.7320" stop-color="#484848"/><stop offset="0.7374" stop-color="#414141"/><stop offset="0.7469" stop-color="#262626"/><stop offset="0.7537" stop-color="#1a1a1a"/><stop offset="0.7592" stop-color="#181818"/><stop offset="1.0000" stop-color="#181818"/></linearGradient>
<linearGradient id="c116" x1="0" y1="0" x2="0" y2="1"><stop offset="0.0000" stop-color="#181818"/><stop offset="0.2299" stop-color="#181818"/><stop offset="0.2381" stop-color="#242424"/><stop offset="0.2490" stop-color="#404040"/><stop offset="0.2803" stop-color="#656565"/><stop offset="0.2844" stop-color="#7d7d7d"/><stop offset="0.2871" stop-color="#858585"/><stop offset="0.2952" stop-color="#b2b2b2"/><stop offset="0.2966" stop-color="#b2b2b2"/><stop offset="0.3156" stop-color="#868686"/><stop offset="0.3224" stop-color="#7d7d7d"/><stop offset="0.3265" stop-color="#6b6b6b"/><stop offset="0.3442" stop-color="#525252"/><stop offset="0.3578" stop-color="#404040"/><stop offset="0.3687" stop-color="#232323"/><stop offset="0.3755" stop-color="#191919"/><stop offset="0.4544" stop-color="#191919"/><stop offset="0.4626" stop-color="#252525"/><stop offset="0.4721" stop-color="#3f3f3f"/><stop offset="0.5020" stop-color="#646464"/><stop offset="0.5061" stop-color="#808080"/><stop offset="0.5088" stop-color="#868686"/><stop offset="0.5170" stop-color="#b2b2b2"/><stop offset="0.5361" stop-color="#848484"/><stop offset="0.5415" stop-color="#7d7d7d"/><stop offset="0.5456" stop-color="#6e6e6e"/><stop offset="0.5510" stop-color="#656565"/><stop offset="0.5810" stop-color="#424242"/><stop offset="0.5918" stop-color="#242424"/><stop offset="0.5986" stop-color="#191919"/><stop offset="0.6041" stop-color="#191919"/><stop offset="0.6122" stop-color="#252525"/><stop offset="0.6231" stop-color="#404040"/><stop offset="0.6517" stop-color="#646464"/><stop offset="0.6531" stop-color="#6b6b6b"/><stop offset="0.6558" stop-color="#7f7f7f"/><stop offset="0.6585" stop-color="#858585"/><stop offset="0.6667" stop-color="#b1b1b1"/><stop offset="0.6857" stop-color="#848484"/><stop offset="0.6912" stop-color="#7e7e7e"/><stop offset="0.6966" stop-color="#6c6c6c"/><stop offset="0.7333" stop-color="#434343"/><stop offset="0.7429" stop-color="#272727"/><stop offset="0.7497" stop-color="#1b1b1b"/><stop offset="0.7537" stop-color="#181818"/><stop offset="1.0000" stop-color="#181818"/></linearGradient>
<linearGradient id="c117" x1="0" y1="0" x2="0" y2="1"><stop offset="0.0000" stop-color="#181818"/><stop offset="0.2313" stop-color="#181818"/><stop offset="0.2395" stop-color="#252525"/><stop offset="0.2503" stop-color="#404040"/><stop offset="0.2803" stop-color="#646464"/><stop offset="0.2816" stop-color="#696969"/><stop offset="0.2844" stop-color="#7a7a7a"/><stop offset="0.2857" stop-color="#818181"/><stop offset="0.2884" stop-color="#898989"/><stop offset="0.2952" stop-color="#afafaf"/><stop offset="0.2966" stop-color="#b2b2b2"/><stop offset="0.3156" stop-color="#858585"/><stop offset="0.3211" stop-color="#808080"/><stop offset="0.3252" stop-color="#6c6c6c"/><stop offset="0.3401" stop-color="#565656"/><stop offset="0.3565" stop-color="#424242"/><stop offset="0.3673" stop-color="#242424"/><stop offset="0.3741" stop-color="#191919"/><stop offset="0.4068" stop-color="#181818"/><stop offset="0.4531" stop-color="#181818"/><stop offset="0.4612" stop-color="#242424"/><stop offset="0.4721" stop-color="#404040"/><stop offset="0.5007" stop-color="#646464"/><stop offset="0.5020" stop-color="#6a6a6a"/><stop offset="0.5048" stop-color="#7e7e7e"/><stop offset="0.5075" stop-color="#858585"/><stop offset="0.5156" stop-color="#b1b1b1"/><stop offset="0.5333" stop-color="#868686"/><stop offset="0.5388" stop-color="#808080"/><stop offset="0.5442" stop-color="#6b6b6b"/><stop offset="0.5782" stop-color="#424242"/><stop offset="0.5891" stop-color="#242424"/><stop offset="0.5959" stop-color="#191919"/><stop offset="0.6027" stop-color="#181818"/><stop offset="0.6109" stop-color="#232323"/><stop offset="0.6218" stop-color="#3f3f3f"/><stop offset="0.6503" stop-color="#636363"/><stop offset="0.6517" stop-color="#666666"/><stop offset="0.6544" stop-color="#7a7a7a"/><stop offset="0.6558" stop-color="#818181"/><stop offset="0.6585" stop-color="#898989"/><stop offset="0.6653" stop-color="#aeaeae"/><stop offset="0.6667" stop-color="#b0b0b0"/><stop offset="0.6844" stop-color="#848484"/><stop offset="0.6898" stop-color="#7e7e7e"/><stop offset="0.6952" stop-color="#6b6b6b"/><stop offset="0.7306" stop-color="#434343"/><stop offset="0.7401" stop-color="#272727"/><stop offset="0.7469" stop-color="#1b1b1b"/><stop offset="0.7510" stop-color="#181818"/><stop offset="1.0000" stop-color="#181818"/></linearGradient>
<linearGradient id="c118" x1="0" y1="0" x2="0" y2="1"><stop offset="0.0000" stop-color="#181818"/><stop offset="0.2340" stop-color="#181818"/><stop offset="0.2422" stop-color="#252525"/><stop offset="0.2531" stop-color="#404040"/><stop offset="0.2830" stop-color="#646464"/><stop offset="0.2844" stop-color="#6a6a6a"/><stop offset="0.2871" stop-color="#7c7c7c"/><stop offset="0.2898" stop-color="#848484"/><stop offset="0.2980" stop-color="#b0b0b0"/><stop offset="0.2993" stop-color="#b0b0b0"/><stop offset="0.3170" stop-color="#858585"/><stop offset="0.3224" stop-color="#808080"/><stop offset="0.3265" stop-color="#6c6c6c"/><stop offset="0.3415" stop-color="#565656"/><stop offset="0.3578" stop-color="#424242"/><stop offset="0.3687" stop-color="#242424"/><stop offset="0.3755" stop-color="#191919"/><stop offset="0.4204" stop-color="#181818"/><stop offset="0.4517" stop-color="#181818"/><stop offset="0.4599" stop-color="#232323"/><stop offset="0.4707" stop-color="#3f3f3f"/><stop offset="0.4993" stop-color="#646464"/><stop offset="0.5007" stop-color="#686868"/><stop offset="0.5034" stop-color="#7d7d7d"/><stop offset="0.5061" stop-color="#848484"/><stop offset="0.5143" stop-color="#afafaf"/><stop offset="0.5156" stop-color="#afafaf"/><stop offset="0.5320" stop-color="#858585"/><stop offset="0.5374" stop-color="#7e7e7e"/><stop offset="0.5415" stop-color="#6d6d6d"/><stop offset="0.5524" stop-color="#5e5e5e"/><stop offset="0.5755" stop-color="#434343"/><stop offset="0.5864" stop-color="#242424"/><stop offset="0.5932" stop-color="#191919"/><stop offset="0.6027" stop-color="#181818"/><stop offset="0.6109" stop-color="#232323"/><stop offset="0.6204" stop-color="#3a3a3a"/><stop offset="0.6231" stop-color="#404040"/><stop offset="0.6503" stop-color="#636363"/><stop offset="0.6517" stop-color="#656565"/><stop offset="0.6544" stop-color="#797979"/><stop offset="0.6558" stop-color="#818181"/><stop offset="0.6585" stop-color="#898989"/><stop offset="0.6653" stop-color="#adadad"/><stop offset="0.6667" stop-color="#b0b0b0"/><stop offset="0.6830" stop-color="#868686"/><stop offset="0.6884" stop-color="#808080"/><stop offset="0.6939" stop-color="#6b6b6b"/><stop offset="0.7279" stop-color="#434343"/><stop offset="0.7401" stop-color="#222222"/><stop offset="0.7469" stop-color="#181818"/><stop offset="1.0000" stop-color="#181818"/></linearGradient>
<linearGradient id="c119" x1="0" y1="0" x2="0" y2="1"><stop offset="0.0000" stop-color="#181818"/><stop offset="0.2340" stop-color="#191919"/><stop offset="0.2422" stop-color="#252525"/><stop offset="0.2517" stop-color="#3e3e3e"/><stop offset="0.2830" stop-color="#656565"/><stop offset="0.2871" stop-color="#7e7e7e"/><stop offset="0.2898" stop-color="#858585"/><stop offset="0.2980" stop-color="#b1b1b1"/><stop offset="0.3034" stop-color="#a5a5a5"/><stop offset="0.3156" stop-color="#868686"/><stop offset="0.3211" stop-color="#808080"/><stop offset="0.3252" stop-color="#6c6c6c"/><stop offset="0.3374" stop-color="#595959"/><stop offset="0.3578" stop-color="#3f3f3f"/><stop offset="0.3673" stop-color="#242424"/><stop offset="0.3741" stop-color="#191919"/><stop offset="0.3905" stop-color="#181818"/><stop offset="0.4503" stop-color="#181818"/><stop offset="0.4585" stop-color="#242424"/><stop offset="0.4694" stop-color="#404040"/><stop offset="0.4966" stop-color="#636363"/><stop offset="0.4980" stop-color="#656565"/><stop offset="0.5020" stop-color="#808080"/><stop offset="0.5048" stop-color="#878787"/><stop offset="0.5116" stop-color="#acacac"/><stop offset="0.5129" stop-color="#b0b0b0"/><stop offset="0.5293" stop-color="#848484"/><stop offset="0.5333" stop-color="#808080"/><stop offset="0.5347" stop-color="#7d7d7d"/><stop offset="0.5388" stop-color="#6c6c6c"/><stop offset="0.5633" stop-color="#4c4c4c"/><stop offset="0.5714" stop-color="#434343"/><stop offset="0.5837" stop-color="#222222"/><stop offset="0.5905" stop-color="#181818"/><stop offset="0.6041" stop-color="#191919"/><stop offset="0.6122" stop-color="#252525"/><stop offset="0.6231" stop-color="#404040"/><stop offset="0.6503" stop-color="#636363"/><stop offset="0.6517" stop-color="#656565"/><stop offset="0.6544" stop-color="#797979"/><stop offset="0.6558" stop-color="#818181"/><stop offset="0.6585" stop-color="#888888"/><stop offset="0.6653" stop-color="#adadad"/><stop offset="0.6667" stop-color="#b0b0b0"/><stop offset="0.6830" stop-color="#848484"/><stop offset="0.6871" stop-color="#808080"/><stop offset="0.6898" stop-color="#777777"/><stop offset="0.6925" stop-color="#6c6c6c"/><stop offset="0.7170" stop-color="#4e4e4e"/><stop offset="0.7265" stop-color="#424242"/><stop offset="0.7361" stop-color="#272727"/><stop offset="0.7429" stop-color="#1a1a1a"/><stop offset="0.7469" stop-color="#181818"/><stop offset="1.0000" stop-color="#181818"/></linearGradient>
<linearGradient id="c120" x1="0" y1="0" x2="0" y2="1"><stop offset="0.0000" stop-color="#181818"/><stop offset="0.2313" stop-color="#191919"/><stop offset="0.2395" stop-color="#252525"/><stop offset="0.2490" stop-color="#3e3e3e"/><stop offset="0.2803" stop-color="#656565"/><stop offset="0.2844" stop-color="#7e7e7e"/><stop offset="0.2871" stop-color="#858585"/><stop offset="0.2952" stop-color="#b1b1b1"/><stop offset="0.2980" stop-color="#acacac"/><stop offset="0.3129" stop-color="#858585"/><stop offset="0.3170" stop-color="#808080"/><stop offset="0.3184" stop-color="#7c7c7c"/><stop offset="0.3211" stop-color="#6f6f6f"/><stop offset="0.3238" stop-color="#686868"/><stop offset="0.3469" stop-color="#494949"/><stop offset="0.3537" stop-color="#404040"/><stop offset="0.3633" stop-color="#252525"/><stop offset="0.3701" stop-color="#1a1a1a"/><stop offset="0.3769" stop-color="#181818"/><stop offset="0.4463" stop-color="#181818"/><stop offset="0.4544" stop-color="#252525"/><stop offset="0.4653" stop-color="#404040"/><stop offset="0.4912" stop-color="#616161"/><stop offset="0.4939" stop-color="#656565"/><stop offset="0.4966" stop-color="#7a7a7a"/><stop offset="0.4980" stop-color="#818181"/><stop offset="0.4993" stop-color="#838383"/><stop offset="0.5048" stop-color="#9e9e9e"/><stop offset="0.5075" stop-color="#adadad"/><stop offset="0.5088" stop-color="#afafaf"/><stop offset="0.5238" stop-color="#858585"/><stop offset="0.5293" stop-color="#7e7e7e"/><stop offset="0.5333" stop-color="#6c6c6c"/><stop offset="0.5483" stop-color="#585858"/><stop offset="0.5660" stop-color="#424242"/><stop offset="0.5769" stop-color="#242424"/><stop offset="0.5837" stop-color="#191919"/><stop offset="0.5986" stop-color="#181818"/><stop offset="0.6068" stop-color="#232323"/><stop offset="0.6163" stop-color="#3b3b3b"/><stop offset="0.6190" stop-color="#414141"/><stop offset="0.6449" stop-color="#626262"/><stop offset="0.6463" stop-color="#646464"/><stop offset="0.6476" stop-color="#6a6a6a"/><stop offset="0.6503" stop-color="#7f7f7f"/><stop offset="0.6531" stop-color="#858585"/><stop offset="0.6612" stop-color="#b0b0b0"/><stop offset="0.6776" stop-color="#848484"/><stop offset="0.6816" stop-color="#808080"/><stop offset="0.6871" stop-color="#6b6b6b"/><stop offset="0.7170" stop-color="#464646"/><stop offset="0.7197" stop-color="#424242"/><stop offset="0.7293" stop-color="#272727"/><stop offset="0.7361" stop-color="#1a1a1a"/><stop offset="0.7401" stop-color="#181818"/><stop offset="1.0000" stop-color="#181818"/></linearGradient>
<clipPath id="pc"><rect x="140.15" y="66.30" width="840.65" height="735.00"/></clipPath>
<pattern id="ln" patternUnits="userSpaceOnUse" x="148.05" y="0" width="6.949" height="10"><rect x="0" y="0" width="1.15" height="10" fill="#000"/></pattern>
</defs>
<rect width="1200" height="900" fill="#fff"/>
<g clip-path="url(#pc)">
<g filter="url(#spec)">
<rect x="130" y="60" width="860" height="750" fill="#000"/>
<rect x="139.85" y="66.30" width="9.05" height="735.00" fill="url(#c0)"/>
<rect x="148.30" y="66.30" width="7.54" height="735.00" fill="url(#c1)"/>
<rect x="155.23" y="66.30" width="7.54" height="735.00" fill="url(#c2)"/>
<rect x="162.17" y="66.30" width="7.54" height="735.00" fill="url(#c3)"/>
<rect x="169.10" y="66.30" width="7.54" height="735.00" fill="url(#c4)"/>
<rect x="176.04" y="66.30" width="7.53" height="735.00" fill="url(#c5)"/>
<rect x="182.97" y="66.30" width="7.54" height="735.00" fill="url(#c6)"/>
<rect x="189.91" y="66.30" width="7.54" height="735.00" fill="url(#c7)"/>
<rect x="196.84" y="66.30" width="7.54" height="735.00" fill="url(#c8)"/>
<rect x="203.78" y="66.30" width="7.54" height="735.00" fill="url(#c9)"/>
<rect x="210.71" y="66.30" width="7.54" height="735.00" fill="url(#c10)"/>
<rect x="217.65" y="66.30" width="7.54" height="735.00" fill="url(#c11)"/>
<rect x="224.58" y="66.30" width="7.54" height="735.00" fill="url(#c12)"/>
<rect x="231.52" y="66.30" width="7.54" height="735.00" fill="url(#c13)"/>
<rect x="238.45" y="66.30" width="7.54" height="735.00" fill="url(#c14)"/>
<rect x="245.39" y="66.30" width="7.54" height="735.00" fill="url(#c15)"/>
<rect x="252.32" y="66.30" width="7.54" height="735.00" fill="url(#c16)"/>
<rect x="259.26" y="66.30" width="7.54" height="735.00" fill="url(#c17)"/>
<rect x="266.19" y="66.30" width="7.54" height="735.00" fill="url(#c18)"/>
<rect x="273.13" y="66.30" width="7.54" height="735.00" fill="url(#c19)"/>
<rect x="280.06" y="66.30" width="7.53" height="735.00" fill="url(#c20)"/>
<rect x="287.00" y="66.30" width="7.54" height="735.00" fill="url(#c21)"/>
<rect x="293.94" y="66.30" width="7.53" height="735.00" fill="url(#c22)"/>
<rect x="300.87" y="66.30" width="7.54" height="735.00" fill="url(#c23)"/>
<rect x="307.81" y="66.30" width="7.53" height="735.00" fill="url(#c24)"/>
<rect x="314.74" y="66.30" width="7.54" height="735.00" fill="url(#c25)"/>
<rect x="321.68" y="66.30" width="7.53" height="735.00" fill="url(#c26)"/>
<rect x="328.61" y="66.30" width="7.54" height="735.00" fill="url(#c27)"/>
<rect x="335.54" y="66.30" width="7.54" height="735.00" fill="url(#c28)"/>
<rect x="342.48" y="66.30" width="7.54" height="735.00" fill="url(#c29)"/>
<rect x="349.41" y="66.30" width="7.54" height="735.00" fill="url(#c30)"/>
<rect x="356.35" y="66.30" width="7.54" height="735.00" fill="url(#c31)"/>
<rect x="363.28" y="66.30" width="7.54" height="735.00" fill="url(#c32)"/>
<rect x="370.22" y="66.30" width="7.54" height="735.00" fill="url(#c33)"/>
<rect x="377.15" y="66.30" width="7.54" height="735.00" fill="url(#c34)"/>
<rect x="384.09" y="66.30" width="7.54" height="735.00" fill="url(#c35)"/>
<rect x="391.02" y="66.30" width="7.54" height="735.00" fill="url(#c36)"/>
<rect x="397.96" y="66.30" width="7.53" height="735.00" fill="url(#c37)"/>
<rect x="404.89" y="66.30" width="7.54" height="735.00" fill="url(#c38)"/>
<rect x="411.83" y="66.30" width="7.53" height="735.00" fill="url(#c39)"/>
<rect x="418.76" y="66.30" width="7.54" height="735.00" fill="url(#c40)"/>
<rect x="425.70" y="66.30" width="7.53" height="735.00" fill="url(#c41)"/>
<rect x="432.63" y="66.30" width="7.54" height="735.00" fill="url(#c42)"/>
<rect x="439.57" y="66.30" width="7.53" height="735.00" fill="url(#c43)"/>
<rect x="446.50" y="66.30" width="7.54" height="735.00" fill="url(#c44)"/>
<rect x="453.44" y="66.30" width="7.53" height="735.00" fill="url(#c45)"/>
<rect x="460.37" y="66.30" width="7.54" height="735.00" fill="url(#c46)"/>
<rect x="467.31" y="66.30" width="7.53" height="735.00" fill="url(#c47)"/>
<rect x="474.24" y="66.30" width="7.54" height="735.00" fill="url(#c48)"/>
<rect x="481.18" y="66.30" width="7.53" height="735.00" fill="url(#c49)"/>
<rect x="488.11" y="66.30" width="7.54" height="735.00" fill="url(#c50)"/>
<rect x="495.05" y="66.30" width="7.53" height="735.00" fill="url(#c51)"/>
<rect x="501.98" y="66.30" width="7.54" height="735.00" fill="url(#c52)"/>
<rect x="508.92" y="66.30" width="7.53" height="735.00" fill="url(#c53)"/>
<rect x="515.86" y="66.30" width="7.53" height="735.00" fill="url(#c54)"/>
<rect x="522.79" y="66.30" width="7.54" height="735.00" fill="url(#c55)"/>
<rect x="529.73" y="66.30" width="7.53" height="735.00" fill="url(#c56)"/>
<rect x="536.66" y="66.30" width="7.54" height="735.00" fill="url(#c57)"/>
<rect x="543.60" y="66.30" width="7.53" height="735.00" fill="url(#c58)"/>
<rect x="550.53" y="66.30" width="7.54" height="735.00" fill="url(#c59)"/>
<rect x="557.47" y="66.30" width="7.53" height="735.00" fill="url(#c60)"/>
<rect x="564.40" y="66.30" width="7.54" height="735.00" fill="url(#c61)"/>
<rect x="571.34" y="66.30" width="7.53" height="735.00" fill="url(#c62)"/>
<rect x="578.27" y="66.30" width="7.54" height="735.00" fill="url(#c63)"/>
<rect x="585.21" y="66.30" width="7.53" height="735.00" fill="url(#c64)"/>
<rect x="592.14" y="66.30" width="7.54" height="735.00" fill="url(#c65)"/>
<rect x="599.08" y="66.30" width="7.53" height="735.00" fill="url(#c66)"/>
<rect x="606.01" y="66.30" width="7.54" height="735.00" fill="url(#c67)"/>
<rect x="612.95" y="66.30" width="7.53" height="735.00" fill="url(#c68)"/>
<rect x="619.88" y="66.30" width="7.54" height="735.00" fill="url(#c69)"/>
<rect x="626.82" y="66.30" width="7.53" height="735.00" fill="url(#c70)"/>
<rect x="633.75" y="66.30" width="7.54" height="735.00" fill="url(#c71)"/>
<rect x="640.69" y="66.30" width="7.53" height="735.00" fill="url(#c72)"/>
<rect x="647.62" y="66.30" width="7.54" height="735.00" fill="url(#c73)"/>
<rect x="654.56" y="66.30" width="7.53" height="735.00" fill="url(#c74)"/>
<rect x="661.49" y="66.30" width="7.54" height="735.00" fill="url(#c75)"/>
<rect x="668.43" y="66.30" width="7.53" height="735.00" fill="url(#c76)"/>
<rect x="675.36" y="66.30" width="7.54" height="735.00" fill="url(#c77)"/>
<rect x="682.30" y="66.30" width="7.53" height="735.00" fill="url(#c78)"/>
<rect x="689.23" y="66.30" width="7.54" height="735.00" fill="url(#c79)"/>
<rect x="696.17" y="66.30" width="7.53" height="735.00" fill="url(#c80)"/>
<rect x="703.10" y="66.30" width="7.54" height="735.00" fill="url(#c81)"/>
<rect x="710.04" y="66.30" width="7.53" height="735.00" fill="url(#c82)"/>
<rect x="716.97" y="66.30" width="7.54" height="735.00" fill="url(#c83)"/>
<rect x="723.91" y="66.30" width="7.53" height="735.00" fill="url(#c84)"/>
<rect x="730.84" y="66.30" width="7.54" height="735.00" fill="url(#c85)"/>
<rect x="737.78" y="66.30" width="7.53" height="735.00" fill="url(#c86)"/>
<rect x="744.71" y="66.30" width="7.53" height="735.00" fill="url(#c87)"/>
<rect x="751.64" y="66.30" width="7.54" height="735.00" fill="url(#c88)"/>
<rect x="758.58" y="66.30" width="7.53" height="735.00" fill="url(#c89)"/>
<rect x="765.51" y="66.30" width="7.54" height="735.00" fill="url(#c90)"/>
<rect x="772.45" y="66.30" width="7.53" height="735.00" fill="url(#c91)"/>
<rect x="779.38" y="66.30" width="7.54" height="735.00" fill="url(#c92)"/>
<rect x="786.32" y="66.30" width="7.53" height="735.00" fill="url(#c93)"/>
<rect x="793.25" y="66.30" width="7.54" height="735.00" fill="url(#c94)"/>
<rect x="800.19" y="66.30" width="7.53" height="735.00" fill="url(#c95)"/>
<rect x="807.12" y="66.30" width="7.54" height="735.00" fill="url(#c96)"/>
<rect x="814.06" y="66.30" width="7.53" height="735.00" fill="url(#c97)"/>
<rect x="821.00" y="66.30" width="7.54" height="735.00" fill="url(#c98)"/>
<rect x="827.93" y="66.30" width="7.53" height="735.00" fill="url(#c99)"/>
<rect x="834.87" y="66.30" width="7.54" height="735.00" fill="url(#c100)"/>
<rect x="841.80" y="66.30" width="7.53" height="735.00" fill="url(#c101)"/>
<rect x="848.74" y="66.30" width="7.54" height="735.00" fill="url(#c102)"/>
<rect x="855.67" y="66.30" width="7.53" height="735.00" fill="url(#c103)"/>
<rect x="862.61" y="66.30" width="7.54" height="735.00" fill="url(#c104)"/>
<rect x="869.54" y="66.30" width="7.53" height="735.00" fill="url(#c105)"/>
<rect x="876.48" y="66.30" width="7.54" height="735.00" fill="url(#c106)"/>
<rect x="883.41" y="66.30" width="7.53" height="735.00" fill="url(#c107)"/>
<rect x="890.35" y="66.30" width="7.53" height="735.00" fill="url(#c108)"/>
<rect x="897.28" y="66.30" width="7.54" height="735.00" fill="url(#c109)"/>
<rect x="904.22" y="66.30" width="7.53" height="735.00" fill="url(#c110)"/>
<rect x="911.15" y="66.30" width="7.54" height="735.00" fill="url(#c111)"/>
<rect x="918.09" y="66.30" width="7.53" height="735.00" fill="url(#c112)"/>
<rect x="925.02" y="66.30" width="7.54" height="735.00" fill="url(#c113)"/>
<rect x="931.96" y="66.30" width="7.53" height="735.00" fill="url(#c114)"/>
<rect x="938.89" y="66.30" width="7.54" height="735.00" fill="url(#c115)"/>
<rect x="945.83" y="66.30" width="7.53" height="735.00" fill="url(#c116)"/>
<rect x="952.76" y="66.30" width="7.54" height="735.00" fill="url(#c117)"/>
<rect x="959.70" y="66.30" width="7.53" height="735.00" fill="url(#c118)"/>
<rect x="966.63" y="66.30" width="7.54" height="735.00" fill="url(#c119)"/>
<rect x="973.57" y="66.30" width="7.53" height="735.00" fill="url(#c120)"/>
<g fill="none" stroke-linejoin="round" stroke-linecap="round">
<path d="M140.0 284.4 L143.5 284.3 L147.0 283.7 L150.5 283.2 L154.0 283.1 L157.5 283.8 L161.0 284.1 L164.5 283.8 L168.0 284.0 L171.5 285.4 L175.0 285.0 L178.5 284.6 L182.0 284.8 L185.5 285.4 L189.0 285.1 L192.5 284.9 L196.0 284.0 L199.5 284.0 L203.0 284.4 L206.5 283.6 L210.0 284.5 L213.5 284.2 L217.0 285.2 L220.5 284.2 L224.0 285.2 L227.5 285.6 L231.0 284.7 L234.5 285.7 L238.0 285.8 L241.5 284.7 L245.0 285.7 L248.5 284.8 L252.0 285.4 L255.5 285.2 L259.0 284.8 L262.5 284.8 L266.0 285.4 L269.5 284.6 L273.0 284.2 L276.5 284.9 L280.0 284.4 L283.5 284.7 L287.0 283.6 L290.5 283.5 L294.0 283.9 L297.5 283.2 L301.0 282.9 L304.5 282.3 L308.0 281.7 L311.5 282.7 L315.0 281.3 L318.5 282.1 L322.0 281.1 L325.5 281.6 L329.0 280.5" stroke="#cdcdcd" stroke-width="22" stroke-opacity="0.5"/>
<path d="M140.0 285.0 L143.5 284.0 L147.0 283.0 L150.5 284.1 L154.0 284.2 L157.5 284.4 L161.0 284.1 L164.5 283.8 L168.0 284.9 L171.5 283.8 L175.0 285.3 L178.5 285.3 L182.0 284.6 L185.5 285.4 L189.0 283.8 L192.5 284.1 L196.0 284.9 L199.5 283.7 L203.0 284.6 L206.5 284.5 L210.0 285.5 L213.5 285.7 L217.0 285.2 L220.5 285.6 L224.0 284.1 L227.5 285.6 L231.0 286.0 L234.5 285.0 L238.0 285.4 L241.5 285.3 L245.0 286.5 L248.5 285.0 L252.0 285.2 L255.5 284.1 L259.0 285.0 L262.5 285.4 L266.0 286.0 L269.5 285.9 L273.0 284.3 L276.5 285.8 L280.0 283.8 L283.5 285.0 L287.0 283.2 L290.5 283.5 L294.0 282.4 L297.5 284.0 L301.0 283.7 L304.5 281.8 L308.0 282.5 L311.5 281.6 L315.0 281.9 L318.5 281.7 L322.0 280.4 L325.5 281.8 L329.0 280.1 L332.5 280.1 L336.0 278.9" stroke="#e4e4e4" stroke-width="9" stroke-opacity="0.75" stroke-dasharray="0 30 26 6 34 5 22 8 40 4 30 12 18 9 24 400" stroke-linecap="butt"/>
<path d="M330.0 279.8 L333.5 279.7 L337.0 279.7 L340.5 280.4 L344.0 280.2 L347.5 279.6 L351.0 279.5 L354.5 280.1 L358.0 280.6 L361.5 280.2 L365.0 281.1 L368.5 280.8 L372.0 281.4 L375.5 281.9 L379.0 282.0 L382.5 282.6 L386.0 283.0 L389.5 282.4 L393.0 282.8 L396.5 283.4 L400.0 283.2 L403.5 282.7 L407.0 282.1 L410.5 282.0 L414.0 282.1 L417.5 282.1 L421.0 281.1 L424.5 281.0 L428.0 280.9 L431.5 281.2 L435.0 281.2 L438.5 281.3 L442.0 280.4 L445.5 280.8 L449.0 280.3 L452.5 281.5 L456.0 281.2 L459.5 282.6 L463.0 282.6 L466.5 283.4 L470.0 283.6 L473.5 283.9 L477.0 285.2 L480.5 285.6 L484.0 286.7 L487.5 288.4 L491.0 289.2 L494.5 290.3 L498.0 289.7 L501.5 291.0 L505.0 291.4 L508.5 291.7 L512.0 290.9 L515.5 289.7 L519.0 288.7 L522.5 287.2 L526.0 286.0 L529.5 284.2 L533.0 284.0 L536.5 283.4 L540.0 282.1 L543.5 282.7 L547.0 282.3 L550.5 282.5 L554.0 281.6 L557.5 281.7 L561.0 281.6 L564.5 281.9 L568.0 282.5 L571.5 283.4 L575.0 284.9 L578.5 284.4 L582.0 285.3 L585.5 284.8 L589.0 284.7 L592.5 285.1 L596.0 285.8 L599.5 285.3 L603.0 285.1 L606.5 284.7 L610.0 284.3 L613.5 284.4 L617.0 285.2 L620.5 284.3 L624.0 285.2 L627.5 284.7 L631.0 284.9 L634.5 285.8 L638.0 286.1 L641.5 288.0 L645.0 287.9 L648.5 288.3 L652.0 288.5 L655.5 289.0 L659.0 289.7 L662.5 290.5 L666.0 291.2 L669.5 292.1 L673.0 292.3 L676.5 291.8 L680.0 292.7 L683.5 293.5 L687.0 292.4 L690.5 292.7 L694.0 291.2 L697.5 291.0 L701.0 289.5 L704.5 289.0 L708.0 287.8 L711.5 286.3 L715.0 286.4 L718.5 286.1 L722.0 285.1 L725.5 284.6 L729.0 285.3 L732.5 285.5 L736.0 287.2 L739.5 287.4 L743.0 287.6 L746.5 287.9 L750.0 287.8 L753.5 288.5 L757.0 289.0 L760.5 289.3 L764.0 289.5 L767.5 288.7 L771.0 287.9 L774.5 289.2 L778.0 291.3 L781.5 291.2 L785.0 292.6 L788.5 294.4 L792.0 294.4 L795.5 295.9 L799.0 297.5 L802.5 297.3 L806.0 297.8 L809.5 299.4 L813.0 299.4 L816.5 299.2 L820.0 298.8 L823.5 297.6 L827.0 297.6 L830.5 296.9 L834.0 294.7 L837.5 294.4 L841.0 293.0 L844.5 292.4 L848.0 292.4 L851.5 292.6 L855.0 292.1 L858.5 292.6 L862.0 292.9 L865.5 293.1 L869.0 293.8 L872.5 294.2 L876.0 293.9 L879.5 294.3 L883.0 294.1 L886.5 294.7 L890.0 295.6 L893.5 295.1 L897.0 295.3 L900.5 295.4 L904.0 294.8 L907.5 294.7 L911.0 293.4 L914.5 292.8 L918.0 292.5 L921.5 290.9 L925.0 290.5 L928.5 288.3 L932.0 288.2 L935.5 286.6 L939.0 285.6 L942.5 285.4 L946.0 283.7 L949.5 283.6 L953.0 282.6 L956.5 283.7 L960.0 285.2 L963.5 285.5 L967.0 286.8 L970.5 284.7 L974.0 285.1 L977.5 284.1 L981.0 282.7" stroke="#c8c8c8" stroke-width="5.5" stroke-opacity="0.55"/>
<path d="M330.0 280.1 L333.5 280.4 L337.0 279.5 L340.5 279.6 L344.0 279.0 L347.5 279.0 L351.0 279.1 L354.5 279.4 L358.0 280.6 L361.5 280.1 L365.0 281.1 L368.5 280.3 L372.0 280.6 L375.5 281.0 L379.0 282.6 L382.5 282.8 L386.0 282.0 L389.5 283.7 L393.0 283.1 L396.5 283.5 L400.0 283.7 L403.5 282.8 L407.0 283.4 L410.5 282.2 L414.0 282.1 L417.5 281.7 L421.0 281.0 L424.5 281.5 L428.0 281.7 L431.5 281.1 L435.0 280.2 L438.5 281.1 L442.0 280.8 L445.5 280.5 L449.0 280.8 L452.5 280.7 L456.0 281.3 L459.5 282.1 L463.0 281.9 L466.5 283.2 L470.0 283.1 L473.5 283.9 L477.0 285.8 L480.5 286.4 L484.0 287.0 L487.5 288.6 L491.0 289.9 L494.5 290.4 L498.0 290.8 L501.5 290.6 L505.0 291.5 L508.5 291.7 L512.0 290.0 L515.5 289.9 L519.0 288.6 L522.5 287.2 L526.0 286.1 L529.5 284.0 L533.0 283.5 L536.5 283.9 L540.0 282.2 L543.5 281.6 L547.0 281.3 L550.5 281.6 L554.0 282.0 L557.5 281.2 L561.0 281.7 L564.5 282.2 L568.0 282.7 L571.5 284.2 L575.0 285.0 L578.5 285.4 L582.0 284.9 L585.5 284.6 L589.0 285.1 L592.5 285.5 L596.0 285.4 L599.5 285.6 L603.0 285.4 L606.5 285.4 L610.0 284.5 L613.5 284.1 L617.0 285.2 L620.5 285.3 L624.0 284.3 L627.5 284.6 L631.0 285.5 L634.5 286.4 L638.0 287.3 L641.5 286.7 L645.0 287.7 L648.5 288.6 L652.0 289.3 L655.5 290.0 L659.0 290.2 L662.5 290.6 L666.0 290.6 L669.5 291.6 L673.0 291.9 L676.5 292.8 L680.0 292.1 L683.5 292.4 L687.0 292.8 L690.5 291.9 L694.0 291.3 L697.5 290.1 L701.0 290.0 L704.5 289.2 L708.0 287.1 L711.5 287.5 L715.0 285.5 L718.5 285.4 L722.0 285.2 L725.5 284.6 L729.0 284.3 L732.5 286.0 L736.0 287.2 L739.5 287.1 L743.0 287.3 L746.5 288.1 L750.0 287.9 L753.5 289.4 L757.0 289.8 L760.5 290.4 L764.0 289.3 L767.5 289.2 L771.0 288.4 L774.5 289.6 L778.0 290.1 L781.5 291.1 L785.0 293.0 L788.5 293.4 L792.0 295.6 L795.5 296.1 L799.0 297.2 L802.5 298.6 L806.0 298.1 L809.5 298.1 L813.0 298.8 L816.5 299.5 L820.0 298.4 L823.5 297.7 L827.0 297.4 L830.5 296.1 L834.0 295.1 L837.5 294.0 L841.0 293.5 L844.5 293.3 L848.0 291.6 L851.5 292.8 L855.0 292.9 L858.5 292.9 L862.0 293.1 L865.5 293.3 L869.0 293.0 L872.5 293.9 L876.0 294.8 L879.5 294.7 L883.0 294.7 L886.5 294.8 L890.0 295.5 L893.5 294.4 L897.0 294.8 L900.5 295.9 L904.0 295.0 L907.5 294.7 L911.0 293.8 L914.5 292.4 L918.0 292.1 L921.5 291.1 L925.0 289.3 L928.5 288.8 L932.0 288.4 L935.5 286.1 L939.0 285.0 L942.5 284.3 L946.0 284.5 L949.5 284.2 L953.0 282.5 L956.5 284.4 L960.0 284.4 L963.5 285.7 L967.0 286.8 L970.5 284.9 L974.0 284.4 L977.5 283.9 L981.0 282.3" stroke="#fafafa" stroke-width="2.3"/>
<path d="M140.0 444.7 L143.5 443.4 L147.0 444.0 L150.5 442.2 L154.0 442.6 L157.5 440.3 L161.0 440.4 L164.5 439.6 L168.0 440.3 L171.5 440.3 L175.0 439.9 L178.5 440.3 L182.0 440.9 L185.5 440.7 L189.0 440.0 L192.5 441.3 L196.0 441.5 L199.5 441.0 L203.0 441.2 L206.5 440.7 L210.0 442.5 L213.5 441.7 L217.0 441.9 L220.5 443.8 L224.0 442.6 L227.5 442.7 L231.0 443.5 L234.5 444.0 L238.0 444.0 L241.5 443.3 L245.0 443.8 L248.5 442.1 L252.0 444.1 L255.5 442.8 L259.0 442.1 L262.5 441.2 L266.0 439.9 L269.5 440.4 L273.0 438.6 L276.5 436.9 L280.0 436.6 L283.5 435.6 L287.0 433.9 L290.5 431.8 L294.0 432.3" stroke="#e4e4e4" stroke-width="4" stroke-opacity="0.5" stroke-dasharray="14 9 22 12 9 7 30 10 16 8 12 400" stroke-linecap="butt"/>
<path d="M290.0 432.5 L293.5 431.9 L297.0 430.1 L300.5 429.5 L304.0 429.8 L307.5 429.0 L311.0 429.7 L314.5 429.7 L318.0 429.7 L321.5 429.2 L325.0 429.3 L328.5 430.4 L332.0 431.3 L335.5 432.0 L339.0 432.5 L342.5 433.7 L346.0 435.0 L349.5 436.1 L353.0 437.2 L356.5 437.3 L360.0 438.9 L363.5 440.3 L367.0 440.7 L370.5 440.2 L374.0 440.3 L377.5 439.9 L381.0 438.8 L384.5 439.7 L388.0 438.5 L391.5 438.0 L395.0 436.9 L398.5 437.7 L402.0 438.0 L405.5 437.2 L409.0 437.6 L412.5 437.2 L416.0 438.4 L419.5 438.4 L423.0 437.7 L426.5 438.5 L430.0 438.0 L433.5 438.4 L437.0 438.1 L440.5 437.0 L444.0 437.1 L447.5 437.7 L451.0 436.3 L454.5 436.2 L458.0 437.0 L461.5 436.6 L465.0 435.6 L468.5 435.9 L472.0 436.2 L475.5 437.1 L479.0 437.6 L482.5 439.1 L486.0 439.8 L489.5 439.9 L493.0 441.7 L496.5 442.1 L500.0 443.1 L503.5 444.1 L507.0 444.3 L510.5 446.0 L514.0 446.3 L517.5 447.1 L521.0 447.2 L524.5 448.1 L528.0 449.0 L531.5 450.0 L535.0 448.6 L538.5 447.5 L542.0 446.4 L545.5 444.6 L549.0 442.8 L552.5 442.4 L556.0 442.0 L559.5 439.7 L563.0 439.4 L566.5 438.7 L570.0 437.5 L573.5 436.6 L577.0 437.4 L580.5 437.1 L584.0 437.3 L587.5 437.9 L591.0 438.3 L594.5 439.4 L598.0 440.7 L601.5 440.3 L605.0 442.1 L608.5 441.3 L612.0 441.5 L615.5 440.6 L619.0 440.5 L622.5 440.2 L626.0 439.7 L629.5 438.5 L633.0 439.2 L636.5 437.9 L640.0 438.8 L643.5 438.9 L647.0 440.5 L650.5 441.4 L654.0 443.0 L657.5 443.0 L661.0 443.7 L664.5 443.6 L668.0 444.2 L671.5 445.2 L675.0 445.2 L678.5 445.4 L682.0 446.2 L685.5 446.9 L689.0 446.4 L692.5 446.6 L696.0 447.2 L699.5 447.5 L703.0 447.9 L706.5 448.4 L710.0 448.5 L713.5 447.6 L717.0 447.7 L720.5 448.0 L724.0 448.7 L727.5 448.1 L731.0 448.0 L734.5 447.6 L738.0 447.8 L741.5 447.8 L745.0 447.3 L748.5 447.5 L752.0 447.3 L755.5 446.4 L759.0 446.2 L762.5 445.4 L766.0 445.3 L769.5 444.6 L773.0 445.0 L776.5 445.6 L780.0 447.3 L783.5 447.6 L787.0 447.9 L790.5 448.7 L794.0 448.5 L797.5 449.7 L801.0 451.1 L804.5 452.5 L808.0 452.9 L811.5 453.1 L815.0 453.7 L818.5 454.4 L822.0 456.0 L825.5 455.7 L829.0 454.2 L832.5 454.7 L836.0 453.2 L839.5 453.8 L843.0 452.9 L846.5 451.7 L850.0 450.9 L853.5 449.9 L857.0 450.6 L860.5 449.3 L864.0 449.0 L867.5 449.3 L871.0 448.7 L874.5 448.3 L878.0 448.5 L881.5 448.1 L885.0 448.3 L888.5 449.8 L892.0 449.7 L895.5 449.8 L899.0 450.1 L902.5 450.7 L906.0 451.6 L909.5 453.3 L913.0 452.3 L916.5 452.0 L920.0 452.1 L923.5 451.9 L927.0 451.6 L930.5 450.1 L934.0 449.1 L937.5 449.2 L941.0 447.4 L944.5 446.9 L948.0 446.4 L951.5 445.4 L955.0 445.0 L958.5 444.5 L962.0 445.2 L965.5 444.2 L969.0 443.9 L972.5 442.0 L976.0 440.4 L979.5 439.3" stroke="#c8c8c8" stroke-width="5.5" stroke-opacity="0.55"/>
<path d="M290.0 432.8 L293.5 431.0 L297.0 430.4 L300.5 428.9 L304.0 429.6 L307.5 429.5 L311.0 429.6 L314.5 430.1 L318.0 430.3 L321.5 430.6 L325.0 430.4 L328.5 430.9 L332.0 431.9 L335.5 432.0 L339.0 432.8 L342.5 433.3 L346.0 434.7 L349.5 435.1 L353.0 436.4 L356.5 437.9 L360.0 439.0 L363.5 440.7 L367.0 440.3 L370.5 440.4 L374.0 439.2 L377.5 439.9 L381.0 439.8 L384.5 438.3 L388.0 438.2 L391.5 438.0 L395.0 436.8 L398.5 437.5 L402.0 437.9 L405.5 437.9 L409.0 437.8 L412.5 438.2 L416.0 438.6 L419.5 438.8 L423.0 437.9 L426.5 438.2 L430.0 437.3 L433.5 438.4 L437.0 437.1 L440.5 437.3 L444.0 437.6 L447.5 436.8 L451.0 436.8 L454.5 436.5 L458.0 436.7 L461.5 436.2 L465.0 436.4 L468.5 436.3 L472.0 437.2 L475.5 436.9 L479.0 438.5 L482.5 439.6 L486.0 439.2 L489.5 440.8 L493.0 441.6 L496.5 441.5 L500.0 443.2 L503.5 443.6 L507.0 444.5 L510.5 446.3 L514.0 446.5 L517.5 447.1 L521.0 448.2 L524.5 448.2 L528.0 448.5 L531.5 450.4 L535.0 448.2 L538.5 447.9 L542.0 446.7 L545.5 444.7 L549.0 442.9 L552.5 442.2 L556.0 441.4 L559.5 440.8 L563.0 440.1 L566.5 438.1 L570.0 436.8 L573.5 437.8 L577.0 436.7 L580.5 438.3 L584.0 438.5 L587.5 438.7 L591.0 438.6 L594.5 439.0 L598.0 440.2 L601.5 440.6 L605.0 441.7 L608.5 441.0 L612.0 441.0 L615.5 441.1 L619.0 440.2 L622.5 440.3 L626.0 439.6 L629.5 438.5 L633.0 438.9 L636.5 438.0 L640.0 437.8 L643.5 439.7 L647.0 440.0 L650.5 441.3 L654.0 442.7 L657.5 442.8 L661.0 443.8 L664.5 443.6 L668.0 443.9 L671.5 444.7 L675.0 445.1 L678.5 445.9 L682.0 446.3 L685.5 446.9 L689.0 446.1 L692.5 446.5 L696.0 447.9 L699.5 447.8 L703.0 447.4 L706.5 448.1 L710.0 447.8 L713.5 447.7 L717.0 448.4 L720.5 448.5 L724.0 447.8 L727.5 448.3 L731.0 447.6 L734.5 448.4 L738.0 447.6 L741.5 447.6 L745.0 447.1 L748.5 447.3 L752.0 446.7 L755.5 447.0 L759.0 445.8 L762.5 446.0 L766.0 445.5 L769.5 445.8 L773.0 445.9 L776.5 446.3 L780.0 446.2 L783.5 446.7 L787.0 447.9 L790.5 448.9 L794.0 448.3 L797.5 449.8 L801.0 450.8 L804.5 451.4 L808.0 453.0 L811.5 453.5 L815.0 454.3 L818.5 455.6 L822.0 455.8 L825.5 454.8 L829.0 455.4 L832.5 454.9 L836.0 454.1 L839.5 452.8 L843.0 452.8 L846.5 451.0 L850.0 450.6 L853.5 450.2 L857.0 449.9 L860.5 450.0 L864.0 449.4 L867.5 449.1 L871.0 448.5 L874.5 448.6 L878.0 448.0 L881.5 449.2 L885.0 449.4 L888.5 449.7 L892.0 450.0 L895.5 450.0 L899.0 449.7 L902.5 451.6 L906.0 452.5 L909.5 453.1 L913.0 452.5 L916.5 453.4 L920.0 452.0 L923.5 451.3 L927.0 451.0 L930.5 450.7 L934.0 449.0 L937.5 448.1 L941.0 448.1 L944.5 447.0 L948.0 446.5 L951.5 446.2 L955.0 446.0 L958.5 445.6 L962.0 444.4 L965.5 444.1 L969.0 444.4 L972.5 442.5 L976.0 440.5 L979.5 438.6" stroke="#fafafa" stroke-width="2.3"/>
<path d="M140.0 552.3 L143.5 551.2 L147.0 551.3 L150.5 551.3 L154.0 551.4 L157.5 551.1 L161.0 550.9 L164.5 550.2 L168.0 550.6 L171.5 551.4 L175.0 551.4 L178.5 552.1 L182.0 551.2 L185.5 552.7 L189.0 552.2 L192.5 552.2 L196.0 552.1 L199.5 552.3 L203.0 553.8 L206.5 553.7 L210.0 554.2 L213.5 553.8 L217.0 553.0 L220.5 552.4 L224.0 552.7 L227.5 552.1 L231.0 551.8 L234.5 552.1 L238.0 551.9 L241.5 552.2 L245.0 551.7 L248.5 550.4 L252.0 550.4 L255.5 550.7 L259.0 551.1 L262.5 551.9 L266.0 551.8 L269.5 552.1 L273.0 551.9 L276.5 553.0 L280.0 554.0 L283.5 552.9 L287.0 553.5 L290.5 554.1 L294.0 554.1 L297.5 552.8 L301.0 553.2 L304.5 552.8 L308.0 553.2 L311.5 552.2 L315.0 550.7 L318.5 549.6 L322.0 547.8" stroke="#cdcdcd" stroke-width="13" stroke-opacity="0.55"/>
<path d="M140.0 550.6 L143.5 550.7 L147.0 552.0 L150.5 550.7 L154.0 550.3 L157.5 551.8 L161.0 551.1 L164.5 551.4 L168.0 551.5 L171.5 551.1 L175.0 550.5 L178.5 552.0 L182.0 551.9 L185.5 552.6 L189.0 552.7 L192.5 553.1 L196.0 551.6 L199.5 552.1 L203.0 554.0 L206.5 553.7 L210.0 554.4 L213.5 552.2 L217.0 553.1 L220.5 551.7 L224.0 551.8 L227.5 551.4 L231.0 551.5 L234.5 551.4 L238.0 550.8 L241.5 551.9 L245.0 551.5 L248.5 551.5 L252.0 552.0 L255.5 550.1 L259.0 550.2 L262.5 550.8 L266.0 552.5 L269.5 552.5 L273.0 553.2 L276.5 552.4 L280.0 552.6 L283.5 553.4 L287.0 554.5 L290.5 552.9 L294.0 554.1 L297.5 554.0 L301.0 553.2 L304.5 553.7 L308.0 553.5 L311.5 551.0 L315.0 550.4 L318.5 549.5 L322.0 546.9 L325.5 545.2 L329.0 545.4" stroke="#e4e4e4" stroke-width="7" stroke-opacity="0.75" stroke-dasharray="60 4 50 6 44 5 400" stroke-linecap="butt"/>
<path d="M325.0 546.2 L328.5 545.0 L332.0 545.0 L335.5 545.7 L339.0 544.8 L342.5 545.7 L346.0 545.4 L349.5 546.4 L353.0 545.4 L356.5 545.5 L360.0 545.3 L363.5 545.7 L367.0 546.1 L370.5 545.5 L374.0 546.3 L377.5 546.0 L381.0 545.0 L384.5 545.3 L388.0 545.9 L391.5 545.9 L395.0 547.4 L398.5 547.8 L402.0 548.3 L405.5 547.7 L409.0 547.7 L412.5 548.4 L416.0 549.1 L419.5 548.2 L423.0 548.9 L426.5 549.4 L430.0 551.2 L433.5 551.5 L437.0 551.2 L440.5 552.5 L444.0 551.9 L447.5 551.2 L451.0 551.2 L454.5 551.4 L458.0 550.9 L461.5 550.2 L465.0 549.2 L468.5 548.4 L472.0 547.7 L475.5 548.3 L479.0 549.1 L482.5 549.3 L486.0 549.1 L489.5 548.7 L493.0 550.9 L496.5 550.9 L500.0 552.0 L503.5 554.2 L507.0 555.3 L510.5 556.7 L514.0 557.3 L517.5 559.5 L521.0 559.6 L524.5 558.3 L528.0 559.5 L531.5 559.2 L535.0 559.2 L538.5 558.4 L542.0 558.2 L545.5 557.8 L549.0 557.1 L552.5 555.2 L556.0 553.6 L559.5 552.9 L563.0 551.1 L566.5 550.8 L570.0 550.0 L573.5 549.3 L577.0 549.3 L580.5 550.3 L584.0 550.6 L587.5 550.5 L591.0 551.2 L594.5 552.1 L598.0 553.6 L601.5 553.9 L605.0 554.4 L608.5 555.2 L612.0 556.1 L615.5 557.4 L619.0 556.7 L622.5 556.1 L626.0 556.7 L629.5 556.1 L633.0 555.5 L636.5 554.5 L640.0 554.1 L643.5 554.1 L647.0 552.6 L650.5 552.1 L654.0 551.1 L657.5 551.5 L661.0 551.1 L664.5 552.1 L668.0 552.6 L671.5 552.4 L675.0 553.9 L678.5 555.8 L682.0 555.7 L685.5 557.7 L689.0 557.6 L692.5 558.9 L696.0 560.2 L699.5 561.1 L703.0 561.5 L706.5 561.1 L710.0 561.8 L713.5 561.5 L717.0 563.0 L720.5 563.0 L724.0 562.5 L727.5 561.6 L731.0 560.7 L734.5 559.3 L738.0 558.2 L741.5 557.9 L745.0 555.6 L748.5 555.6 L752.0 554.0 L755.5 553.4 L759.0 553.0 L762.5 551.9 L766.0 551.9 L769.5 551.7 L773.0 551.8 L776.5 552.6 L780.0 553.5 L783.5 555.2 L787.0 555.7 L790.5 558.3 L794.0 559.2 L797.5 560.7 L801.0 561.1 L804.5 562.7 L808.0 563.2 L811.5 565.2 L815.0 565.4 L818.5 566.1 L822.0 567.4 L825.5 567.5 L829.0 566.8 L832.5 567.1 L836.0 565.9 L839.5 566.3 L843.0 565.4 L846.5 564.9 L850.0 564.0 L853.5 563.5 L857.0 562.9 L860.5 560.9 L864.0 560.6 L867.5 561.3 L871.0 560.6 L874.5 560.9 L878.0 560.0 L881.5 559.6 L885.0 560.5 L888.5 559.9 L892.0 560.3 L895.5 561.1 L899.0 560.7 L902.5 561.5 L906.0 561.4 L909.5 562.0 L913.0 563.7 L916.5 562.5 L920.0 561.8 L923.5 561.0 L927.0 560.4 L930.5 560.2 L934.0 559.8 L937.5 559.5 L941.0 558.9 L944.5 557.3 L948.0 556.7 L951.5 555.9 L955.0 555.8 L958.5 556.4 L962.0 555.8 L965.5 556.2 L969.0 556.4 L972.5 554.8 L976.0 552.8 L979.5 550.6" stroke="#c8c8c8" stroke-width="5.5" stroke-opacity="0.55"/>
<path d="M325.0 546.0 L328.5 545.2 L332.0 545.1 L335.5 544.8 L339.0 545.6 L342.5 545.1 L346.0 546.0 L349.5 546.4 L353.0 545.6 L356.5 545.9 L360.0 545.7 L363.5 545.6 L367.0 546.3 L370.5 545.5 L374.0 546.2 L377.5 545.9 L381.0 544.8 L384.5 545.6 L388.0 545.5 L391.5 546.2 L395.0 547.1 L398.5 547.5 L402.0 547.7 L405.5 548.3 L409.0 547.9 L412.5 547.9 L416.0 548.9 L419.5 548.7 L423.0 549.4 L426.5 549.5 L430.0 550.8 L433.5 551.3 L437.0 552.0 L440.5 552.7 L444.0 551.4 L447.5 551.9 L451.0 551.2 L454.5 551.6 L458.0 551.7 L461.5 551.1 L465.0 549.5 L468.5 549.5 L472.0 548.8 L475.5 549.0 L479.0 548.6 L482.5 549.0 L486.0 549.0 L489.5 548.7 L493.0 550.0 L496.5 552.0 L500.0 552.2 L503.5 553.8 L507.0 555.3 L510.5 556.2 L514.0 557.8 L517.5 559.0 L521.0 558.5 L524.5 558.3 L528.0 558.9 L531.5 559.0 L535.0 558.8 L538.5 559.1 L542.0 557.3 L545.5 556.6 L549.0 557.1 L552.5 556.1 L556.0 554.8 L559.5 553.2 L563.0 551.1 L566.5 550.4 L570.0 550.2 L573.5 549.8 L577.0 549.3 L580.5 550.1 L584.0 550.7 L587.5 550.3 L591.0 552.2 L594.5 552.2 L598.0 553.3 L601.5 554.5 L605.0 554.9 L608.5 555.3 L612.0 556.6 L615.5 557.3 L619.0 556.7 L622.5 556.2 L626.0 556.6 L629.5 555.7 L633.0 555.3 L636.5 554.7 L640.0 554.4 L643.5 553.7 L647.0 553.3 L650.5 552.0 L654.0 551.8 L657.5 551.7 L661.0 551.1 L664.5 552.2 L668.0 552.1 L671.5 553.0 L675.0 554.1 L678.5 555.2 L682.0 556.1 L685.5 557.3 L689.0 558.6 L692.5 558.8 L696.0 560.2 L699.5 560.0 L703.0 560.8 L706.5 561.7 L710.0 561.9 L713.5 561.5 L717.0 562.1 L720.5 562.6 L724.0 563.1 L727.5 561.1 L731.0 560.1 L734.5 559.3 L738.0 558.3 L741.5 557.6 L745.0 556.0 L748.5 555.2 L752.0 553.5 L755.5 553.3 L759.0 553.4 L762.5 552.5 L766.0 552.2 L769.5 551.7 L773.0 551.9 L776.5 553.3 L780.0 553.6 L783.5 554.6 L787.0 556.7 L790.5 558.1 L794.0 559.7 L797.5 560.8 L801.0 561.6 L804.5 562.3 L808.0 563.2 L811.5 564.3 L815.0 566.2 L818.5 566.5 L822.0 567.6 L825.5 567.8 L829.0 566.7 L832.5 566.9 L836.0 565.6 L839.5 566.0 L843.0 564.7 L846.5 565.0 L850.0 563.9 L853.5 563.0 L857.0 561.7 L860.5 561.2 L864.0 560.6 L867.5 561.3 L871.0 560.5 L874.5 560.3 L878.0 560.0 L881.5 559.6 L885.0 560.2 L888.5 560.2 L892.0 560.5 L895.5 561.0 L899.0 561.1 L902.5 560.8 L906.0 562.4 L909.5 562.0 L913.0 563.1 L916.5 563.5 L920.0 563.0 L923.5 561.4 L927.0 561.1 L930.5 560.5 L934.0 559.3 L937.5 558.8 L941.0 558.3 L944.5 557.1 L948.0 557.1 L951.5 556.7 L955.0 555.2 L958.5 556.6 L962.0 555.9 L965.5 556.3 L969.0 555.9 L972.5 554.9 L976.0 552.5 L979.5 550.9" stroke="#fafafa" stroke-width="2.3"/>
</g>
<rect x="773.0" y="258.4" width="1.5" height="51.0" fill="#797979" style="mix-blend-mode:lighten"/>
<rect x="794.0" y="267.5" width="1.5" height="57.7" fill="#6c6c6c" style="mix-blend-mode:lighten"/>
<rect x="482.0" y="258.5" width="1.5" height="47.9" fill="#707070" style="mix-blend-mode:lighten"/>
<rect x="440.0" y="251.6" width="1.5" height="43.7" fill="#797979" style="mix-blend-mode:lighten"/>
<rect x="496.0" y="254.9" width="1.5" height="47.7" fill="#727272" style="mix-blend-mode:lighten"/>
<rect x="718.0" y="263.6" width="1.5" height="33.8" fill="#7b7b7b" style="mix-blend-mode:lighten"/>
<rect x="974.0" y="259.0" width="1.5" height="38.4" fill="#767676" style="mix-blend-mode:lighten"/>
<rect x="655.0" y="269.1" width="1.5" height="48.5" fill="#6d6d6d" style="mix-blend-mode:lighten"/>
<rect x="912.0" y="276.9" width="1.5" height="30.7" fill="#6f6f6f" style="mix-blend-mode:lighten"/>
<rect x="877.0" y="267.9" width="1.5" height="54.4" fill="#777777" style="mix-blend-mode:lighten"/>
<rect x="704.0" y="265.4" width="1.5" height="33.8" fill="#6c6c6c" style="mix-blend-mode:lighten"/>
<rect x="635.0" y="248.2" width="1.5" height="57.1" fill="#777777" style="mix-blend-mode:lighten"/>
<rect x="669.0" y="274.1" width="1.5" height="27.9" fill="#7a7a7a" style="mix-blend-mode:lighten"/>
<rect x="461.0" y="253.3" width="1.5" height="45.1" fill="#6f6f6f" style="mix-blend-mode:lighten"/>
<rect x="967.0" y="268.5" width="1.5" height="31.4" fill="#696969" style="mix-blend-mode:lighten"/>
<rect x="954.0" y="248.8" width="1.5" height="53.8" fill="#6b6b6b" style="mix-blend-mode:lighten"/>
<rect x="898.0" y="415.0" width="1.5" height="49.1" fill="#6f6f6f" style="mix-blend-mode:lighten"/>
<rect x="954.0" y="424.0" width="1.5" height="51.2" fill="#7c7c7c" style="mix-blend-mode:lighten"/>
<rect x="884.0" y="425.3" width="1.5" height="42.2" fill="#6f6f6f" style="mix-blend-mode:lighten"/>
<rect x="732.0" y="415.5" width="1.5" height="43.2" fill="#6a6a6a" style="mix-blend-mode:lighten"/>
<rect x="517.0" y="422.1" width="1.5" height="39.8" fill="#7a7a7a" style="mix-blend-mode:lighten"/>
<rect x="725.0" y="415.8" width="1.5" height="53.2" fill="#767676" style="mix-blend-mode:lighten"/>
<rect x="655.0" y="411.7" width="1.5" height="56.9" fill="#7c7c7c" style="mix-blend-mode:lighten"/>
<rect x="877.0" y="429.0" width="1.5" height="41.8" fill="#6b6b6b" style="mix-blend-mode:lighten"/>
<rect x="440.0" y="411.9" width="1.5" height="51.5" fill="#7b7b7b" style="mix-blend-mode:lighten"/>
<rect x="787.0" y="415.1" width="1.5" height="43.4" fill="#707070" style="mix-blend-mode:lighten"/>
<rect x="496.0" y="422.4" width="1.5" height="49.6" fill="#6b6b6b" style="mix-blend-mode:lighten"/>
<rect x="780.0" y="425.3" width="1.5" height="38.5" fill="#696969" style="mix-blend-mode:lighten"/>
<rect x="454.0" y="401.6" width="1.5" height="57.9" fill="#6c6c6c" style="mix-blend-mode:lighten"/>
<rect x="822.0" y="428.6" width="1.5" height="38.5" fill="#757575" style="mix-blend-mode:lighten"/>
<rect x="510.0" y="527.8" width="1.5" height="57.6" fill="#7b7b7b" style="mix-blend-mode:lighten"/>
<rect x="440.0" y="520.7" width="1.5" height="42.7" fill="#797979" style="mix-blend-mode:lighten"/>
<rect x="482.0" y="517.8" width="1.5" height="43.9" fill="#727272" style="mix-blend-mode:lighten"/>
<rect x="850.0" y="546.6" width="1.5" height="43.1" fill="#777777" style="mix-blend-mode:lighten"/>
<rect x="697.0" y="526.4" width="1.5" height="58.9" fill="#6e6e6e" style="mix-blend-mode:lighten"/>
<rect x="593.0" y="518.6" width="1.5" height="48.4" fill="#6b6b6b" style="mix-blend-mode:lighten"/>
<rect x="551.0" y="531.6" width="1.5" height="44.5" fill="#6e6e6e" style="mix-blend-mode:lighten"/>
<rect x="711.0" y="532.5" width="1.5" height="51.4" fill="#6d6d6d" style="mix-blend-mode:lighten"/>
<rect x="759.0" y="523.4" width="1.5" height="46.8" fill="#787878" style="mix-blend-mode:lighten"/>
<rect x="427.0" y="527.6" width="1.5" height="48.4" fill="#717171" style="mix-blend-mode:lighten"/>
<rect x="600.0" y="525.3" width="1.5" height="51.6" fill="#737373" style="mix-blend-mode:lighten"/>
<rect x="780.0" y="532.5" width="1.5" height="51.3" fill="#6a6a6a" style="mix-blend-mode:lighten"/>
<rect x="739.0" y="535.0" width="1.5" height="44.1" fill="#696969" style="mix-blend-mode:lighten"/>
<rect x="531.0" y="539.4" width="1.5" height="45.4" fill="#797979" style="mix-blend-mode:lighten"/>
<g shape-rendering="crispEdges" fill="#000">
<rect x="148" y="66" width="1" height="736"/>
<rect x="155" y="66" width="1" height="736"/>
<rect x="162" y="66" width="1" height="736"/>
<rect x="169" y="66" width="1" height="736"/>
<rect x="176" y="66" width="1" height="736"/>
<rect x="183" y="66" width="1" height="736"/>
<rect x="190" y="66" width="1" height="736"/>
<rect x="197" y="66" width="1" height="736"/>
<rect x="204" y="66" width="1" height="736"/>
<rect x="211" y="66" width="1" height="736"/>
<rect x="217" y="66" width="1" height="736"/>
<rect x="224" y="66" width="1" height="736"/>
<rect x="231" y="66" width="1" height="736"/>
<rect x="238" y="66" width="1" height="736"/>
<rect x="245" y="66" width="1" height="736"/>
<rect x="252" y="66" width="1" height="736"/>
<rect x="259" y="66" width="1" height="736"/>
<rect x="266" y="66" width="1" height="736"/>
<rect x="273" y="66" width="1" height="736"/>
<rect x="280" y="66" width="1" height="736"/>
<rect x="287" y="66" width="1" height="736"/>
<rect x="294" y="66" width="1" height="736"/>
<rect x="301" y="66" width="1" height="736"/>
<rect x="308" y="66" width="1" height="736"/>
<rect x="315" y="66" width="1" height="736"/>
<rect x="321" y="66" width="1" height="736"/>
<rect x="328" y="66" width="1" height="736"/>
<rect x="335" y="66" width="1" height="736"/>
<rect x="342" y="66" width="1" height="736"/>
<rect x="349" y="66" width="1" height="736"/>
<rect x="356" y="66" width="1" height="736"/>
<rect x="363" y="66" width="1" height="736"/>
<rect x="370" y="66" width="1" height="736"/>
<rect x="377" y="66" width="1" height="736"/>
<rect x="384" y="66" width="1" height="736"/>
<rect x="391" y="66" width="1" height="736"/>
<rect x="398" y="66" width="1" height="736"/>
<rect x="405" y="66" width="1" height="736"/>
<rect x="412" y="66" width="1" height="736"/>
<rect x="419" y="66" width="1" height="736"/>
<rect x="426" y="66" width="1" height="736"/>
<rect x="432" y="66" width="1" height="736"/>
<rect x="439" y="66" width="1" height="736"/>
<rect x="446" y="66" width="1" height="736"/>
<rect x="453" y="66" width="1" height="736"/>
<rect x="460" y="66" width="1" height="736"/>
<rect x="467" y="66" width="1" height="736"/>
<rect x="474" y="66" width="1" height="736"/>
<rect x="481" y="66" width="1" height="736"/>
<rect x="488" y="66" width="1" height="736"/>
<rect x="495" y="66" width="1" height="736"/>
<rect x="502" y="66" width="1" height="736"/>
<rect x="509" y="66" width="1" height="736"/>
<rect x="516" y="66" width="1" height="736"/>
<rect x="523" y="66" width="1" height="736"/>
<rect x="530" y="66" width="1" height="736"/>
<rect x="536" y="66" width="1" height="736"/>
<rect x="543" y="66" width="1" height="736"/>
<rect x="550" y="66" width="1" height="736"/>
<rect x="557" y="66" width="1" height="736"/>
<rect x="564" y="66" width="1" height="736"/>
<rect x="571" y="66" width="1" height="736"/>
<rect x="578" y="66" width="1" height="736"/>
<rect x="585" y="66" width="1" height="736"/>
<rect x="592" y="66" width="1" height="736"/>
<rect x="599" y="66" width="1" height="736"/>
<rect x="606" y="66" width="1" height="736"/>
<rect x="613" y="66" width="1" height="736"/>
<rect x="620" y="66" width="1" height="736"/>
<rect x="627" y="66" width="1" height="736"/>
<rect x="634" y="66" width="1" height="736"/>
<rect x="640" y="66" width="1" height="736"/>
<rect x="647" y="66" width="1" height="736"/>
<rect x="654" y="66" width="1" height="736"/>
<rect x="661" y="66" width="1" height="736"/>
<rect x="668" y="66" width="1" height="736"/>
<rect x="675" y="66" width="1" height="736"/>
<rect x="682" y="66" width="1" height="736"/>
<rect x="689" y="66" width="1" height="736"/>
<rect x="696" y="66" width="1" height="736"/>
<rect x="703" y="66" width="1" height="736"/>
<rect x="710" y="66" width="1" height="736"/>
<rect x="717" y="66" width="1" height="736"/>
<rect x="724" y="66" width="1" height="736"/>
<rect x="731" y="66" width="1" height="736"/>
<rect x="738" y="66" width="1" height="736"/>
<rect x="745" y="66" width="1" height="736"/>
<rect x="751" y="66" width="1" height="736"/>
<rect x="758" y="66" width="1" height="736"/>
<rect x="765" y="66" width="1" height="736"/>
<rect x="772" y="66" width="1" height="736"/>
<rect x="779" y="66" width="1" height="736"/>
<rect x="786" y="66" width="1" height="736"/>
<rect x="793" y="66" width="1" height="736"/>
<rect x="800" y="66" width="1" height="736"/>
<rect x="807" y="66" width="1" height="736"/>
<rect x="814" y="66" width="1" height="736"/>
<rect x="821" y="66" width="1" height="736"/>
<rect x="828" y="66" width="1" height="736"/>
<rect x="835" y="66" width="1" height="736"/>
<rect x="842" y="66" width="1" height="736"/>
<rect x="849" y="66" width="1" height="736"/>
<rect x="855" y="66" width="1" height="736"/>
<rect x="862" y="66" width="1" height="736"/>
<rect x="869" y="66" width="1" height="736"/>
<rect x="876" y="66" width="1" height="736"/>
<rect x="883" y="66" width="1" height="736"/>
<rect x="890" y="66" width="1" height="736"/>
<rect x="897" y="66" width="1" height="736"/>
<rect x="904" y="66" width="1" height="736"/>
<rect x="911" y="66" width="1" height="736"/>
<rect x="918" y="66" width="1" height="736"/>
<rect x="925" y="66" width="1" height="736"/>
<rect x="932" y="66" width="1" height="736"/>
<rect x="939" y="66" width="1" height="736"/>
<rect x="946" y="66" width="1" height="736"/>
<rect x="953" y="66" width="1" height="736"/>
<rect x="959" y="66" width="1" height="736"/>
<rect x="966" y="66" width="1" height="736"/>
<rect x="973" y="66" width="1" height="736"/>
</g>
<rect x="140.15" y="66.30" width="1.4" height="735.00" fill="#000"/>
</g>
</g>
<g shape-rendering="crispEdges">
<rect x="1013.6" y="790.61" width="42.8" height="11.99" fill="rgb(0,0,143)"/>
<rect x="1013.6" y="779.12" width="42.8" height="11.99" fill="rgb(0,0,159)"/>
<rect x="1013.6" y="767.64" width="42.8" height="11.99" fill="rgb(0,0,175)"/>
<rect x="1013.6" y="756.15" width="42.8" height="11.99" fill="rgb(0,0,191)"/>
<rect x="1013.6" y="744.66" width="42.8" height="11.99" fill="rgb(0,0,207)"/>
<rect x="1013.6" y="733.17" width="42.8" height="11.99" fill="rgb(0,0,223)"/>
<rect x="1013.6" y="721.69" width="42.8" height="11.99" fill="rgb(0,0,239)"/>
<rect x="1013.6" y="710.20" width="42.8" height="11.99" fill="rgb(0,0,255)"/>
<rect x="1013.6" y="698.71" width="42.8" height="11.99" fill="rgb(0,16,255)"/>
<rect x="1013.6" y="687.23" width="42.8" height="11.99" fill="rgb(0,32,255)"/>
<rect x="1013.6" y="675.74" width="42.8" height="11.99" fill="rgb(0,48,255)"/>
<rect x="1013.6" y="664.25" width="42.8" height="11.99" fill="rgb(0,64,255)"/>
<rect x="1013.6" y="652.76" width="42.8" height="11.99" fill="rgb(0,80,255)"/>
<rect x="1013.6" y="641.27" width="42.8" height="11.99" fill="rgb(0,96,255)"/>
<rect x="1013.6" y="629.79" width="42.8" height="11.99" fill="rgb(0,112,255)"/>
<rect x="1013.6" y="618.30" width="42.8" height="11.99" fill="rgb(0,128,255)"/>
<rect x="1013.6" y="606.81" width="42.8" height="11.99" fill="rgb(0,143,255)"/>
<rect x="1013.6" y="595.33" width="42.8" height="11.99" fill="rgb(0,159,255)"/>
<rect x="1013.6" y="583.84" width="42.8" height="11.99" fill="rgb(0,175,255)"/>
<rect x="1013.6" y="572.35" width="42.8" height="11.99" fill="rgb(0,191,255)"/>
<rect x="1013.6" y="560.86" width="42.8" height="11.99" fill="rgb(0,207,255)"/>
<rect x="1013.6" y="549.38" width="42.8" height="11.99" fill="rgb(0,223,255)"/>
<rect x="1013.6" y="537.89" width="42.8" height="11.99" fill="rgb(0,239,255)"/>
<rect x="1013.6" y="526.40" width="42.8" height="11.99" fill="rgb(0,255,255)"/>
<rect x="1013.6" y="514.91" width="42.8" height="11.99" fill="rgb(16,255,239)"/>
<rect x="1013.6" y="503.43" width="42.8" height="11.99" fill="rgb(32,255,223)"/>
<rect x="1013.6" y="491.94" width="42.8" height="11.99" fill="rgb(48,255,207)"/>
<rect x="1013.6" y="480.45" width="42.8" height="11.99" fill="rgb(64,255,191)"/>
<rect x="1013.6" y="468.96" width="42.8" height="11.99" fill="rgb(80,255,175)"/>
<rect x="1013.6" y="457.48" width="42.8" height="11.99" fill="rgb(96,255,159)"/>
<rect x="1013.6" y="445.99" width="42.8" height="11.99" fill="rgb(112,255,143)"/>
<rect x="1013.6" y="434.50" width="42.8" height="11.99" fill="rgb(128,255,128)"/>
<rect x="1013.6" y="423.01" width="42.8" height="11.99" fill="rgb(143,255,112)"/>
<rect x="1013.6" y="411.52" width="42.8" height="11.99" fill="rgb(159,255,96)"/>
<rect x="1013.6" y="400.04" width="42.8" height="11.99" fill="rgb(175,255,80)"/>
<rect x="1013.6" y="388.55" width="42.8" height="11.99" fill="rgb(191,255,64)"/>
<rect x="1013.6" y="377.06" width="42.8" height="11.99" fill="rgb(207,255,48)"/>
<rect x="1013.6" y="365.57" width="42.8" height="11.99" fill="rgb(223,255,32)"/>
<rect x="1013.6" y="354.09" width="42.8" height="11.99" fill="rgb(239,255,16)"/>
<rect x="1013.6" y="342.60" width="42.8" height="11.99" fill="rgb(255,255,0)"/>
<rect x="1013.6" y="331.11" width="42.8" height="11.99" fill="rgb(255,239,0)"/>
<rect x="1013.6" y="319.62" width="42.8" height="11.99" fill="rgb(255,223,0)"/>
<rect x="1013.6" y="308.14" width="42.8" height="11.99" fill="rgb(255,207,0)"/>
<rect x="1013.6" y="296.65" width="42.8" height="11.99" fill="rgb(255,191,0)"/>
<rect x="1013.6" y="285.16" width="42.8" height="11.99" fill="rgb(255,175,0)"/>
<rect x="1013.6" y="273.67" width="42.8" height="11.99" fill="rgb(255,159,0)"/>
<rect x="1013.6" y="262.19" width="42.8" height="11.99" fill="rgb(255,143,0)"/>
<rect x="1013.6" y="250.70" width="42.8" height="11.99" fill="rgb(255,128,0)"/>
<rect x="1013.6" y="239.21" width="42.8" height="11.99" fill="rgb(255,112,0)"/>
<rect x="1013.6" y="227.73" width="42.8" height="11.99" fill="rgb(255,96,0)"/>
<rect x="1013.6" y="216.24" width="42.8" height="11.99" fill="rgb(255,80,0)"/>
<rect x="1013.6" y="204.75" width="42.8" height="11.99" fill="rgb(255,64,0)"/>
<rect x="1013.6" y="193.26" width="42.8" height="11.99" fill="rgb(255,48,0)"/>
<rect x="1013.6" y="181.77" width="42.8" height="11.99" fill="rgb(255,32,0)"/>
<rect x="1013.6" y="170.29" width="42.8" height="11.99" fill="rgb(255,16,0)"/>
<rect x="1013.6" y="158.80" width="42.8" height="11.99" fill="rgb(255,0,0)"/>
<rect x="1013.6" y="147.31" width="42.8" height="11.99" fill="rgb(239,0,0)"/>
<rect x="1013.6" y="135.82" width="42.8" height="11.99" fill="rgb(223,0,0)"/>
<rect x="1013.6" y="124.34" width="42.8" height="11.99" fill="rgb(207,0,0)"/>
<rect x="1013.6" y="112.85" width="42.8" height="11.99" fill="rgb(191,0,0)"/>
<rect x="1013.6" y="101.36" width="42.8" height="11.99" fill="rgb(175,0,0)"/>
<rect x="1013.6" y="89.88" width="42.8" height="11.99" fill="rgb(159,0,0)"/>
<rect x="1013.6" y="78.39" width="42.8" height="11.99" fill="rgb(143,0,0)"/>
<rect x="1013.6" y="66.90" width="42.8" height="11.99" fill="rgb(128,0,0)"/>
</g>
<rect x="1013.6" y="66.9" width="42.8" height="735.2" fill="none" stroke="#262626" stroke-width="1.3"/>
<line x1="1047.4" y1="774.8" x2="1056.4" y2="774.8" stroke="#262626" stroke-width="1.3"/>
<text x="1064.8" y="783.5" font-size="25">4.5</text>
<line x1="1047.4" y1="638.6" x2="1056.4" y2="638.6" stroke="#262626" stroke-width="1.3"/>
<text x="1064.8" y="647.3" font-size="25">5</text>
<line x1="1047.4" y1="502.5" x2="1056.4" y2="502.5" stroke="#262626" stroke-width="1.3"/>
<text x="1064.8" y="511.2" font-size="25">5.5</text>
<line x1="1047.4" y1="366.3" x2="1056.4" y2="366.3" stroke="#262626" stroke-width="1.3"/>
<text x="1064.8" y="375.0" font-size="25">6</text>
<line x1="1047.4" y1="230.2" x2="1056.4" y2="230.2" stroke="#262626" stroke-width="1.3"/>
<text x="1064.8" y="238.8" font-size="25">6.5</text>
<line x1="1047.4" y1="94.0" x2="1056.4" y2="94.0" stroke="#262626" stroke-width="1.3"/>
<text x="1064.8" y="102.7" font-size="25">7</text>
<text x="131.2" y="792.8" font-size="25" text-anchor="end">-10</text>
<text x="131.2" y="722.8" font-size="25" text-anchor="end">-8</text>
<text x="131.2" y="652.8" font-size="25" text-anchor="end">-6</text>
<text x="131.2" y="582.8" font-size="25" text-anchor="end">-4</text>
<text x="131.2" y="512.8" font-size="25" text-anchor="end">-2</text>
<text x="131.2" y="442.8" font-size="25" text-anchor="end">0</text>
<text x="131.2" y="372.8" font-size="25" text-anchor="end">2</text>
<text x="131.2" y="302.8" font-size="25" text-anchor="end">4</text>
<text x="131.2" y="232.8" font-size="25" text-anchor="end">6</text>
<text x="131.2" y="162.8" font-size="25" text-anchor="end">8</text>
<text x="131.2" y="92.8" font-size="25" text-anchor="end">10</text>
<text x="279.0" y="833.7" font-size="25" text-anchor="middle">20</text>
<text x="417.8" y="833.7" font-size="25" text-anchor="middle">40</text>
<text x="556.6" y="833.7" font-size="25" text-anchor="middle">60</text>
<text x="695.4" y="833.7" font-size="25" text-anchor="middle">80</text>
<text x="834.2" y="833.7" font-size="25" text-anchor="middle">100</text>
<text x="973.0" y="833.7" font-size="25" text-anchor="middle">120</text>
<text x="560.6" y="868.3" font-size="27.3" text-anchor="middle">time [min]</text>
<text transform="translate(83.6,476.2) rotate(-90) scale(1.08,1)" font-size="27.5">Δ</text>
<text transform="translate(83.6,455) rotate(-90)" font-size="27.1" letter-spacing="0.25">f [Hz]</text>
<text x="560.5" y="53.4" font-size="27" font-weight="bold" text-anchor="middle" style="fill:#000" xml:space="preserve">f=4.65 MHz;  lat=50.04; long=14.48, time=0 is at 2017 05 30 20:00</text>
</svg></body></html>
